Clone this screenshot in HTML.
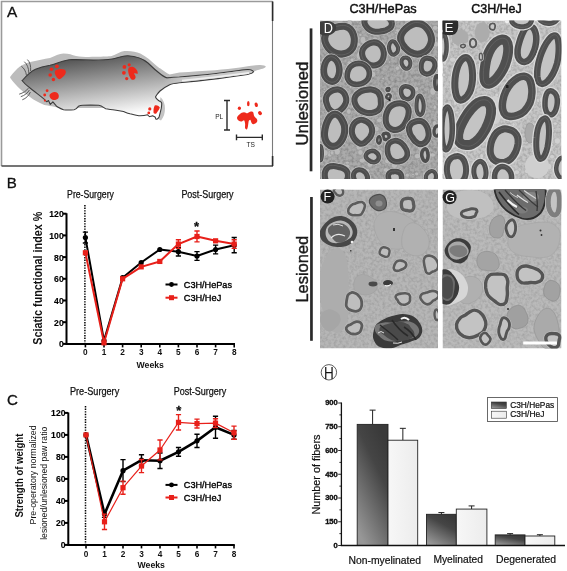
<!DOCTYPE html>
<html><head><meta charset="utf-8"><title>Figure</title>
<style>
html,body{margin:0;padding:0;background:#fff;width:567px;height:571px;overflow:hidden}
svg{display:block}
text{font-family:'Liberation Sans', Arial, Helvetica, sans-serif}
</style></head><body>
<svg width="567" height="571" viewBox="0 0 567 571">
<defs>
<linearGradient id="ratg" gradientUnits="userSpaceOnUse" x1="63.8" y1="52.5" x2="72.8" y2="121.9">
<stop offset="0" stop-color="#404040"/><stop offset="1" stop-color="#ffffff"/>
</linearGradient>
<linearGradient id="darkbar" x1="0.75" y1="0.05" x2="0.25" y2="1">
<stop offset="0" stop-color="#3a3a3a"/><stop offset="0.3" stop-color="#454545"/><stop offset="1" stop-color="#979797"/>
</linearGradient>
<linearGradient id="lightbar" x1="0" y1="0" x2="1" y2="0">
<stop offset="0" stop-color="#f7f7f7"/><stop offset="1" stop-color="#ececec"/>
</linearGradient>
<linearGradient id="tailg" gradientUnits="userSpaceOnUse" x1="163" y1="0" x2="185" y2="0">
<stop offset="0" stop-color="#c8c8c8" stop-opacity="0"/><stop offset="1" stop-color="#c8c8c8" stop-opacity="1"/>
</linearGradient>
<filter id="blur1" x="-10%" y="-10%" width="120%" height="120%"><feGaussianBlur stdDeviation="0.6"/></filter>
<filter id="blur2" x="-10%" y="-10%" width="120%" height="120%"><feGaussianBlur stdDeviation="1.2"/></filter>
<filter id="tex" x="0" y="0" width="100%" height="100%">
<feTurbulence type="fractalNoise" baseFrequency="0.35" numOctaves="2" seed="3" result="n"/>
<feColorMatrix in="n" type="matrix" values="0 0 0 0 0  0 0 0 0 0  0 0 0 0 0  0 0 0 -1.2 0.75" result="m"/>
<feComposite in="m" in2="SourceGraphic" operator="in"/>
</filter>
<clipPath id="cD"><rect x="320" y="20.5" width="118" height="158.5"/></clipPath>
<clipPath id="cE"><rect x="442.5" y="20.5" width="119" height="158.5"/></clipPath>
<clipPath id="cF"><rect x="320" y="189.5" width="118" height="159"/></clipPath>
<clipPath id="cG"><rect x="442.5" y="189.5" width="119" height="159"/></clipPath>
</defs>
<rect width="567" height="571" fill="#fff"/>

<g id="panelA">
<path d="M1.5 166 V1.5 H272.5" fill="none" stroke="#9a9a9a" stroke-width="1.6"/>
<path d="M272.5 1.5 V166" fill="none" stroke="#7a7a7a" stroke-width="1.1"/>
<path d="M273 166 H1.5" fill="none" stroke="#474747" stroke-width="1.7"/>
<path d="M272.6 1.5 V21 M272.6 156 V166" fill="none" stroke="#2a2a2a" stroke-width="1.6"/>
<text x="7.1" y="16.7" font-size="15.4" fill="#111" stroke="#111" stroke-width="0.3">A</text>
<path d="M10.1 77 C13 73 16.5 69 20.2 66.2 C24 63.8 27.5 62.5 31.4 61.7 C38 60.2 44 59 50 58 C55 56 59 53.8 63.5 53.5 C69 53.5 72 55 76 55.9 C82 57 88 57 95 56.8 C104 56.5 108 56.3 111.7 55.9 C116 55 120 51.5 124.4 51.1 C130 50.7 136 51.5 140.3 53.5 C147 57 151 61 156.2 65.4 C158 67 159 67.8 160 68.2 C164 71 167 73.5 169.7 74.5 C173 73.8 176 73.1 179.4 72.6 C192 71.6 204 70.9 215 70.2 C224 69.4 232 68.4 240 67.5 C247 66.6 253 65.3 259.4 64.9 C263 64.8 265.5 65.5 265.9 66.7 C265 68 263 68.7 261.3 69 C258 69.8 255.5 70.8 253.5 71.8 L240 73 L200 79 L168 85 L150 95 L140 108 L60 108 C52 106 46 105.5 43.2 104.4 C38 102.5 34 100 30 97 C24 93 16 86 10.3 78 Z" fill="#bcbcbc" filter="url(#blur1)"/>
<path d="M160.5 97 C163.5 100 165 104 165 108.5 C165 113 163.8 117 161 120.5 L158 119 L160 101 Z" fill="#c4c4c4" filter="url(#blur1)"/>
<path d="M22.3 80.5 C27 75 31 71.5 35.5 69.3 C40 67.2 45 66 50 65.2 C57 63.5 64 60 72 59.5 C84 60 100 61 112 59 C118 58 122 55.5 128 55.8 C136 56.2 142 58 148 63 C152 67 157 71.5 161 74.5 C163.5 76.3 165.5 77.6 167.3 77.9 C172 77.5 176 77.2 179.4 77 C186 76.4 192 75.9 198.8 75.3 C205 74.7 212 74 218 73.2 C224 72.4 230 71.6 235 71 C240 70.4 244 69.8 247.5 69.6 C250.5 69.5 252.8 70.3 253.5 71.8 C252.5 73.2 250 74 247.5 74.5 C243 75.2 239 75.8 235 76.3 C229 77.1 223 77.9 218 78.6 C211 79.5 205 80.2 198.8 80.9 C192 81.6 185 82.2 179.4 82.8 C175 83.3 172 83.8 169.7 84.7 C166 86.5 162 89 160 91 C158 93 155 97 155.6 97.2 C156.5 99 158 100 158.2 100.3 C160 101.5 161.8 102 161.7 103 C161.8 105 161.5 107 161.3 108.2 C160.5 112 159.5 115 159.1 117 C158 119 156.5 119.5 156 119.2 C155.5 118.5 155.3 117.5 155.1 117 C154 116.5 153 116 152.5 115.7 C151 116.5 150 116.5 149.4 116.6 C148.5 116 148 115.2 147.6 114.8 C145 115.5 142 115.8 138.8 115.7 C134 115 131 114 130 113.8 C127 113 125 112 123.5 111.5 C119 110.5 116 110 112.9 109.7 C109 109.5 107.5 109 105.8 108.8 C103 107 101 105.5 98.8 105.3 C93 105 88 105 82.9 105.3 C80.5 105.5 79.5 105.8 78.5 106.2 C77 108 76 109.5 74.1 109.7 C70 110 66 110 63.5 109.7 C60 108.5 58 107 56.5 106.2 L52.9 101.8 L50.3 104.4 L48.5 100.5 L46.8 101.8 L44.1 99.1 C40 96 34 91 30 88 C26 85 23.5 82.5 22 80.5 Z" fill="url(#ratg)" stroke="#3c3c3c" stroke-width="1.1" stroke-linejoin="round"/>
<path d="M163 78.2 C170 78 175 77.8 179.4 77.6 C192 76.9 205 75.4 218 73.8 C230 72.3 240 70.6 247.5 70.2 C250.5 70.1 252.3 70.7 252.7 71.8 C251.5 72.8 249.5 73.4 247.5 73.9 C236 75.7 226 77 218 78 C205 79.6 192 81 179.4 82.2 C172 82.9 168 83.4 163 84.5 Z" fill="url(#tailg)"/>
<path d="M182 80.7 C200 79 222 76.6 249 72.9" fill="none" stroke="#f4f4f4" stroke-width="1.7" opacity="0.9"/>
<g fill="none" stroke="#505050" stroke-width="0.9"><path d="M21.3 66.2 C24 68 26 71.5 26.5 75.5"/><path d="M24.3 61.7 C27 64 28.8 68 28.8 73"/><path d="M27.4 59.6 C30 62 31 66 30.6 71"/><path d="M19.2 94.2 C23 93 26.5 91 28.4 88.1"/><path d="M20.8 96.7 C24.5 95.5 27.8 93 29.4 90"/><path d="M22.3 99.8 C26 98.5 29 95.5 30.4 92"/></g>
<path d="M56 70 C58.5 68.8 62 68.6 64.5 69.5 C66.2 70.5 66.2 72.5 65 74.5 C63.5 76.5 61.5 78.5 59.5 79.3 C57.5 79 56 76.5 55 74 C54.4 72.5 54.8 71 56 70 Z" fill="#ee2a1c"/><circle cx="56.9" cy="66.3" r="1.9" fill="#ee2a1c"/><circle cx="51.4" cy="69.2" r="1.8" fill="#ee2a1c"/><circle cx="50.2" cy="75" r="1.8" fill="#ee2a1c"/><circle cx="53.4" cy="79.5" r="1.7" fill="#ee2a1c"/>
<path d="M51.5 93 C53.5 91.6 56 91.7 57.5 93 C59 94.5 59.2 96.5 58.3 98.2 C57 99.8 54.5 100.4 52.5 99.8 C50.5 99 49.3 97 49.5 95.3 C49.7 94.3 50.5 93.5 51.5 93 Z" fill="#ee2a1c"/><circle cx="47.1" cy="90.7" r="1.4" fill="#ee2a1c"/><circle cx="44.7" cy="95" r="1.4" fill="#ee2a1c"/><circle cx="44.9" cy="100.6" r="1.1" fill="#ee2a1c"/>
<path d="M129 67.5 C131 66 134 66.5 135.5 68.5 C137 70 138.3 72 137.5 74 C136.5 73.5 135 73 134 73.5 C134.5 75 136 76 135.5 78 C134.5 80 132.5 80.5 131 79 C129.5 77 128.5 74 128.2 71.5 C128 70 128.2 68.5 129 67.5 Z" fill="#ee2a1c"/><circle cx="129.2" cy="64.8" r="1.6" fill="#ee2a1c"/><circle cx="124.4" cy="66.9" r="1.9" fill="#ee2a1c"/><circle cx="123.9" cy="72.8" r="1.9" fill="#ee2a1c"/><circle cx="126.7" cy="78.6" r="1.6" fill="#ee2a1c"/>
<path d="M154.7 105.5 C156.5 104.8 158.5 105.5 159.8 107.2 C159.5 109.5 157.5 111.5 156.3 113.6 C155.3 114 154 113.8 153.6 113 C153.3 110.5 153.6 107.5 154.7 105.5 Z" fill="#ee2a1c"/><circle cx="149.8" cy="108.9" r="1.6" fill="#ee2a1c"/><circle cx="148.8" cy="112.9" r="1.4" fill="#ee2a1c"/>
<g stroke="#2a2a2a" stroke-width="1.4" fill="none"><path d="M227 100.5 V130 M224 100.5 H230 M224 130 H230"/><path d="M236.5 137.4 H262.3 M236.5 134.5 V140.3 M262.3 134.5 V140.3"/></g>
<text x="219.2" y="118.5" font-size="6.6" fill="#222" text-anchor="middle">PL</text>
<text x="250.6" y="147.3" font-size="6.6" fill="#222" text-anchor="middle">TS</text>
<path d="M239.4 114.5 C241 113 242.5 112.3 244 112.2 C245.5 112.3 246.5 113.5 247.4 113.3 C248.5 112.8 249.8 111.6 250.9 111.6 C252 111.5 253 111.8 253.2 112.2 C253.8 113.5 253.6 115 254.3 116.2 C255.2 117.5 256.8 118.3 257.2 119.7 C257.5 121 257.2 122 256.6 122.5 C255.5 123.5 254.3 124.3 253.2 124.2 C252.2 124 251.6 123.3 251.4 122.5 C251 121.5 250.8 120.2 250.3 119.7 C249.5 119.8 248.9 120.5 248.6 121.4 C248.2 123 248.4 124.5 248 126 C247.7 127.3 247.5 128.6 246.9 129.4 C246.3 129.6 245.5 129.2 245.1 128.3 C244.8 126.8 245.3 125.2 245.1 123.7 C245 122.2 244.6 120.8 244 120.2 C243.2 120.3 242.5 121.2 241.7 121.4 C240.7 121.6 239.7 121.3 238.8 120.8 C237.9 120.2 237.3 119.4 237.1 118.5 C236.9 117.7 237.1 116.8 237.7 116.2 C238.2 115.5 238.8 115 239.4 114.5 Z" fill="#ee2a1c"/>
<ellipse cx="239.4" cy="108.3" rx="1.6" ry="1.8" fill="#ee2a1c"/>
<ellipse cx="248.3" cy="103.7" rx="1.3" ry="2.6" fill="#ee2a1c"/>
<ellipse cx="256.3" cy="104.8" rx="1.6" ry="2.3" fill="#ee2a1c" transform="rotate(-15 256.3 104.8)"/>
<ellipse cx="260" cy="113.1" rx="1.8" ry="2.2" fill="#ee2a1c" transform="rotate(-40 260 113.1)"/>
</g>
<g>
<text x="6.7" y="187.7" font-size="15.1" fill="#111" stroke="#111" stroke-width="0.3">B</text>
<text x="90.5" y="197.6" font-size="10" fill="#111" stroke="#111" stroke-width="0.25" text-anchor="middle" textLength="46.8" lengthAdjust="spacingAndGlyphs">Pre-Surgery</text>
<text x="207.5" y="197.6" font-size="10" fill="#111" stroke="#111" stroke-width="0.25" text-anchor="middle" textLength="52.2" lengthAdjust="spacingAndGlyphs">Post-Surgery</text>
<text x="196.6" y="230.8" font-size="13" font-weight="bold" fill="#111" stroke="#111" stroke-width="0.3" text-anchor="middle">*</text>
<path d="M66.5 213.2 V343.9 H235.00000000000003" fill="none" stroke="#000" stroke-width="2"/>
<path d="M63.0 343.90 H66.5" stroke="#000" stroke-width="2"/>
<text x="63.7" y="347.30" font-size="9.8" font-weight="bold" fill="#000" stroke="#000" stroke-width="0.15" text-anchor="end" textLength="4.8" lengthAdjust="spacingAndGlyphs">0</text>
<path d="M63.0 322.20 H66.5" stroke="#000" stroke-width="2"/>
<text x="63.7" y="325.60" font-size="9.8" font-weight="bold" fill="#000" stroke="#000" stroke-width="0.15" text-anchor="end" textLength="9.6" lengthAdjust="spacingAndGlyphs">20</text>
<path d="M63.0 300.50 H66.5" stroke="#000" stroke-width="2"/>
<text x="63.7" y="303.90" font-size="9.8" font-weight="bold" fill="#000" stroke="#000" stroke-width="0.15" text-anchor="end" textLength="9.6" lengthAdjust="spacingAndGlyphs">40</text>
<path d="M63.0 278.80 H66.5" stroke="#000" stroke-width="2"/>
<text x="63.7" y="282.20" font-size="9.8" font-weight="bold" fill="#000" stroke="#000" stroke-width="0.15" text-anchor="end" textLength="9.6" lengthAdjust="spacingAndGlyphs">60</text>
<path d="M63.0 257.10 H66.5" stroke="#000" stroke-width="2"/>
<text x="63.7" y="260.50" font-size="9.8" font-weight="bold" fill="#000" stroke="#000" stroke-width="0.15" text-anchor="end" textLength="9.6" lengthAdjust="spacingAndGlyphs">80</text>
<path d="M63.0 235.40 H66.5" stroke="#000" stroke-width="2"/>
<text x="63.7" y="238.80" font-size="9.8" font-weight="bold" fill="#000" stroke="#000" stroke-width="0.15" text-anchor="end" textLength="14.4" lengthAdjust="spacingAndGlyphs">100</text>
<path d="M63.0 213.70 H66.5" stroke="#000" stroke-width="2"/>
<text x="63.7" y="217.10" font-size="9.8" font-weight="bold" fill="#000" stroke="#000" stroke-width="0.15" text-anchor="end" textLength="14.4" lengthAdjust="spacingAndGlyphs">120</text>
<path d="M85.40 343.9 V347.4" stroke="#000" stroke-width="1.6"/>
<text x="85.40" y="355.3" font-size="9.4" font-weight="bold" fill="#111" text-anchor="middle" textLength="4.6" lengthAdjust="spacingAndGlyphs">0</text>
<path d="M104.00 343.9 V347.4" stroke="#000" stroke-width="1.6"/>
<text x="104.00" y="355.3" font-size="9.4" font-weight="bold" fill="#111" text-anchor="middle" textLength="4.6" lengthAdjust="spacingAndGlyphs">1</text>
<path d="M122.60 343.9 V347.4" stroke="#000" stroke-width="1.6"/>
<text x="122.60" y="355.3" font-size="9.4" font-weight="bold" fill="#111" text-anchor="middle" textLength="4.6" lengthAdjust="spacingAndGlyphs">2</text>
<path d="M141.20 343.9 V347.4" stroke="#000" stroke-width="1.6"/>
<text x="141.20" y="355.3" font-size="9.4" font-weight="bold" fill="#111" text-anchor="middle" textLength="4.6" lengthAdjust="spacingAndGlyphs">3</text>
<path d="M159.80 343.9 V347.4" stroke="#000" stroke-width="1.6"/>
<text x="159.80" y="355.3" font-size="9.4" font-weight="bold" fill="#111" text-anchor="middle" textLength="4.6" lengthAdjust="spacingAndGlyphs">4</text>
<path d="M178.40 343.9 V347.4" stroke="#000" stroke-width="1.6"/>
<text x="178.40" y="355.3" font-size="9.4" font-weight="bold" fill="#111" text-anchor="middle" textLength="4.6" lengthAdjust="spacingAndGlyphs">5</text>
<path d="M197.00 343.9 V347.4" stroke="#000" stroke-width="1.6"/>
<text x="197.00" y="355.3" font-size="9.4" font-weight="bold" fill="#111" text-anchor="middle" textLength="4.6" lengthAdjust="spacingAndGlyphs">6</text>
<path d="M215.60 343.9 V347.4" stroke="#000" stroke-width="1.6"/>
<text x="215.60" y="355.3" font-size="9.4" font-weight="bold" fill="#111" text-anchor="middle" textLength="4.6" lengthAdjust="spacingAndGlyphs">7</text>
<path d="M234.20 343.9 V347.4" stroke="#000" stroke-width="1.6"/>
<text x="234.20" y="355.3" font-size="9.4" font-weight="bold" fill="#111" text-anchor="middle" textLength="4.6" lengthAdjust="spacingAndGlyphs">8</text>
<text x="150.2" y="368.4" font-size="9" font-weight="bold" fill="#111" text-anchor="middle" textLength="27.3" lengthAdjust="spacingAndGlyphs">Weeks</text>
<path d="M84.90 205 V343.9" stroke="#000" stroke-width="1.5" stroke-dasharray="1.4 1.2"/>
<text transform="translate(41.8 278.2) rotate(-90)" x="0" y="0" font-size="12.4" font-weight="bold" fill="#111" text-anchor="middle" textLength="133" lengthAdjust="spacingAndGlyphs">Sciatic functional index %</text>
<polyline points="85.40,237.57 104.00,340.64 122.60,277.71 141.20,262.52 159.80,249.50 178.40,251.67 197.00,256.01 215.60,249.50 234.20,245.16" fill="none" stroke="#000" stroke-width="2.0" stroke-linejoin="round"/>
<path d="M85.40 242.99 V232.14 M82.80 242.99 h5.2 M82.80 232.14 h5.2" stroke="#000" stroke-width="1.4" fill="none"/>
<circle cx="85.40" cy="237.57" r="2.6" fill="#000"/>
<circle cx="104.00" cy="340.64" r="2.6" fill="#000"/>
<circle cx="122.60" cy="277.71" r="2.6" fill="#000"/>
<circle cx="141.20" cy="262.52" r="2.6" fill="#000"/>
<circle cx="159.80" cy="249.50" r="2.6" fill="#000"/>
<path d="M178.40 256.01 V247.33 M175.80 256.01 h5.2 M175.80 247.33 h5.2" stroke="#000" stroke-width="1.4" fill="none"/>
<circle cx="178.40" cy="251.67" r="2.6" fill="#000"/>
<path d="M197.00 260.35 V251.67 M194.40 260.35 h5.2 M194.40 251.67 h5.2" stroke="#000" stroke-width="1.4" fill="none"/>
<circle cx="197.00" cy="256.01" r="2.6" fill="#000"/>
<path d="M215.60 253.84 V245.16 M213.00 253.84 h5.2 M213.00 245.16 h5.2" stroke="#000" stroke-width="1.4" fill="none"/>
<circle cx="215.60" cy="249.50" r="2.6" fill="#000"/>
<path d="M234.20 252.76 V237.57 M231.60 252.76 h5.2 M231.60 237.57 h5.2" stroke="#000" stroke-width="1.4" fill="none"/>
<circle cx="234.20" cy="245.16" r="2.6" fill="#000"/>
<polyline points="85.40,252.76 104.00,342.81 122.60,278.80 141.20,266.87 159.80,261.44 178.40,244.08 197.00,236.48 215.60,240.82 234.20,244.08" fill="none" stroke="#e8201a" stroke-width="2.0" stroke-linejoin="round"/>
<rect x="82.80" y="250.16" width="5.2" height="5.2" fill="#e8201a"/>
<rect x="101.40" y="340.21" width="5.2" height="5.2" fill="#e8201a"/>
<rect x="120.00" y="276.20" width="5.2" height="5.2" fill="#e8201a"/>
<rect x="138.60" y="264.26" width="5.2" height="5.2" fill="#e8201a"/>
<rect x="157.20" y="258.84" width="5.2" height="5.2" fill="#e8201a"/>
<path d="M178.40 248.42 V239.74 M175.80 248.42 h5.2 M175.80 239.74 h5.2" stroke="#e8201a" stroke-width="1.4" fill="none"/>
<rect x="175.80" y="241.48" width="5.2" height="5.2" fill="#e8201a"/>
<path d="M197.00 241.91 V231.06 M194.40 241.91 h5.2 M194.40 231.06 h5.2" stroke="#e8201a" stroke-width="1.4" fill="none"/>
<rect x="194.40" y="233.88" width="5.2" height="5.2" fill="#e8201a"/>
<rect x="213.00" y="238.22" width="5.2" height="5.2" fill="#e8201a"/>
<path d="M234.20 248.42 V239.74 M231.60 248.42 h5.2 M231.60 239.74 h5.2" stroke="#e8201a" stroke-width="1.4" fill="none"/>
<rect x="231.60" y="241.48" width="5.2" height="5.2" fill="#e8201a"/>
<path d="M165.5 284.5 H177.5" stroke="#000" stroke-width="2"/><circle cx="171.5" cy="284.5" r="2.4" fill="#000"/>
<path d="M165.5 297.7 H177.5" stroke="#e8201a" stroke-width="2"/><rect x="169" y="295.2" width="5" height="5" fill="#e8201a"/>
<text x="183.8" y="287.9" font-size="9.9" fill="#000" stroke="#000" stroke-width="0.35" textLength="48.2" lengthAdjust="spacingAndGlyphs">C3H/HePas</text>
<text x="183.8" y="301.09999999999997" font-size="9.9" fill="#000" stroke="#000" stroke-width="0.35" textLength="37.5" lengthAdjust="spacingAndGlyphs">C3H/HeJ</text>
</g>
<g>
<text x="7.0" y="404.8" font-size="15.1" fill="#111" stroke="#111" stroke-width="0.3">C</text>
<text x="94.6" y="394.7" font-size="10" fill="#111" stroke="#111" stroke-width="0.25" text-anchor="middle" textLength="49.3" lengthAdjust="spacingAndGlyphs">Pre-Surgery</text>
<text x="200.1" y="394.7" font-size="10" fill="#111" stroke="#111" stroke-width="0.25" text-anchor="middle" textLength="52.5" lengthAdjust="spacingAndGlyphs">Post-Surgery</text>
<text x="178.7" y="414.6" font-size="13" font-weight="bold" fill="#111" stroke="#111" stroke-width="0.3" text-anchor="middle">*</text>
<path d="M68.3 412.4 V544.9 H234.8" fill="none" stroke="#000" stroke-width="2"/>
<path d="M64.8 544.90 H68.3" stroke="#000" stroke-width="2"/>
<text x="65.5" y="548.30" font-size="9.8" font-weight="bold" fill="#000" stroke="#000" stroke-width="0.15" text-anchor="end" textLength="4.8" lengthAdjust="spacingAndGlyphs">0</text>
<path d="M64.8 522.90 H68.3" stroke="#000" stroke-width="2"/>
<text x="65.5" y="526.30" font-size="9.8" font-weight="bold" fill="#000" stroke="#000" stroke-width="0.15" text-anchor="end" textLength="9.6" lengthAdjust="spacingAndGlyphs">20</text>
<path d="M64.8 500.90 H68.3" stroke="#000" stroke-width="2"/>
<text x="65.5" y="504.30" font-size="9.8" font-weight="bold" fill="#000" stroke="#000" stroke-width="0.15" text-anchor="end" textLength="9.6" lengthAdjust="spacingAndGlyphs">40</text>
<path d="M64.8 478.90 H68.3" stroke="#000" stroke-width="2"/>
<text x="65.5" y="482.30" font-size="9.8" font-weight="bold" fill="#000" stroke="#000" stroke-width="0.15" text-anchor="end" textLength="9.6" lengthAdjust="spacingAndGlyphs">60</text>
<path d="M64.8 456.90 H68.3" stroke="#000" stroke-width="2"/>
<text x="65.5" y="460.30" font-size="9.8" font-weight="bold" fill="#000" stroke="#000" stroke-width="0.15" text-anchor="end" textLength="9.6" lengthAdjust="spacingAndGlyphs">80</text>
<path d="M64.8 434.90 H68.3" stroke="#000" stroke-width="2"/>
<text x="65.5" y="438.30" font-size="9.8" font-weight="bold" fill="#000" stroke="#000" stroke-width="0.15" text-anchor="end" textLength="14.4" lengthAdjust="spacingAndGlyphs">100</text>
<path d="M64.8 412.90 H68.3" stroke="#000" stroke-width="2"/>
<text x="65.5" y="416.30" font-size="9.8" font-weight="bold" fill="#000" stroke="#000" stroke-width="0.15" text-anchor="end" textLength="14.4" lengthAdjust="spacingAndGlyphs">120</text>
<path d="M86.00 544.9 V548.4" stroke="#000" stroke-width="1.6"/>
<text x="86.00" y="556.6" font-size="9.4" font-weight="bold" fill="#111" text-anchor="middle" textLength="4.6" lengthAdjust="spacingAndGlyphs">0</text>
<path d="M104.50 544.9 V548.4" stroke="#000" stroke-width="1.6"/>
<text x="104.50" y="556.6" font-size="9.4" font-weight="bold" fill="#111" text-anchor="middle" textLength="4.6" lengthAdjust="spacingAndGlyphs">1</text>
<path d="M123.00 544.9 V548.4" stroke="#000" stroke-width="1.6"/>
<text x="123.00" y="556.6" font-size="9.4" font-weight="bold" fill="#111" text-anchor="middle" textLength="4.6" lengthAdjust="spacingAndGlyphs">2</text>
<path d="M141.50 544.9 V548.4" stroke="#000" stroke-width="1.6"/>
<text x="141.50" y="556.6" font-size="9.4" font-weight="bold" fill="#111" text-anchor="middle" textLength="4.6" lengthAdjust="spacingAndGlyphs">3</text>
<path d="M160.00 544.9 V548.4" stroke="#000" stroke-width="1.6"/>
<text x="160.00" y="556.6" font-size="9.4" font-weight="bold" fill="#111" text-anchor="middle" textLength="4.6" lengthAdjust="spacingAndGlyphs">4</text>
<path d="M178.50 544.9 V548.4" stroke="#000" stroke-width="1.6"/>
<text x="178.50" y="556.6" font-size="9.4" font-weight="bold" fill="#111" text-anchor="middle" textLength="4.6" lengthAdjust="spacingAndGlyphs">5</text>
<path d="M197.00 544.9 V548.4" stroke="#000" stroke-width="1.6"/>
<text x="197.00" y="556.6" font-size="9.4" font-weight="bold" fill="#111" text-anchor="middle" textLength="4.6" lengthAdjust="spacingAndGlyphs">6</text>
<path d="M215.50 544.9 V548.4" stroke="#000" stroke-width="1.6"/>
<text x="215.50" y="556.6" font-size="9.4" font-weight="bold" fill="#111" text-anchor="middle" textLength="4.6" lengthAdjust="spacingAndGlyphs">7</text>
<path d="M234.00 544.9 V548.4" stroke="#000" stroke-width="1.6"/>
<text x="234.00" y="556.6" font-size="9.4" font-weight="bold" fill="#111" text-anchor="middle" textLength="4.6" lengthAdjust="spacingAndGlyphs">8</text>
<text x="151.2" y="568.4" font-size="9" font-weight="bold" fill="#111" text-anchor="middle" textLength="27.3" lengthAdjust="spacingAndGlyphs">Weeks</text>
<path d="M85.50 406 V544.9" stroke="#000" stroke-width="1.5" stroke-dasharray="1.4 1.2"/>
<text transform="translate(23.4 475.6) rotate(-90)" x="0" y="0" font-size="10" font-weight="bold" fill="#111" text-anchor="middle" textLength="84" lengthAdjust="spacingAndGlyphs">Strength of weight</text>
<text transform="translate(35.6 474.9) rotate(-90)" x="0" y="0" font-size="9.8" font-weight="normal" fill="#111" text-anchor="middle" textLength="99" lengthAdjust="spacingAndGlyphs">Pre-operatory normalized</text>
<text transform="translate(47.2 483.3) rotate(-90)" x="0" y="0" font-size="9.5" font-weight="normal" fill="#111" text-anchor="middle" textLength="113" lengthAdjust="spacingAndGlyphs">lesioned/unlesioned paw ratio</text>
<polyline points="86.00,434.90 104.50,514.10 123.00,470.65 141.50,460.20 160.00,460.75 178.50,451.84 197.00,440.84 215.50,427.20 234.00,434.90" fill="none" stroke="#000" stroke-width="2.6" stroke-linejoin="round"/>
<circle cx="86.00" cy="434.90" r="2.6" fill="#000"/>
<path d="M104.50 517.40 V510.80 M101.90 517.40 h5.2 M101.90 510.80 h5.2" stroke="#000" stroke-width="1.4" fill="none"/>
<circle cx="104.50" cy="514.10" r="2.6" fill="#000"/>
<path d="M123.00 481.65 V459.65 M120.40 481.65 h5.2 M120.40 459.65 h5.2" stroke="#000" stroke-width="1.4" fill="none"/>
<circle cx="123.00" cy="470.65" r="2.6" fill="#000"/>
<path d="M141.50 465.70 V454.70 M138.90 465.70 h5.2 M138.90 454.70 h5.2" stroke="#000" stroke-width="1.4" fill="none"/>
<circle cx="141.50" cy="460.20" r="2.6" fill="#000"/>
<path d="M160.00 468.45 V453.05 M157.40 468.45 h5.2 M157.40 453.05 h5.2" stroke="#000" stroke-width="1.4" fill="none"/>
<circle cx="160.00" cy="460.75" r="2.6" fill="#000"/>
<path d="M178.50 456.24 V447.44 M175.90 456.24 h5.2 M175.90 447.44 h5.2" stroke="#000" stroke-width="1.4" fill="none"/>
<circle cx="178.50" cy="451.84" r="2.6" fill="#000"/>
<path d="M197.00 447.44 V434.24 M194.40 447.44 h5.2 M194.40 434.24 h5.2" stroke="#000" stroke-width="1.4" fill="none"/>
<circle cx="197.00" cy="440.84" r="2.6" fill="#000"/>
<path d="M215.50 438.20 V416.20 M212.90 438.20 h5.2 M212.90 416.20 h5.2" stroke="#000" stroke-width="1.4" fill="none"/>
<circle cx="215.50" cy="427.20" r="2.6" fill="#000"/>
<path d="M234.00 439.30 V430.50 M231.40 439.30 h5.2 M231.40 430.50 h5.2" stroke="#000" stroke-width="1.4" fill="none"/>
<circle cx="234.00" cy="434.90" r="2.6" fill="#000"/>
<polyline points="86.00,434.90 104.50,521.80 123.00,487.70 141.50,466.03 160.00,449.97 178.50,422.36 197.00,423.57 215.50,423.13 234.00,432.70" fill="none" stroke="#e8201a" stroke-width="1.2" stroke-linejoin="round"/>
<rect x="83.40" y="432.30" width="5.2" height="5.2" fill="#e8201a"/>
<path d="M104.50 529.50 V514.10 M101.90 529.50 h5.2 M101.90 514.10 h5.2" stroke="#e8201a" stroke-width="1.4" fill="none"/>
<rect x="101.90" y="519.20" width="5.2" height="5.2" fill="#e8201a"/>
<path d="M123.00 494.30 V481.10 M120.40 494.30 h5.2 M120.40 481.10 h5.2" stroke="#e8201a" stroke-width="1.4" fill="none"/>
<rect x="120.40" y="485.10" width="5.2" height="5.2" fill="#e8201a"/>
<path d="M141.50 472.63 V459.43 M138.90 472.63 h5.2 M138.90 459.43 h5.2" stroke="#e8201a" stroke-width="1.4" fill="none"/>
<rect x="138.90" y="463.43" width="5.2" height="5.2" fill="#e8201a"/>
<path d="M160.00 459.87 V440.07 M157.40 459.87 h5.2 M157.40 440.07 h5.2" stroke="#e8201a" stroke-width="1.4" fill="none"/>
<rect x="157.40" y="447.37" width="5.2" height="5.2" fill="#e8201a"/>
<path d="M178.50 430.06 V414.66 M175.90 430.06 h5.2 M175.90 414.66 h5.2" stroke="#e8201a" stroke-width="1.4" fill="none"/>
<rect x="175.90" y="419.76" width="5.2" height="5.2" fill="#e8201a"/>
<path d="M197.00 427.97 V419.17 M194.40 427.97 h5.2 M194.40 419.17 h5.2" stroke="#e8201a" stroke-width="1.4" fill="none"/>
<rect x="194.40" y="420.97" width="5.2" height="5.2" fill="#e8201a"/>
<path d="M215.50 427.53 V418.73 M212.90 427.53 h5.2 M212.90 418.73 h5.2" stroke="#e8201a" stroke-width="1.4" fill="none"/>
<rect x="212.90" y="420.53" width="5.2" height="5.2" fill="#e8201a"/>
<path d="M234.00 439.30 V426.10 M231.40 439.30 h5.2 M231.40 426.10 h5.2" stroke="#e8201a" stroke-width="1.4" fill="none"/>
<rect x="231.40" y="430.10" width="5.2" height="5.2" fill="#e8201a"/>
<path d="M165.5 484.9 H177.5" stroke="#000" stroke-width="2"/><circle cx="171.5" cy="484.9" r="2.4" fill="#000"/>
<path d="M165.5 497.5 H177.5" stroke="#e8201a" stroke-width="2"/><rect x="169" y="495.0" width="5" height="5" fill="#e8201a"/>
<text x="183.8" y="488.29999999999995" font-size="9.9" fill="#000" stroke="#000" stroke-width="0.35" textLength="48.2" lengthAdjust="spacingAndGlyphs">C3H/HePas</text>
<text x="183.8" y="500.9" font-size="9.9" fill="#000" stroke="#000" stroke-width="0.35" textLength="37.5" lengthAdjust="spacingAndGlyphs">C3H/HeJ</text>
</g>
<g>
<circle cx="328.9" cy="372.3" r="7.7" fill="none" stroke="#333" stroke-width="0.8"/>
<text x="329.0" y="378.5" font-size="16.6" fill="#111" text-anchor="middle" textLength="9.8" lengthAdjust="spacingAndGlyphs">H</text>
<path d="M372.60 424.38 V410.13 M369.60 410.13 h6" stroke="#222" stroke-width="1" fill="none"/>
<rect x="357.2" y="424.38" width="30.80" height="121.12" fill="url(#darkbar)" stroke="#222" stroke-width="0.9"/>
<path d="M402.85 440.21 V428.34 M399.85 428.34 h6" stroke="#222" stroke-width="1" fill="none"/>
<rect x="388" y="440.21" width="29.70" height="105.29" fill="url(#lightbar)" stroke="#222" stroke-width="0.9"/>
<path d="M441.40 514.31 V512.57 M438.40 512.57 h6" stroke="#222" stroke-width="1" fill="none"/>
<rect x="426.5" y="514.31" width="29.80" height="31.19" fill="url(#darkbar)" stroke="#222" stroke-width="0.9"/>
<path d="M471.60 509.08 V505.92 M468.60 505.92 h6" stroke="#222" stroke-width="1" fill="none"/>
<rect x="456.3" y="509.08" width="30.60" height="36.42" fill="url(#lightbar)" stroke="#222" stroke-width="0.9"/>
<path d="M510.10 534.89 V533.63 M507.10 533.63 h6" stroke="#222" stroke-width="1" fill="none"/>
<rect x="495.2" y="534.89" width="29.80" height="10.61" fill="url(#darkbar)" stroke="#222" stroke-width="0.9"/>
<path d="M539.90 536.00 V534.73 M536.90 534.73 h6" stroke="#222" stroke-width="1" fill="none"/>
<rect x="525" y="536.00" width="29.80" height="9.50" fill="url(#lightbar)" stroke="#222" stroke-width="0.9"/>
<path d="M341.4 402.5 V545.5 H565" fill="none" stroke="#111" stroke-width="1.3"/>
<path d="M338.2 545.50 H341.4" stroke="#111" stroke-width="0.9"/>
<text x="337.8" y="547.80" font-size="7.6" fill="#111" stroke="#111" stroke-width="0.35" text-anchor="end" font-weight="bold">0</text>
<path d="M339.4 533.63 H341.4" stroke="#111" stroke-width="0.9"/>
<path d="M338.2 521.75 H341.4" stroke="#111" stroke-width="0.9"/>
<text x="337.8" y="524.05" font-size="7.6" fill="#111" stroke="#111" stroke-width="0.35" text-anchor="end" font-weight="bold">150</text>
<path d="M339.4 509.88 H341.4" stroke="#111" stroke-width="0.9"/>
<path d="M338.2 498.00 H341.4" stroke="#111" stroke-width="0.9"/>
<text x="337.8" y="500.30" font-size="7.6" fill="#111" stroke="#111" stroke-width="0.35" text-anchor="end" font-weight="bold">300</text>
<path d="M339.4 486.13 H341.4" stroke="#111" stroke-width="0.9"/>
<path d="M338.2 474.25 H341.4" stroke="#111" stroke-width="0.9"/>
<text x="337.8" y="476.55" font-size="7.6" fill="#111" stroke="#111" stroke-width="0.35" text-anchor="end" font-weight="bold">450</text>
<path d="M339.4 462.38 H341.4" stroke="#111" stroke-width="0.9"/>
<path d="M338.2 450.50 H341.4" stroke="#111" stroke-width="0.9"/>
<text x="337.8" y="452.80" font-size="7.6" fill="#111" stroke="#111" stroke-width="0.35" text-anchor="end" font-weight="bold">600</text>
<path d="M339.4 438.63 H341.4" stroke="#111" stroke-width="0.9"/>
<path d="M338.2 426.75 H341.4" stroke="#111" stroke-width="0.9"/>
<text x="337.8" y="429.05" font-size="7.6" fill="#111" stroke="#111" stroke-width="0.35" text-anchor="end" font-weight="bold">750</text>
<path d="M339.4 414.88 H341.4" stroke="#111" stroke-width="0.9"/>
<path d="M338.2 403.00 H341.4" stroke="#111" stroke-width="0.9"/>
<text x="337.8" y="405.30" font-size="7.6" fill="#111" stroke="#111" stroke-width="0.35" text-anchor="end" font-weight="bold">900</text>
<text transform="translate(319.8 474.6) rotate(-90)" font-size="10.8" fill="#111" stroke="#111" stroke-width="0.2" text-anchor="middle" textLength="80" lengthAdjust="spacingAndGlyphs">Number of fibers</text>
<text x="384.7" y="563.7" font-size="10.3" fill="#111" stroke="#111" stroke-width="0.2" text-anchor="middle" textLength="72.4" lengthAdjust="spacingAndGlyphs">Non-myelinated</text>
<text x="458.2" y="563.1" font-size="10.3" fill="#111" stroke="#111" stroke-width="0.2" text-anchor="middle" textLength="49.5" lengthAdjust="spacingAndGlyphs">Myelinated</text>
<text x="526" y="563.1" font-size="10.3" fill="#111" stroke="#111" stroke-width="0.2" text-anchor="middle" textLength="60" lengthAdjust="spacingAndGlyphs">Degenerated</text>
<rect x="487.4" y="397.6" width="70" height="23.9" fill="#fff" stroke="#444" stroke-width="0.8"/>
<rect x="491.3" y="402" width="15" height="6.5" fill="url(#darkbar)" stroke="#333" stroke-width="0.6"/>
<rect x="491.3" y="411.2" width="15" height="7" fill="url(#lightbar)" stroke="#333" stroke-width="0.6"/>
<text x="510.2" y="408.4" font-size="8.6" fill="#111" stroke="#111" stroke-width="0.22" textLength="44" lengthAdjust="spacingAndGlyphs">C3H/HePas</text>
<text x="510.2" y="417.3" font-size="8.6" fill="#111" stroke="#111" stroke-width="0.22" textLength="34.2" lengthAdjust="spacingAndGlyphs">C3H/HeJ</text>
</g>
<g clip-path="url(#cD)">
<rect x="320" y="20.5" width="118" height="158.5" fill="#ababab"/>
<rect x="320" y="20.5" width="118" height="158.5" fill="#000" filter="url(#tex)" opacity="0.35"/>
<g fill="#bababa" stroke="#8f8f8f" stroke-width="0.5"><ellipse cx="358.2" cy="44.4" rx="2.5" ry="1.9"/><ellipse cx="383.2" cy="78.5" rx="1.3" ry="1.3"/><ellipse cx="324.4" cy="89.2" rx="1.3" ry="1.0"/><ellipse cx="370.1" cy="151.6" rx="1.4" ry="1.2"/><ellipse cx="394.0" cy="170.7" rx="2.4" ry="2.2"/><ellipse cx="435.2" cy="27.9" rx="2.9" ry="2.5"/><ellipse cx="337.0" cy="39.2" rx="1.8" ry="2.2"/><ellipse cx="341.3" cy="112.7" rx="2.5" ry="2.3"/><ellipse cx="384.6" cy="30.5" rx="1.3" ry="1.1"/><ellipse cx="400.3" cy="88.3" rx="1.8" ry="1.9"/><ellipse cx="373.5" cy="68.0" rx="2.8" ry="3.1"/><ellipse cx="348.8" cy="111.5" rx="2.3" ry="2.8"/><ellipse cx="406.1" cy="66.1" rx="3.2" ry="2.4"/><ellipse cx="369.3" cy="140.5" rx="1.5" ry="1.5"/><ellipse cx="324.6" cy="126.4" rx="2.7" ry="2.8"/><ellipse cx="423.3" cy="70.2" rx="2.6" ry="2.7"/><ellipse cx="388.4" cy="92.8" rx="2.9" ry="3.6"/><ellipse cx="375.9" cy="125.8" rx="1.3" ry="1.5"/><ellipse cx="396.4" cy="177.9" rx="2.8" ry="2.5"/><ellipse cx="365.5" cy="126.5" rx="1.2" ry="1.2"/><ellipse cx="339.8" cy="39.1" rx="1.3" ry="1.5"/><ellipse cx="335.3" cy="59.7" rx="2.0" ry="2.4"/><ellipse cx="329.5" cy="91.7" rx="2.3" ry="2.8"/><ellipse cx="416.7" cy="157.4" rx="1.8" ry="1.7"/><ellipse cx="362.3" cy="160.6" rx="3.1" ry="2.5"/><ellipse cx="340.8" cy="57.3" rx="1.7" ry="1.7"/><ellipse cx="389.5" cy="62.1" rx="1.2" ry="1.1"/><ellipse cx="363.6" cy="110.3" rx="3.1" ry="3.5"/><ellipse cx="380.8" cy="118.4" rx="2.6" ry="1.9"/><ellipse cx="426.1" cy="144.1" rx="2.9" ry="3.5"/><ellipse cx="366.3" cy="83.7" rx="1.4" ry="1.5"/><ellipse cx="327.3" cy="31.2" rx="1.6" ry="1.3"/><ellipse cx="360.1" cy="28.8" rx="1.2" ry="0.9"/><ellipse cx="332.0" cy="78.1" rx="1.3" ry="1.5"/><ellipse cx="392.5" cy="44.0" rx="1.7" ry="1.5"/><ellipse cx="363.0" cy="40.0" rx="2.9" ry="3.8"/><ellipse cx="375.0" cy="97.2" rx="1.4" ry="1.0"/><ellipse cx="360.4" cy="62.5" rx="2.9" ry="2.3"/><ellipse cx="322.7" cy="171.2" rx="2.3" ry="1.8"/><ellipse cx="384.1" cy="24.8" rx="2.3" ry="2.9"/><ellipse cx="421.9" cy="130.8" rx="1.7" ry="1.6"/><ellipse cx="339.7" cy="142.9" rx="2.3" ry="2.6"/><ellipse cx="358.9" cy="55.9" rx="2.8" ry="3.6"/><ellipse cx="420.6" cy="148.3" rx="2.8" ry="3.2"/><ellipse cx="346.8" cy="102.5" rx="1.9" ry="1.4"/><ellipse cx="323.3" cy="64.8" rx="1.7" ry="1.9"/><ellipse cx="432.9" cy="91.4" rx="3.1" ry="4.0"/><ellipse cx="432.7" cy="78.3" rx="1.6" ry="1.4"/><ellipse cx="343.2" cy="52.9" rx="2.4" ry="3.0"/><ellipse cx="419.2" cy="96.5" rx="2.5" ry="3.0"/><ellipse cx="330.0" cy="125.2" rx="3.0" ry="3.5"/><ellipse cx="408.5" cy="96.3" rx="1.6" ry="1.8"/><ellipse cx="359.2" cy="147.4" rx="3.1" ry="2.9"/><ellipse cx="367.4" cy="170.6" rx="2.6" ry="2.1"/><ellipse cx="335.0" cy="44.5" rx="3.0" ry="3.6"/><ellipse cx="337.2" cy="151.5" rx="3.2" ry="3.5"/><ellipse cx="361.3" cy="107.5" rx="1.5" ry="1.0"/><ellipse cx="434.6" cy="123.5" rx="2.3" ry="2.8"/><ellipse cx="371.2" cy="158.7" rx="2.9" ry="2.4"/><ellipse cx="349.7" cy="66.9" rx="1.7" ry="1.8"/><ellipse cx="350.6" cy="86.9" rx="1.5" ry="1.8"/><ellipse cx="361.7" cy="93.1" rx="2.4" ry="2.9"/><ellipse cx="369.6" cy="166.0" rx="2.2" ry="2.2"/><ellipse cx="381.8" cy="23.5" rx="2.1" ry="1.7"/><ellipse cx="320.5" cy="147.2" rx="1.5" ry="1.5"/><ellipse cx="405.6" cy="108.7" rx="1.9" ry="1.9"/><ellipse cx="385.5" cy="144.8" rx="1.4" ry="1.5"/><ellipse cx="349.3" cy="64.4" rx="2.7" ry="2.8"/><ellipse cx="386.3" cy="141.0" rx="3.0" ry="2.9"/><ellipse cx="392.3" cy="100.6" rx="2.2" ry="2.5"/><ellipse cx="373.4" cy="105.0" rx="2.2" ry="2.7"/><ellipse cx="402.5" cy="159.4" rx="3.1" ry="2.6"/><ellipse cx="386.0" cy="170.0" rx="2.9" ry="2.3"/><ellipse cx="334.4" cy="90.6" rx="1.3" ry="1.1"/><ellipse cx="328.6" cy="126.6" rx="2.8" ry="3.4"/><ellipse cx="338.2" cy="134.0" rx="2.5" ry="2.0"/><ellipse cx="424.2" cy="173.9" rx="1.6" ry="2.1"/><ellipse cx="367.0" cy="97.7" rx="3.2" ry="3.8"/><ellipse cx="339.1" cy="88.9" rx="2.2" ry="2.0"/><ellipse cx="343.1" cy="71.0" rx="2.6" ry="1.9"/><ellipse cx="385.4" cy="90.3" rx="1.2" ry="1.1"/><ellipse cx="393.6" cy="101.7" rx="1.3" ry="1.7"/><ellipse cx="413.0" cy="174.5" rx="1.4" ry="1.2"/><ellipse cx="324.7" cy="144.0" rx="1.7" ry="1.4"/><ellipse cx="369.8" cy="165.0" rx="2.8" ry="2.4"/><ellipse cx="337.6" cy="166.2" rx="2.3" ry="2.6"/><ellipse cx="330.6" cy="29.6" rx="2.6" ry="2.5"/><ellipse cx="328.5" cy="169.2" rx="2.5" ry="2.9"/><ellipse cx="329.9" cy="156.2" rx="1.3" ry="1.6"/><ellipse cx="373.5" cy="74.3" rx="2.3" ry="2.9"/><ellipse cx="351.6" cy="41.0" rx="2.3" ry="1.9"/><ellipse cx="332.9" cy="46.1" rx="1.3" ry="1.1"/><ellipse cx="356.8" cy="68.8" rx="2.7" ry="2.4"/><ellipse cx="379.0" cy="48.7" rx="1.9" ry="1.3"/><ellipse cx="349.6" cy="22.9" rx="2.7" ry="2.7"/><ellipse cx="342.4" cy="95.7" rx="3.1" ry="2.3"/><ellipse cx="416.6" cy="89.0" rx="2.2" ry="2.6"/><ellipse cx="366.4" cy="100.8" rx="2.6" ry="3.3"/><ellipse cx="360.4" cy="152.4" rx="2.6" ry="2.8"/><ellipse cx="367.8" cy="75.6" rx="1.3" ry="1.0"/><ellipse cx="328.3" cy="137.9" rx="1.7" ry="1.4"/><ellipse cx="330.0" cy="153.8" rx="2.9" ry="3.2"/><ellipse cx="353.3" cy="58.9" rx="1.8" ry="1.7"/><ellipse cx="338.6" cy="91.2" rx="1.7" ry="2.2"/><ellipse cx="434.8" cy="107.2" rx="1.7" ry="2.2"/><ellipse cx="356.5" cy="77.0" rx="1.2" ry="1.1"/><ellipse cx="376.0" cy="100.2" rx="1.6" ry="1.6"/><ellipse cx="320.6" cy="62.4" rx="1.4" ry="1.3"/><ellipse cx="324.9" cy="24.1" rx="1.8" ry="1.5"/><ellipse cx="389.1" cy="104.4" rx="2.7" ry="3.0"/><ellipse cx="404.5" cy="159.8" rx="2.0" ry="1.8"/><ellipse cx="436.2" cy="44.2" rx="2.6" ry="2.9"/><ellipse cx="325.2" cy="152.9" rx="3.0" ry="3.2"/><ellipse cx="406.6" cy="149.2" rx="1.5" ry="1.5"/><ellipse cx="379.5" cy="152.8" rx="2.8" ry="3.4"/><ellipse cx="388.9" cy="162.0" rx="2.6" ry="2.9"/><ellipse cx="347.1" cy="25.4" rx="1.5" ry="1.3"/><ellipse cx="332.4" cy="153.0" rx="2.3" ry="2.5"/><ellipse cx="393.9" cy="128.4" rx="2.2" ry="1.5"/><ellipse cx="414.1" cy="139.1" rx="2.2" ry="2.3"/><ellipse cx="397.8" cy="31.0" rx="2.7" ry="2.3"/><ellipse cx="328.8" cy="62.6" rx="2.7" ry="2.2"/><ellipse cx="407.3" cy="175.2" rx="2.2" ry="2.0"/><ellipse cx="376.5" cy="128.9" rx="2.7" ry="2.9"/><ellipse cx="395.8" cy="32.8" rx="1.5" ry="1.3"/><ellipse cx="407.7" cy="68.8" rx="2.3" ry="1.7"/><ellipse cx="327.2" cy="63.1" rx="2.5" ry="2.8"/><ellipse cx="399.7" cy="66.6" rx="2.2" ry="2.2"/><ellipse cx="375.0" cy="39.3" rx="3.0" ry="2.4"/><ellipse cx="435.4" cy="168.9" rx="1.2" ry="1.2"/><ellipse cx="416.7" cy="173.9" rx="2.1" ry="1.8"/><ellipse cx="344.8" cy="170.4" rx="1.6" ry="1.7"/><ellipse cx="336.7" cy="103.6" rx="3.1" ry="2.4"/><ellipse cx="416.8" cy="101.1" rx="3.0" ry="3.3"/><ellipse cx="347.3" cy="162.8" rx="2.2" ry="1.6"/><ellipse cx="320.4" cy="98.4" rx="2.1" ry="1.9"/><ellipse cx="336.6" cy="75.0" rx="1.8" ry="2.2"/><ellipse cx="320.2" cy="139.5" rx="2.9" ry="2.2"/><ellipse cx="429.3" cy="133.5" rx="3.0" ry="2.6"/><ellipse cx="363.9" cy="82.8" rx="3.2" ry="3.4"/><ellipse cx="362.6" cy="88.3" rx="1.8" ry="1.3"/><ellipse cx="332.0" cy="152.8" rx="1.8" ry="2.2"/><ellipse cx="349.4" cy="62.6" rx="2.2" ry="1.8"/><ellipse cx="364.1" cy="172.1" rx="3.0" ry="3.5"/><ellipse cx="394.4" cy="165.3" rx="3.1" ry="3.2"/><ellipse cx="404.9" cy="28.3" rx="2.7" ry="2.6"/><ellipse cx="408.8" cy="122.7" rx="1.8" ry="1.3"/><ellipse cx="429.4" cy="40.7" rx="2.1" ry="1.9"/><ellipse cx="355.1" cy="137.6" rx="3.2" ry="2.7"/><ellipse cx="397.4" cy="68.2" rx="2.3" ry="2.2"/><ellipse cx="339.7" cy="46.1" rx="1.6" ry="2.0"/><ellipse cx="378.7" cy="55.4" rx="3.0" ry="3.9"/><ellipse cx="373.1" cy="42.6" rx="1.6" ry="1.2"/><ellipse cx="360.4" cy="34.9" rx="1.7" ry="1.4"/><ellipse cx="387.2" cy="161.1" rx="2.7" ry="2.6"/><ellipse cx="368.8" cy="103.6" rx="2.0" ry="1.8"/><ellipse cx="327.3" cy="64.5" rx="3.1" ry="2.4"/><ellipse cx="379.4" cy="120.3" rx="2.9" ry="2.4"/><ellipse cx="352.0" cy="59.9" rx="2.0" ry="1.9"/><ellipse cx="432.6" cy="155.0" rx="2.9" ry="2.1"/><ellipse cx="323.8" cy="133.0" rx="3.0" ry="2.9"/><ellipse cx="389.3" cy="20.5" rx="2.0" ry="2.5"/><ellipse cx="417.4" cy="156.1" rx="3.1" ry="2.7"/><ellipse cx="332.9" cy="45.0" rx="2.2" ry="2.5"/><ellipse cx="431.1" cy="134.9" rx="2.5" ry="2.9"/><ellipse cx="374.0" cy="107.9" rx="1.3" ry="1.5"/><ellipse cx="347.4" cy="166.3" rx="2.5" ry="2.2"/><ellipse cx="335.1" cy="60.4" rx="2.5" ry="2.8"/><ellipse cx="333.2" cy="31.7" rx="2.2" ry="2.4"/><ellipse cx="365.8" cy="55.9" rx="2.4" ry="1.7"/></g>
<defs><path id="rg1" d="M353.6 35.1C354.2 37.1 354.5 39.3 354.3 41.4C354.2 43.5 353.7 45.9 352.7 47.7C351.6 49.6 349.8 51.3 348 52.4C346.2 53.4 343.8 53.9 341.8 54.1C339.7 54.2 337.5 53.9 335.6 53.2C333.7 52.5 331.8 51.3 330.3 50C328.7 48.6 327.3 46.9 326.4 45C325.4 43 324.5 40.6 324.6 38.5C324.7 36.3 325.6 33.7 327 32C328.3 30.3 330.6 29.3 332.5 28.4C334.4 27.5 336.3 27.1 338.3 26.7C340.4 26.4 342.6 25.9 344.6 26.3C346.6 26.7 349 27.8 350.5 29.3C352 30.7 352.9 33 353.6 35.1Z"/></defs><use href="#rg1" fill="none" stroke="#c6c6c6" stroke-width="8.5"/><use href="#rg1" fill="#bdbdbd" stroke="#4d4d4d" stroke-width="7.1"/><path d="M354.4 34.8C355.1 36.9 355.3 39.3 355.2 41.5C355 43.8 354.5 46.3 353.4 48.2C352.3 50.1 350.4 52 348.4 53.1C346.5 54.2 344.1 54.8 341.9 54.9C339.7 55.1 337.3 54.7 335.3 54C333.3 53.3 331.3 52 329.7 50.6C328.1 49.1 326.6 47.3 325.6 45.3C324.6 43.2 323.6 40.7 323.7 38.4C323.8 36.1 324.8 33.3 326.2 31.6C327.6 29.8 330 28.6 332.1 27.7C334.1 26.8 336.1 26.3 338.2 26C340.4 25.6 342.7 25.1 344.9 25.5C347 26 349.5 27.1 351.1 28.6C352.7 30.2 353.7 32.6 354.4 34.8Z" fill="none" stroke="#6e6e6e" stroke-width="0.8" opacity="0.7"/>
<defs><path id="rg2" d="M391.8 23C392 24.4 391.5 26.3 390.5 27.5C389.5 28.7 387.4 29.6 385.8 30.3C384.1 30.9 382.3 31.2 380.6 31.4C378.8 31.7 377 31.9 375.3 31.7C373.6 31.5 371.7 31 370.3 30.2C368.9 29.4 367.6 28.3 366.7 27.1C365.7 25.9 364.7 24.4 364.5 23C364.3 21.6 364.5 19.7 365.4 18.5C366.3 17.2 368.3 16.2 370 15.5C371.7 14.8 373.7 14.7 375.4 14.5C377.2 14.4 378.9 14.3 380.6 14.5C382.3 14.8 384.1 15.2 385.6 15.9C387.1 16.6 388.5 17.7 389.6 18.8C390.6 20 391.7 21.6 391.8 23Z"/></defs><use href="#rg2" fill="none" stroke="#c6c6c6" stroke-width="7.5"/><use href="#rg2" fill="#bdbdbd" stroke="#4d4d4d" stroke-width="6.1"/><path d="M392.6 23C392.8 24.6 392.3 26.5 391.2 27.8C390.1 29.1 388 30.1 386.2 30.8C384.5 31.5 382.6 31.8 380.7 32.1C378.9 32.3 377 32.6 375.2 32.4C373.4 32.2 371.4 31.6 369.9 30.8C368.3 29.9 367 28.7 366 27.4C365 26.1 363.9 24.5 363.7 23C363.5 21.5 363.7 19.5 364.7 18.1C365.7 16.8 367.8 15.6 369.5 14.9C371.3 14.2 373.4 14.1 375.3 13.9C377.1 13.7 378.9 13.6 380.7 13.9C382.5 14.1 384.4 14.6 386 15.4C387.6 16.1 389.1 17.2 390.2 18.5C391.3 19.8 392.5 21.4 392.6 23Z" fill="none" stroke="#6e6e6e" stroke-width="0.8" opacity="0.7"/>
<defs><path id="rg3" d="M431.4 41.4C431.1 43.4 430.3 45.5 429.1 47.3C428 49.1 426.3 50.9 424.4 52C422.5 53.2 419.8 54.1 417.5 54.2C415.2 54.2 412.5 53.3 410.4 52.2C408.3 51.2 406.6 49.5 405.1 47.9C403.6 46.2 402.1 44.4 401.4 42.5C400.7 40.5 400.4 38 400.8 36C401.2 34.1 402.6 32.1 403.9 30.5C405.3 28.8 406.9 27.4 408.8 26.2C410.7 25 413 23.7 415.3 23.4C417.6 23.2 420.6 23.7 422.7 24.7C424.8 25.7 426.6 27.8 427.9 29.5C429.3 31.3 430.2 33.3 430.8 35.3C431.4 37.3 431.7 39.4 431.4 41.4Z"/></defs><use href="#rg3" fill="none" stroke="#c6c6c6" stroke-width="8.5"/><use href="#rg3" fill="#bdbdbd" stroke="#4d4d4d" stroke-width="7.1"/><path d="M432.2 41.6C431.9 43.7 431 45.9 429.8 47.8C428.6 49.6 426.9 51.6 424.8 52.8C422.8 54 420 55 417.5 55.1C415.1 55.1 412.2 54.1 410.1 53C407.9 51.9 406.1 50.1 404.5 48.4C402.9 46.7 401.4 44.8 400.6 42.7C399.8 40.6 399.5 38 400 35.9C400.4 33.8 401.9 31.8 403.3 30C404.7 28.3 406.4 26.7 408.4 25.5C410.4 24.2 412.8 22.8 415.3 22.5C417.7 22.3 420.8 22.8 423 23.9C425.3 25 427.1 27.1 428.6 29C430 30.8 431 33 431.6 35.1C432.2 37.2 432.5 39.5 432.2 41.6Z" fill="none" stroke="#6e6e6e" stroke-width="0.8" opacity="0.7"/>
<defs><path id="rg4" d="M382.3 47.6C383.1 49.1 383.6 50.9 383.8 52.6C384 54.3 383.8 55.9 383.4 57.5C383 59 382.4 60.5 381.4 61.7C380.5 62.8 379.2 64 377.8 64.6C376.4 65.3 374.6 65.7 373 65.5C371.4 65.4 369.6 64.7 368.1 63.8C366.7 62.9 365.4 61.5 364.4 60.1C363.4 58.6 362.6 56.9 362.3 55.2C361.9 53.6 362 51.7 362.5 50.2C363 48.7 364.1 47.3 365.1 46.3C366.2 45.2 367.4 44.4 368.8 43.7C370.2 43.1 371.8 42.4 373.4 42.4C375 42.3 377 42.7 378.5 43.5C380 44.4 381.4 46 382.3 47.6Z"/></defs><use href="#rg4" fill="none" stroke="#c6c6c6" stroke-width="7.5"/><use href="#rg4" fill="#bdbdbd" stroke="#4d4d4d" stroke-width="6.1"/><path d="M382.9 47.1C383.8 48.7 384.3 50.7 384.5 52.5C384.7 54.2 384.5 56 384.1 57.6C383.7 59.3 383 60.9 381.9 62.1C380.9 63.4 379.6 64.6 378.1 65.3C376.6 66 374.7 66.4 373 66.3C371.3 66.1 369.3 65.4 367.8 64.5C366.2 63.5 364.8 62 363.8 60.5C362.7 59 361.9 57.1 361.5 55.4C361.2 53.6 361.3 51.6 361.8 50C362.3 48.4 363.5 46.9 364.6 45.8C365.7 44.7 367.1 43.8 368.6 43.1C370 42.4 371.7 41.7 373.4 41.6C375.1 41.6 377.3 41.9 378.9 42.8C380.5 43.8 382 45.5 382.9 47.1Z" fill="none" stroke="#6e6e6e" stroke-width="0.8" opacity="0.7"/>
<defs><path id="rg5" d="M398.1 48.1C398.2 49 398 50.3 397.7 51.2C397.4 52 396.8 52.7 396.2 53.3C395.7 53.9 395 54.3 394.4 54.5C393.8 54.7 393 54.8 392.4 54.5C391.8 54.3 391.2 53.6 390.7 53C390.3 52.4 389.9 51.6 389.6 50.8C389.4 49.9 389.1 49 389 48.1C389 47.2 389 46.1 389.3 45.2C389.5 44.2 389.9 43.3 390.4 42.6C391 42 391.7 41.4 392.3 41.3C393 41.1 393.8 41.4 394.4 41.8C395 42.2 395.4 43 395.9 43.6C396.3 44.2 396.7 44.7 397.1 45.5C397.5 46.2 398 47.2 398.1 48.1Z"/></defs><use href="#rg5" fill="none" stroke="#c6c6c6" stroke-width="5.5"/><use href="#rg5" fill="#bdbdbd" stroke="#4d4d4d" stroke-width="4.1"/><path d="M398.6 48.1C398.7 49.1 398.5 50.5 398.2 51.4C397.8 52.3 397.1 53.1 396.5 53.7C395.9 54.3 395.2 54.8 394.5 55C393.8 55.2 393 55.3 392.3 55C391.6 54.8 391 54.1 390.4 53.4C389.9 52.7 389.6 51.8 389.2 51C388.9 50.1 388.6 49.1 388.5 48.1C388.5 47.1 388.5 45.9 388.8 44.9C389.1 44 389.5 42.9 390.1 42.2C390.7 41.5 391.5 40.9 392.2 40.8C393 40.6 393.8 40.9 394.5 41.3C395.1 41.8 395.6 42.6 396.1 43.2C396.6 43.9 397.1 44.5 397.5 45.3C397.9 46.1 398.5 47.1 398.6 48.1Z" fill="none" stroke="#6e6e6e" stroke-width="0.8" opacity="0.7"/>
<defs><path id="rg6" d="M410.4 63C410.4 63.8 410.3 64.8 410 65.6C409.8 66.4 409.3 67.2 408.8 67.7C408.3 68.2 407.6 68.6 407 68.7C406.3 68.8 405.7 68.7 405.1 68.4C404.5 68.1 404 67.6 403.6 67.1C403.1 66.6 402.8 66 402.4 65.3C402.1 64.6 401.7 63.9 401.6 63C401.5 62.1 401.5 61 401.7 60.2C402 59.4 402.6 58.6 403.2 58.2C403.7 57.7 404.5 57.6 405.1 57.6C405.7 57.5 406.3 57.6 406.9 57.8C407.4 58 408 58.3 408.5 58.7C409 59.2 409.5 59.8 409.8 60.5C410.1 61.2 410.3 62.2 410.4 63Z"/></defs><use href="#rg6" fill="none" stroke="#c6c6c6" stroke-width="5.5"/><use href="#rg6" fill="#bdbdbd" stroke="#4d4d4d" stroke-width="4.1"/><path d="M410.9 63C410.9 63.9 410.8 65 410.5 65.9C410.2 66.7 409.7 67.6 409.1 68.1C408.5 68.7 407.8 69.1 407.1 69.2C406.4 69.3 405.6 69.1 405 68.9C404.4 68.6 403.8 68 403.3 67.5C402.8 66.9 402.4 66.3 402 65.5C401.7 64.8 401.2 63.9 401.1 63C401 62.1 401 60.9 401.2 60C401.5 59.1 402.2 58.2 402.8 57.8C403.5 57.3 404.3 57.2 405 57.1C405.7 57.1 406.3 57.2 407 57.4C407.6 57.6 408.3 57.9 408.8 58.4C409.3 58.9 409.9 59.6 410.2 60.3C410.6 61.1 410.8 62.1 410.9 63Z" fill="none" stroke="#6e6e6e" stroke-width="0.8" opacity="0.7"/>
<defs><path id="rg7" d="M434.9 66C434.7 67.2 434.2 68.5 433.7 69.5C433.2 70.5 432.5 71.4 431.8 72.1C431 72.8 430.1 73.3 429.2 73.7C428.3 74 427.3 74.2 426.3 74.1C425.3 73.9 424.2 73.5 423.3 72.8C422.5 72.1 421.8 70.9 421.5 69.7C421.1 68.6 421.1 67.2 421.2 66C421.2 64.8 421.4 63.6 421.8 62.5C422.2 61.4 422.8 60.2 423.6 59.5C424.3 58.8 425.4 58.4 426.3 58.2C427.3 58 428.3 58.2 429.2 58.4C430.2 58.6 431.2 58.8 432.1 59.4C432.9 60.1 433.9 61 434.4 62.1C434.9 63.2 435 64.8 434.9 66Z"/></defs><use href="#rg7" fill="none" stroke="#c6c6c6" stroke-width="6.5"/><use href="#rg7" fill="#bdbdbd" stroke="#4d4d4d" stroke-width="5.1"/><path d="M435.5 66C435.4 67.3 434.8 68.6 434.2 69.7C433.7 70.8 432.9 71.8 432.1 72.5C431.3 73.3 430.4 73.9 429.4 74.2C428.4 74.6 427.2 74.8 426.2 74.7C425.1 74.5 423.8 74.1 422.9 73.3C422.1 72.6 421.3 71.2 420.9 70C420.5 68.8 420.5 67.3 420.6 66C420.6 64.7 420.8 63.4 421.3 62.2C421.7 61.1 422.3 59.8 423.2 59C424 58.2 425.2 57.8 426.2 57.6C427.2 57.4 428.3 57.6 429.3 57.9C430.4 58.1 431.5 58.3 432.5 59C433.4 59.6 434.5 60.6 435 61.8C435.5 63 435.6 64.7 435.5 66Z" fill="none" stroke="#6e6e6e" stroke-width="0.8" opacity="0.7"/>
<defs><path id="rg8" d="M339.4 69.7C339.4 71.6 339.1 73.7 338.6 75.3C338.1 77 337.3 78.6 336.4 79.6C335.5 80.7 334.3 81.2 333.2 81.5C332.2 81.7 331.1 81.5 330 81.1C329 80.7 327.9 80.2 327 79.3C326.1 78.3 325.1 77 324.5 75.4C324 73.8 323.7 71.6 323.8 69.7C323.8 67.8 324.3 65.9 324.8 64.2C325.3 62.6 326.1 61.1 327 60C327.8 58.9 328.9 58 330 57.7C331 57.3 332.2 57.5 333.2 57.9C334.2 58.3 335.3 59.1 336.2 60.2C337 61.2 337.9 62.6 338.4 64.2C339 65.8 339.3 67.8 339.4 69.7Z"/></defs><use href="#rg8" fill="none" stroke="#c6c6c6" stroke-width="8.0"/><use href="#rg8" fill="#bdbdbd" stroke="#4d4d4d" stroke-width="6.6"/><path d="M340.2 69.7C340.2 71.7 339.9 73.9 339.3 75.7C338.8 77.4 337.9 79.2 336.9 80.3C335.9 81.4 334.5 82 333.4 82.2C332.2 82.5 331 82.2 329.9 81.8C328.7 81.4 327.5 80.9 326.5 79.9C325.5 78.9 324.4 77.4 323.8 75.7C323.2 74 322.9 71.7 322.9 69.7C323 67.7 323.5 65.6 324.1 63.9C324.7 62.2 325.5 60.5 326.5 59.4C327.4 58.2 328.6 57.3 329.8 56.9C330.9 56.5 332.2 56.7 333.4 57.2C334.5 57.6 335.7 58.5 336.6 59.6C337.6 60.7 338.6 62.2 339.1 63.9C339.7 65.6 340.2 67.7 340.2 69.7Z" fill="none" stroke="#6e6e6e" stroke-width="0.8" opacity="0.7"/>
<defs><path id="rg9" d="M369.4 74C369.3 75.4 368.9 77 368.3 78.3C367.6 79.5 366.5 80.8 365.2 81.8C364 82.7 362.4 83.5 360.8 83.9C359.1 84.3 357.2 84.6 355.5 84.4C353.8 84.2 351.8 83.5 350.4 82.6C349.1 81.6 348.1 79.9 347.5 78.5C347 77.1 347.1 75.4 347.3 74C347.5 72.6 347.8 71.2 348.5 69.9C349.1 68.6 349.9 67.2 351.1 66.2C352.3 65.1 353.9 64.2 355.5 63.8C357.2 63.3 359.2 63.2 360.9 63.6C362.6 63.9 364.4 64.7 365.7 65.7C367 66.7 368 68.2 368.6 69.6C369.2 71 369.4 72.6 369.4 74Z"/></defs><use href="#rg9" fill="none" stroke="#c6c6c6" stroke-width="7.0"/><use href="#rg9" fill="#bdbdbd" stroke="#4d4d4d" stroke-width="5.6"/><path d="M370 74C370 75.5 369.6 77.2 368.8 78.5C368.1 79.9 367 81.3 365.6 82.3C364.3 83.3 362.6 84.1 360.9 84.5C359.2 85 357.2 85.3 355.3 85.1C353.5 84.8 351.4 84.2 350 83.1C348.6 82.1 347.5 80.3 346.9 78.8C346.4 77.3 346.5 75.5 346.7 74C346.8 72.5 347.2 71 347.9 69.6C348.6 68.2 349.4 66.7 350.7 65.6C351.9 64.6 353.7 63.5 355.4 63.1C357.1 62.6 359.3 62.5 361.1 62.9C362.9 63.2 364.8 64.1 366.2 65.2C367.5 66.2 368.6 67.8 369.2 69.3C369.9 70.8 370.1 72.5 370 74Z" fill="none" stroke="#6e6e6e" stroke-width="0.8" opacity="0.7"/>
<defs><path id="rg10" d="M346.3 100.5C346.2 102 345.6 103.5 345 104.8C344.3 106.1 343.4 107.3 342.3 108.4C341.2 109.5 340 110.7 338.5 111.4C337 112 334.9 112.5 333.4 112.1C331.8 111.7 330.2 110.3 329.1 109.1C328.1 107.9 327.6 106.2 327.1 104.8C326.6 103.4 326 102 325.9 100.5C325.8 99 325.9 97.3 326.5 95.9C327.1 94.6 328.3 93.3 329.4 92.3C330.6 91.3 332.1 90.5 333.6 90C335.1 89.6 337 89.2 338.5 89.5C340.1 89.8 341.8 90.7 342.9 91.8C344.1 92.9 345 94.5 345.5 95.9C346.1 97.4 346.4 99 346.3 100.5Z"/></defs><use href="#rg10" fill="none" stroke="#c6c6c6" stroke-width="7.5"/><use href="#rg10" fill="#bdbdbd" stroke="#4d4d4d" stroke-width="6.1"/><path d="M347 100.5C346.9 102.1 346.3 103.7 345.6 105.1C344.9 106.5 343.9 107.7 342.7 108.9C341.5 110.1 340.2 111.5 338.7 112.1C337.1 112.8 334.8 113.3 333.2 112.9C331.5 112.5 329.8 111 328.7 109.7C327.6 108.4 327 106.6 326.5 105.1C325.9 103.6 325.3 102.1 325.2 100.5C325.1 98.9 325.2 97.1 325.8 95.6C326.5 94.1 327.7 92.8 329 91.7C330.3 90.7 331.8 89.8 333.4 89.3C335.1 88.8 337 88.4 338.7 88.7C340.3 89.1 342.2 90.1 343.4 91.2C344.7 92.3 345.6 94.1 346.2 95.6C346.8 97.1 347.1 98.9 347 100.5Z" fill="none" stroke="#6e6e6e" stroke-width="0.8" opacity="0.7"/>
<defs><path id="rg11" d="M380.8 101.2C380.9 102.8 381.2 104.4 380.7 106C380.2 107.6 379.2 109.6 377.7 110.7C376.2 111.9 373.7 112.8 371.6 113C369.5 113.3 367 113 365 112.4C363 111.9 361.1 110.9 359.6 109.8C358.2 108.7 357 107.3 356.1 105.9C355.3 104.4 354.6 102.8 354.4 101.2C354.3 99.6 354.4 97.7 355.3 96.2C356.1 94.7 357.7 93.3 359.3 92.3C360.9 91.2 363 90.5 365 90.1C367.1 89.6 369.4 89.2 371.5 89.5C373.6 89.8 376 90.7 377.5 91.9C378.9 93 379.7 95 380.3 96.5C380.8 98.1 380.7 99.6 380.8 101.2Z"/></defs><use href="#rg11" fill="none" stroke="#c6c6c6" stroke-width="7.5"/><use href="#rg11" fill="#bdbdbd" stroke="#4d4d4d" stroke-width="6.1"/><path d="M381.4 101.2C381.5 102.9 381.9 104.6 381.3 106.3C380.8 108 379.8 110.1 378.2 111.4C376.6 112.6 374 113.5 371.7 113.8C369.5 114.1 366.9 113.7 364.8 113.2C362.7 112.6 360.8 111.5 359.2 110.4C357.6 109.2 356.4 107.7 355.5 106.2C354.6 104.6 353.9 102.9 353.7 101.2C353.6 99.5 353.7 97.5 354.6 95.9C355.4 94.3 357.1 92.8 358.8 91.7C360.6 90.6 362.7 89.9 364.9 89.4C367 88.9 369.5 88.5 371.7 88.8C373.9 89.1 376.4 90 378 91.3C379.5 92.5 380.3 94.6 380.9 96.2C381.5 97.9 381.4 99.5 381.4 101.2Z" fill="none" stroke="#6e6e6e" stroke-width="0.8" opacity="0.7"/>
<defs><path id="rg12" d="M413.2 92.6C413.2 93.5 413 94.5 412.6 95.3C412.3 96.2 411.7 97 411 97.7C410.4 98.3 409.4 98.9 408.5 99.1C407.6 99.3 406.4 99.2 405.6 98.9C404.7 98.7 403.8 98 403.2 97.4C402.6 96.7 402.1 95.9 401.8 95.1C401.4 94.3 401.2 93.5 401.1 92.6C401 91.7 400.9 90.7 401.1 89.8C401.4 88.9 402 87.8 402.7 87.2C403.4 86.6 404.6 86.3 405.5 86.2C406.5 86.1 407.5 86.4 408.4 86.7C409.2 87 410.1 87.4 410.8 87.9C411.5 88.4 412.2 89.1 412.6 89.9C413 90.7 413.2 91.7 413.2 92.6Z"/></defs><use href="#rg12" fill="none" stroke="#c6c6c6" stroke-width="6.0"/><use href="#rg12" fill="#bdbdbd" stroke="#4d4d4d" stroke-width="4.6"/><path d="M413.7 92.6C413.8 93.6 413.5 94.6 413.1 95.5C412.7 96.5 412.2 97.4 411.4 98.1C410.7 98.8 409.6 99.4 408.6 99.7C407.6 99.9 406.4 99.8 405.4 99.5C404.5 99.2 403.5 98.5 402.9 97.8C402.2 97.1 401.7 96.2 401.3 95.3C400.9 94.5 400.7 93.6 400.6 92.6C400.4 91.6 400.3 90.5 400.6 89.5C400.9 88.5 401.5 87.4 402.3 86.7C403.1 86.1 404.4 85.7 405.4 85.6C406.4 85.5 407.5 85.9 408.5 86.2C409.4 86.5 410.3 86.9 411.1 87.5C411.8 88.1 412.6 88.8 413.1 89.7C413.5 90.5 413.7 91.6 413.7 92.6Z" fill="none" stroke="#6e6e6e" stroke-width="0.8" opacity="0.7"/>
<defs><path id="rg13" d="M423.7 105.5C423.7 106.9 423.6 108.5 423.4 109.8C423.2 111 422.8 112.4 422.4 113.2C421.9 114 421.3 114.6 420.8 114.8C420.3 115 419.7 114.9 419.2 114.5C418.7 114.2 418.2 113.6 417.7 112.8C417.3 112 416.9 110.8 416.7 109.6C416.5 108.4 416.5 106.8 416.5 105.5C416.5 104.2 416.6 102.8 416.8 101.5C417 100.2 417.2 98.7 417.6 97.7C418 96.7 418.6 95.8 419.1 95.6C419.7 95.3 420.3 95.8 420.8 96.3C421.3 96.8 421.7 97.8 422.1 98.6C422.5 99.5 422.9 100.5 423.1 101.6C423.4 102.8 423.6 104.1 423.7 105.5Z"/></defs><use href="#rg13" fill="none" stroke="#c6c6c6" stroke-width="5.5"/><use href="#rg13" fill="#bdbdbd" stroke="#4d4d4d" stroke-width="4.1"/><path d="M424.2 105.5C424.2 106.9 424.1 108.6 423.9 110C423.6 111.3 423.2 112.7 422.7 113.6C422.2 114.5 421.5 115 420.9 115.3C420.3 115.5 419.7 115.3 419.1 115C418.5 114.6 417.9 114.1 417.4 113.2C417 112.3 416.5 111.1 416.3 109.8C416.1 108.5 416 106.9 416 105.5C416 104.1 416.1 102.7 416.4 101.3C416.6 99.9 416.8 98.4 417.3 97.3C417.7 96.3 418.4 95.3 419 95C419.6 94.8 420.4 95.3 420.9 95.8C421.5 96.4 422 97.4 422.4 98.3C422.8 99.2 423.2 100.2 423.5 101.4C423.8 102.6 424.1 104.1 424.2 105.5Z" fill="none" stroke="#6e6e6e" stroke-width="0.8" opacity="0.7"/>
<defs><path id="rg14" d="M344.6 132.4C344.3 134.7 343.4 137.2 342.4 139.1C341.4 141.1 340 142.9 338.6 144.1C337.2 145.3 335.5 146.1 334 146.3C332.5 146.5 331 146.1 329.6 145.3C328.3 144.6 327 143.3 326.2 141.7C325.3 140.1 324.7 137.9 324.5 135.7C324.3 133.6 324.6 131.2 325 128.9C325.4 126.7 326 124.5 326.9 122.4C327.8 120.3 328.9 117.9 330.2 116.5C331.6 115.1 333.5 114.1 335 114C336.5 114 338 115.1 339.3 116.2C340.5 117.2 341.4 118.7 342.2 120.3C343.1 121.8 344 123.5 344.4 125.5C344.8 127.5 344.9 130.1 344.6 132.4Z"/></defs><use href="#rg14" fill="none" stroke="#c6c6c6" stroke-width="8.5"/><use href="#rg14" fill="#bdbdbd" stroke="#4d4d4d" stroke-width="7.1"/><path d="M345.5 132.5C345.1 134.9 344.2 137.6 343.1 139.7C342 141.7 340.5 143.6 339 144.9C337.5 146.1 335.7 146.9 334.1 147.1C332.4 147.3 330.7 146.9 329.3 146.1C327.9 145.3 326.5 144 325.5 142.3C324.6 140.6 323.9 138.2 323.7 136C323.5 133.7 323.8 131.1 324.2 128.8C324.6 126.4 325.3 124.1 326.2 121.9C327.1 119.7 328.3 117.1 329.8 115.7C331.3 114.2 333.3 113.1 335 113.1C336.6 113.1 338.3 114.3 339.6 115.4C340.9 116.5 341.9 118.1 342.8 119.7C343.8 121.4 344.8 123.2 345.2 125.3C345.6 127.4 345.8 130.1 345.5 132.5Z" fill="none" stroke="#6e6e6e" stroke-width="0.8" opacity="0.7"/>
<defs><path id="rg15" d="M372.2 131.4C372.1 133.3 371 135.5 370.2 137C369.3 138.5 368.1 139.5 367 140.5C366 141.6 364.9 142.7 363.7 143.2C362.5 143.7 361.1 143.9 359.8 143.5C358.6 143.2 357.4 142.1 356.3 141C355.2 139.9 354.1 138.7 353.4 137.1C352.6 135.5 351.8 133.3 351.8 131.4C351.7 129.5 352.3 127.1 353 125.5C353.8 123.9 355.1 122.6 356.2 121.6C357.4 120.7 358.7 120.1 359.9 119.9C361.1 119.6 362.4 119.8 363.6 120.2C364.9 120.5 366.1 121 367.2 121.9C368.4 122.8 370 123.8 370.8 125.4C371.6 127 372.3 129.5 372.2 131.4Z"/></defs><use href="#rg15" fill="none" stroke="#c6c6c6" stroke-width="7.5"/><use href="#rg15" fill="#bdbdbd" stroke="#4d4d4d" stroke-width="6.1"/><path d="M373 131.4C372.9 133.5 371.8 135.7 370.8 137.3C369.9 138.9 368.6 140 367.5 141.1C366.3 142.2 365.2 143.4 363.9 143.9C362.6 144.4 361 144.6 359.7 144.2C358.3 143.8 357 142.7 355.9 141.6C354.7 140.4 353.5 139.1 352.7 137.4C351.9 135.7 351 133.4 351 131.4C350.9 129.4 351.5 126.9 352.3 125.2C353.1 123.4 354.5 122.1 355.8 121.1C357 120.1 358.4 119.5 359.8 119.2C361.1 119 362.5 119.2 363.8 119.5C365.1 119.9 366.4 120.4 367.7 121.3C369 122.3 370.6 123.3 371.5 125C372.4 126.7 373.2 129.3 373 131.4Z" fill="none" stroke="#6e6e6e" stroke-width="0.8" opacity="0.7"/>
<defs><path id="rg16" d="M406.4 120.7C405.6 122.4 404.8 124.2 403.6 125.6C402.3 127 400.7 128.4 399 129.1C397.4 129.9 395.3 130.1 393.6 129.9C391.9 129.6 390.1 128.8 388.8 127.6C387.6 126.4 386.6 124.6 386.1 122.9C385.6 121.1 385.6 119.1 385.7 117.2C385.9 115.4 386.3 113.4 387.1 111.7C387.8 109.9 388.9 108 390.2 106.7C391.6 105.4 393.4 104.5 395.1 103.9C396.7 103.4 398.5 103.2 400.3 103.3C402 103.5 403.9 103.8 405.3 104.8C406.7 105.8 408 107.6 408.5 109.4C409 111.1 408.7 113.5 408.3 115.4C408 117.3 407.2 119 406.4 120.7Z"/></defs><use href="#rg16" fill="none" stroke="#c6c6c6" stroke-width="7.5"/><use href="#rg16" fill="#bdbdbd" stroke="#4d4d4d" stroke-width="6.1"/><path d="M407 121C406.2 122.8 405.3 124.7 404 126.1C402.7 127.6 401 129.1 399.2 129.9C397.4 130.6 395.2 130.9 393.4 130.6C391.6 130.3 389.7 129.4 388.4 128.2C387 127 386 125 385.4 123.2C384.9 121.4 384.9 119.2 385 117.2C385.2 115.3 385.6 113.2 386.4 111.4C387.2 109.5 388.4 107.5 389.8 106.2C391.2 104.8 393.1 103.8 394.9 103.2C396.7 102.6 398.6 102.4 400.4 102.6C402.2 102.8 404.3 103.1 405.8 104.2C407.3 105.3 408.6 107.2 409.2 109C409.7 110.9 409.4 113.4 409 115.4C408.7 117.3 407.9 119.2 407 121Z" fill="none" stroke="#6e6e6e" stroke-width="0.8" opacity="0.7"/>
<defs><path id="rg17" d="M428.2 130.5C428.6 132.2 428.8 134.3 428.6 136C428.3 137.7 427.6 139.4 426.7 140.7C425.9 142 424.6 143 423.3 143.6C422.1 144.1 420.5 144.3 419.2 144C417.9 143.7 416.6 142.6 415.5 141.6C414.4 140.7 413.6 139.4 412.7 138.1C411.7 136.8 410.6 135.4 410 133.7C409.4 132 408.8 129.6 409 127.9C409.3 126.2 410.5 124.4 411.5 123.4C412.6 122.3 414.1 122 415.4 121.5C416.7 121.1 417.9 120.8 419.2 120.8C420.5 120.9 421.9 121.2 423.1 122C424.3 122.8 425.5 124.2 426.3 125.6C427.2 127 427.9 128.8 428.2 130.5Z"/></defs><use href="#rg17" fill="none" stroke="#c6c6c6" stroke-width="7.5"/><use href="#rg17" fill="#bdbdbd" stroke="#4d4d4d" stroke-width="6.1"/><path d="M429 130.4C429.4 132.2 429.6 134.4 429.3 136.2C429 138 428.2 139.9 427.3 141.2C426.3 142.5 425 143.7 423.6 144.3C422.3 144.8 420.6 145.1 419.2 144.7C417.8 144.4 416.4 143.3 415.2 142.2C414 141.2 413.1 139.9 412.1 138.5C411.1 137.1 409.9 135.7 409.2 133.9C408.6 132.1 408 129.5 408.2 127.7C408.5 125.9 409.8 124 411 122.8C412.1 121.7 413.7 121.3 415.1 120.9C416.5 120.4 417.8 120.1 419.2 120.1C420.6 120.2 422.2 120.5 423.5 121.3C424.8 122.2 426 123.7 426.9 125.2C427.8 126.7 428.6 128.5 429 130.4Z" fill="none" stroke="#6e6e6e" stroke-width="0.8" opacity="0.7"/>
<defs><path id="rg18" d="M389.1 136.4C389.1 136.9 389 137.4 388.9 137.8C388.7 138.2 388.4 138.7 388.1 139C387.7 139.3 387.2 139.5 386.7 139.6C386.3 139.7 385.7 139.7 385.3 139.6C384.8 139.4 384.4 139.2 384 138.9C383.7 138.6 383.5 138.1 383.3 137.7C383.1 137.3 383 136.9 383 136.4C382.9 135.9 382.9 135.4 383 135C383.2 134.5 383.5 134 383.9 133.7C384.2 133.4 384.8 133.3 385.3 133.3C385.8 133.2 386.2 133.3 386.7 133.4C387.1 133.5 387.6 133.6 388 133.9C388.3 134.2 388.7 134.6 388.9 135C389 135.4 389.1 135.9 389.1 136.4Z"/></defs><use href="#rg18" fill="none" stroke="#c6c6c6" stroke-width="5.0"/><use href="#rg18" fill="#bdbdbd" stroke="#4d4d4d" stroke-width="3.6"/>
<defs><path id="rg19" d="M378.8 156.5C378.9 157.3 378.8 158.3 378.5 159.1C378.1 159.8 377.5 160.7 376.7 161.2C376 161.7 374.9 162.1 374 162.2C373 162.3 372 162 371.2 161.7C370.3 161.4 369.7 160.9 369 160.4C368.3 159.9 367.6 159.5 367 158.8C366.5 158.2 365.9 157.3 365.8 156.5C365.7 155.7 366 154.7 366.5 153.9C366.9 153.2 367.7 152.5 368.5 152C369.3 151.5 370.2 151.1 371.1 151C372 150.8 373 150.9 373.9 151.1C374.7 151.3 375.5 151.9 376.2 152.4C376.9 152.9 377.4 153.5 377.9 154.2C378.3 154.9 378.7 155.7 378.8 156.5Z"/></defs><use href="#rg19" fill="none" stroke="#c6c6c6" stroke-width="6.0"/><use href="#rg19" fill="#bdbdbd" stroke="#4d4d4d" stroke-width="4.6"/><path d="M379.4 156.5C379.5 157.4 379.4 158.5 379 159.3C378.6 160.2 377.9 161.1 377.1 161.7C376.3 162.2 375.1 162.7 374.1 162.8C373.1 162.8 372 162.5 371.1 162.2C370.2 161.9 369.4 161.3 368.7 160.8C368 160.3 367.1 159.8 366.6 159.1C366 158.4 365.3 157.4 365.2 156.5C365.1 155.6 365.4 154.5 365.9 153.7C366.4 152.8 367.3 152.1 368.1 151.6C369 151.1 370 150.6 371 150.4C371.9 150.3 373.1 150.3 374 150.6C374.9 150.8 375.8 151.4 376.5 152C377.2 152.5 377.8 153.2 378.3 154C378.8 154.7 379.3 155.6 379.4 156.5Z" fill="none" stroke="#6e6e6e" stroke-width="0.8" opacity="0.7"/>
<defs><path id="rg20" d="M407.1 151.5C407.4 153 407.5 154.9 406.9 156.3C406.4 157.7 405.1 159.1 403.8 160C402.5 160.9 400.8 161.3 399.3 161.6C397.8 161.8 396.2 161.8 394.7 161.5C393.3 161.1 391.8 160.3 390.8 159.3C389.7 158.4 389 156.9 388.5 155.6C388 154.3 387.7 152.9 387.5 151.5C387.4 150.1 387.2 148.4 387.6 147C388 145.5 388.8 143.7 390 142.7C391.1 141.6 393 140.9 394.5 140.7C396.1 140.5 397.9 141 399.3 141.6C400.6 142.2 401.8 143.3 402.8 144.3C403.8 145.2 404.5 146.3 405.2 147.5C406 148.7 406.8 150 407.1 151.5Z"/></defs><use href="#rg20" fill="none" stroke="#c6c6c6" stroke-width="7.0"/><use href="#rg20" fill="#bdbdbd" stroke="#4d4d4d" stroke-width="5.6"/><path d="M407.8 151.5C408.1 153.1 408.2 155.1 407.6 156.6C407 158.1 405.6 159.6 404.2 160.6C402.9 161.5 401.1 162 399.4 162.2C397.8 162.5 396.1 162.5 394.6 162.1C393.1 161.7 391.4 160.9 390.3 159.8C389.2 158.8 388.5 157.3 387.9 155.9C387.4 154.5 387.1 153 386.9 151.5C386.8 150 386.5 148.2 387 146.7C387.4 145.1 388.3 143.2 389.5 142.1C390.7 141 392.7 140.2 394.4 140C396 139.8 397.9 140.3 399.4 140.9C400.9 141.6 402.1 142.7 403.2 143.8C404.2 144.8 405 146 405.8 147.3C406.6 148.6 407.5 149.9 407.8 151.5Z" fill="none" stroke="#6e6e6e" stroke-width="0.8" opacity="0.7"/>
<defs><path id="rg21" d="M428.1 155C428.1 155.9 428.1 156.9 427.9 157.7C427.8 158.5 427.5 159.5 427.1 160C426.7 160.6 426.2 161.1 425.7 161.2C425.3 161.4 424.7 161.2 424.3 160.9C423.9 160.6 423.5 160 423.1 159.5C422.8 158.9 422.5 158.3 422.3 157.5C422 156.8 421.8 155.9 421.7 155C421.7 154.1 421.8 153 422 152.2C422.2 151.4 422.6 150.8 423 150.2C423.4 149.7 423.8 149.3 424.3 149.1C424.7 148.9 425.3 148.7 425.7 148.9C426.2 149.1 426.7 149.6 427 150.2C427.3 150.8 427.6 151.7 427.7 152.5C427.9 153.3 428 154.1 428.1 155Z"/></defs><use href="#rg21" fill="none" stroke="#c6c6c6" stroke-width="5.0"/><use href="#rg21" fill="#bdbdbd" stroke="#4d4d4d" stroke-width="3.6"/>
<defs><path id="rg22" d="M440.1 131C440 131.8 439.7 132.6 439.5 133.3C439.3 133.9 438.9 134.4 438.6 134.8C438.3 135.2 438 135.6 437.6 135.8C437.2 136 436.8 136.2 436.4 136.1C436 136.1 435.5 135.8 435.1 135.4C434.8 135 434.4 134.3 434.2 133.5C434 132.8 434 131.8 434 131C434.1 130.2 434.3 129.4 434.5 128.8C434.7 128.1 435 127.6 435.3 127.1C435.7 126.7 436 126.3 436.4 126.1C436.8 125.9 437.2 125.8 437.6 125.9C438 126 438.5 126.3 438.8 126.7C439.2 127.1 439.6 127.7 439.8 128.5C440 129.2 440.1 130.2 440.1 131Z"/></defs><use href="#rg22" fill="none" stroke="#c6c6c6" stroke-width="4.7"/><use href="#rg22" fill="#bdbdbd" stroke="#4d4d4d" stroke-width="3.3000000000000003"/>
<defs><path id="rg23" d="M348 176C348 177.7 347.3 179.6 346.4 181C345.5 182.4 344.1 183.6 342.7 184.5C341.4 185.3 339.8 185.7 338.3 185.9C336.8 186.2 335.2 186.2 333.7 186C332.2 185.7 330.5 185.4 329.2 184.5C327.9 183.6 326.7 182.2 326 180.8C325.2 179.4 324.9 177.7 324.8 176C324.7 174.3 324.7 172.4 325.4 170.9C326 169.3 327.3 167.6 328.7 166.8C330.1 166 332.1 166 333.7 166C335.3 166 336.6 166.5 338.1 166.9C339.5 167.2 341 167.2 342.5 167.9C343.9 168.6 345.6 169.6 346.6 170.9C347.5 172.3 348.1 174.3 348 176Z"/></defs><use href="#rg23" fill="none" stroke="#c6c6c6" stroke-width="7.5"/><use href="#rg23" fill="#bdbdbd" stroke="#4d4d4d" stroke-width="6.1"/><path d="M348.8 176C348.8 177.8 348 179.8 347.1 181.3C346.2 182.8 344.6 184.2 343.2 185C341.8 185.9 340 186.3 338.4 186.6C336.8 186.8 335.2 186.9 333.6 186.6C332 186.4 330.2 186 328.8 185.1C327.4 184.1 326.1 182.7 325.3 181.1C324.5 179.6 324.1 177.8 324 176C323.9 174.2 324 172.2 324.6 170.5C325.3 168.9 326.7 167.1 328.2 166.2C329.7 165.3 331.9 165.3 333.6 165.3C335.2 165.3 336.7 165.9 338.2 166.2C339.8 166.6 341.4 166.6 342.9 167.4C344.4 168.1 346.3 169.1 347.3 170.6C348.3 172 348.9 174.2 348.8 176Z" fill="none" stroke="#6e6e6e" stroke-width="0.8" opacity="0.7"/>
<defs><path id="rg24" d="M367.5 177C367.6 178.1 367.5 179.5 367 180.5C366.6 181.5 365.6 182.4 364.8 183C363.9 183.6 362.8 183.9 361.9 184C360.9 184.2 359.9 184.2 359 183.9C358 183.7 357.1 183.2 356.4 182.6C355.6 182 355 181 354.5 180.1C354.1 179.2 353.7 178.1 353.6 177C353.4 175.9 353.4 174.5 353.8 173.5C354.2 172.5 355.1 171.4 355.9 170.8C356.7 170.2 357.9 169.9 358.9 169.8C359.9 169.7 360.9 169.9 361.8 170.2C362.7 170.5 363.5 171 364.3 171.6C365 172.2 365.8 173 366.3 173.9C366.8 174.8 367.4 175.9 367.5 177Z"/></defs><use href="#rg24" fill="none" stroke="#c6c6c6" stroke-width="6.5"/><use href="#rg24" fill="#bdbdbd" stroke="#4d4d4d" stroke-width="5.1"/><path d="M368.1 177C368.3 178.2 368.1 179.7 367.6 180.8C367.1 181.9 366.1 182.9 365.1 183.5C364.2 184.1 363 184.4 362 184.6C360.9 184.8 359.8 184.8 358.8 184.5C357.8 184.3 356.8 183.7 356 183.1C355.2 182.4 354.5 181.4 354 180.4C353.5 179.4 353.1 178.2 352.9 177C352.8 175.8 352.8 174.3 353.2 173.2C353.7 172.1 354.6 170.9 355.5 170.3C356.4 169.6 357.7 169.3 358.8 169.2C359.8 169.1 360.9 169.3 361.9 169.7C362.9 170 363.8 170.5 364.6 171.2C365.5 171.8 366.3 172.6 366.8 173.6C367.4 174.6 368 175.8 368.1 177Z" fill="none" stroke="#6e6e6e" stroke-width="0.8" opacity="0.7"/>
<defs><path id="rg25" d="M401.7 178C401.7 179.1 401.5 180.3 401.1 181.2C400.6 182.2 399.8 183 399 183.6C398.3 184.2 397.3 184.6 396.4 184.8C395.5 185 394.5 185.2 393.6 185C392.7 184.7 391.7 184.2 391 183.5C390.3 182.9 389.8 181.9 389.4 181C389 180.1 388.5 179.1 388.4 178C388.2 176.9 388.1 175.5 388.5 174.5C388.9 173.6 389.9 172.6 390.8 172.1C391.6 171.6 392.7 171.7 393.7 171.6C394.6 171.5 395.4 171.4 396.3 171.6C397.2 171.7 398.3 171.8 399.1 172.4C399.8 172.9 400.6 173.8 401.1 174.8C401.5 175.7 401.7 176.9 401.7 178Z"/></defs><use href="#rg25" fill="none" stroke="#c6c6c6" stroke-width="7.0"/><use href="#rg25" fill="#bdbdbd" stroke="#4d4d4d" stroke-width="5.6"/><path d="M402.4 178C402.4 179.2 402.2 180.5 401.7 181.5C401.2 182.6 400.3 183.5 399.4 184.1C398.6 184.8 397.5 185.2 396.5 185.4C395.5 185.7 394.4 185.8 393.4 185.6C392.4 185.4 391.4 184.8 390.6 184.1C389.8 183.3 389.3 182.3 388.8 181.3C388.3 180.3 387.9 179.2 387.7 178C387.5 176.8 387.4 175.3 387.9 174.2C388.3 173.2 389.4 172.1 390.3 171.6C391.3 171 392.5 171.1 393.5 171C394.6 170.9 395.5 170.8 396.5 171C397.5 171.1 398.6 171.2 399.5 171.8C400.3 172.4 401.2 173.4 401.7 174.5C402.2 175.5 402.4 176.8 402.4 178Z" fill="none" stroke="#6e6e6e" stroke-width="0.8" opacity="0.7"/>
<defs><path id="rg26" d="M436 177C435.9 177.9 435.7 178.8 435.4 179.5C435 180.2 434.5 180.9 433.9 181.4C433.3 181.9 432.7 182.2 432 182.5C431.4 182.7 430.6 182.9 429.9 182.8C429.2 182.7 428.4 182.4 427.7 181.9C427.1 181.4 426.5 180.6 426.2 179.8C425.9 179 425.8 177.9 425.9 177C425.9 176.1 426.3 175.2 426.7 174.5C427.1 173.8 427.7 173.3 428.2 172.8C428.8 172.3 429.3 171.8 430 171.5C430.6 171.2 431.4 170.9 432.1 171C432.9 171 433.7 171.4 434.3 172C434.9 172.5 435.4 173.5 435.7 174.3C435.9 175.1 436 176.1 436 177Z"/></defs><use href="#rg26" fill="none" stroke="#c6c6c6" stroke-width="5.5"/><use href="#rg26" fill="#bdbdbd" stroke="#4d4d4d" stroke-width="4.1"/><path d="M436.5 177C436.4 177.9 436.2 178.9 435.8 179.7C435.4 180.5 434.8 181.2 434.2 181.7C433.6 182.3 432.9 182.7 432.1 182.9C431.4 183.2 430.6 183.4 429.8 183.3C429 183.2 428.1 182.9 427.4 182.3C426.7 181.8 426.1 180.9 425.7 180C425.4 179.1 425.3 177.9 425.3 177C425.4 176.1 425.9 175.1 426.3 174.3C426.7 173.6 427.4 173 427.9 172.5C428.5 171.9 429.1 171.4 429.9 171.1C430.6 170.8 431.5 170.4 432.3 170.5C433.1 170.6 434 171 434.7 171.6C435.3 172.2 435.8 173.2 436.1 174.1C436.4 175 436.5 176.1 436.5 177Z" fill="none" stroke="#6e6e6e" stroke-width="0.8" opacity="0.7"/>
<defs><path id="rg27" d="M321.9 153C322 154 321.9 155.1 321.8 156C321.7 157 321.6 157.9 321.4 158.6C321.3 159.3 321.1 160 320.8 160.2C320.6 160.5 320.4 160.4 320.2 160.1C320 159.7 319.8 158.8 319.7 158.1C319.5 157.4 319.4 156.5 319.3 155.7C319.3 154.8 319.1 154 319.1 153C319.1 152 319 150.7 319.1 149.7C319.2 148.7 319.3 147.7 319.5 147.1C319.7 146.5 320 146.2 320.2 146.1C320.4 146 320.6 146.2 320.8 146.5C321 146.8 321.2 147.3 321.4 147.9C321.5 148.5 321.7 149.2 321.8 150.1C321.9 150.9 321.9 152 321.9 153Z"/></defs><use href="#rg27" fill="none" stroke="#c6c6c6" stroke-width="5.5"/><use href="#rg27" fill="#bdbdbd" stroke="#4d4d4d" stroke-width="4.1"/><path d="M322.4 153C322.5 154.1 322.4 155.3 322.3 156.3C322.1 157.3 322 158.2 321.7 159C321.5 159.7 321.2 160.5 321 160.7C320.7 161 320.3 160.9 320 160.6C319.8 160.2 319.5 159.2 319.4 158.4C319.2 157.7 319.1 156.8 319 155.9C318.8 154.9 318.7 154.1 318.6 153C318.6 151.9 318.5 150.6 318.6 149.5C318.7 148.4 318.9 147.3 319.2 146.7C319.4 146 319.8 145.7 320.1 145.6C320.3 145.5 320.7 145.7 320.9 146C321.2 146.4 321.4 146.9 321.6 147.5C321.9 148.1 322.1 149 322.2 149.9C322.3 150.8 322.4 151.9 322.4 153Z" fill="none" stroke="#6e6e6e" stroke-width="0.8" opacity="0.7"/>
<defs><path id="rg28" d="M439.3 82.5C439.2 83.6 439.1 84.6 438.9 85.5C438.8 86.4 438.6 87.2 438.3 87.9C438.1 88.5 437.8 89.1 437.5 89.4C437.2 89.6 436.8 89.8 436.5 89.6C436.2 89.4 435.8 88.9 435.6 88.3C435.3 87.6 435.1 86.6 435 85.6C434.9 84.7 434.8 83.6 434.8 82.5C434.8 81.4 434.8 80.3 435 79.3C435.1 78.4 435.4 77.4 435.6 76.8C435.9 76.3 436.2 76 436.5 75.8C436.8 75.7 437.2 75.7 437.5 75.8C437.8 76 438.1 76.2 438.4 76.7C438.7 77.3 439 78.2 439.1 79.2C439.3 80.1 439.3 81.4 439.3 82.5Z"/></defs><use href="#rg28" fill="none" stroke="#c6c6c6" stroke-width="5.0"/><use href="#rg28" fill="#bdbdbd" stroke="#4d4d4d" stroke-width="3.6"/>
<defs><path id="rg29" d="M389.5 89.5C389.5 89.7 389.4 89.9 389.3 90.1C389.2 90.3 389.1 90.5 389 90.7C388.8 90.9 388.6 91.1 388.4 91.1C388.2 91.2 387.9 91.2 387.6 91.2C387.4 91.1 387.1 91 387 90.8C386.8 90.6 386.6 90.4 386.6 90.2C386.5 90 386.4 89.7 386.5 89.5C386.5 89.3 386.5 89 386.6 88.8C386.7 88.6 386.8 88.4 387 88.3C387.2 88.1 387.4 88 387.7 88C387.9 87.9 388.1 87.9 388.4 87.9C388.6 88 388.9 88 389.1 88.1C389.3 88.3 389.5 88.5 389.5 88.8C389.6 89 389.6 89.3 389.5 89.5Z"/></defs><use href="#rg29" fill="none" stroke="#c6c6c6" stroke-width="3.8"/><use href="#rg29" fill="#bdbdbd" stroke="#4d4d4d" stroke-width="2.4000000000000004"/>
<defs><path id="rg30" d="M390.6 96.5C390.6 96.8 390.5 97.1 390.4 97.4C390.2 97.7 390.1 98 389.8 98.2C389.6 98.4 389.3 98.5 389 98.6C388.7 98.7 388.3 98.7 388 98.7C387.7 98.6 387.3 98.5 387.1 98.3C386.8 98.1 386.5 97.8 386.4 97.5C386.3 97.2 386.3 96.8 386.3 96.5C386.4 96.2 386.5 95.9 386.7 95.6C386.8 95.4 387 95.1 387.2 94.9C387.4 94.7 387.7 94.5 388 94.4C388.3 94.2 388.7 94.2 389 94.3C389.3 94.3 389.7 94.5 390 94.7C390.2 94.9 390.4 95.2 390.6 95.5C390.7 95.8 390.7 96.2 390.6 96.5Z"/></defs><use href="#rg30" fill="none" stroke="#c6c6c6" stroke-width="4.0"/><use href="#rg30" fill="#bdbdbd" stroke="#4d4d4d" stroke-width="2.6"/>
<defs><path id="rg31" d="M380.7 140C380.7 140.5 380.7 141.1 380.5 141.6C380.4 142.1 380.2 142.6 380.1 142.9C379.9 143.2 379.6 143.4 379.4 143.5C379.1 143.6 378.9 143.6 378.6 143.5C378.4 143.4 378.1 143.2 377.9 142.9C377.7 142.6 377.5 142.2 377.4 141.7C377.3 141.2 377.2 140.5 377.2 140C377.3 139.5 377.4 138.9 377.5 138.4C377.6 138 377.8 137.6 378 137.2C378.2 136.9 378.4 136.6 378.6 136.4C378.9 136.3 379.1 136.2 379.4 136.3C379.6 136.5 379.9 136.8 380.1 137.1C380.3 137.4 380.4 137.9 380.5 138.4C380.7 138.9 380.7 139.5 380.7 140Z"/></defs><use href="#rg31" fill="none" stroke="#c6c6c6" stroke-width="4.0"/><use href="#rg31" fill="#bdbdbd" stroke="#4d4d4d" stroke-width="2.6"/>
<rect x="388.5" y="99" width="2" height="2" fill="#222"/>
<path d="M320 22 C326 20 334 21 336 26 C337 31 333 35 327 35.5 C323 36 320 34 320 34 Z" fill="#3e3e3e"/>
</g>
<text x="323.8" y="32.8" font-size="14" fill="#fff" textLength="9.2" lengthAdjust="spacingAndGlyphs">D</text>
<g clip-path="url(#cE)">
<rect x="442.5" y="20.5" width="119" height="158.5" fill="#c6c6c6"/>
<rect x="442.5" y="20.5" width="119" height="158.5" fill="#000" filter="url(#tex)" opacity="0.3"/>
<g fill="#d0d0d0" stroke="#a8a8a8" stroke-width="0.5"><ellipse cx="469.5" cy="173.0" rx="1.5" ry="1.6"/><ellipse cx="452.6" cy="59.7" rx="3.2" ry="2.6"/><ellipse cx="518.9" cy="93.3" rx="2.1" ry="2.1"/><ellipse cx="465.4" cy="152.1" rx="1.4" ry="1.2"/><ellipse cx="444.9" cy="62.8" rx="2.0" ry="2.5"/><ellipse cx="487.6" cy="38.5" rx="1.7" ry="2.2"/><ellipse cx="450.0" cy="118.8" rx="2.0" ry="2.1"/><ellipse cx="482.8" cy="130.1" rx="2.2" ry="2.4"/><ellipse cx="549.8" cy="112.7" rx="1.5" ry="1.1"/><ellipse cx="555.1" cy="98.0" rx="1.6" ry="2.0"/><ellipse cx="511.4" cy="136.0" rx="3.0" ry="2.6"/><ellipse cx="484.9" cy="159.7" rx="1.5" ry="1.7"/><ellipse cx="454.1" cy="129.9" rx="2.6" ry="3.3"/><ellipse cx="542.9" cy="100.3" rx="1.6" ry="1.3"/><ellipse cx="505.4" cy="101.3" rx="1.3" ry="1.7"/><ellipse cx="502.9" cy="131.7" rx="1.6" ry="1.4"/><ellipse cx="443.9" cy="74.9" rx="1.7" ry="1.7"/><ellipse cx="487.4" cy="152.7" rx="3.0" ry="2.4"/><ellipse cx="489.7" cy="46.8" rx="2.5" ry="3.2"/><ellipse cx="466.5" cy="142.0" rx="1.8" ry="1.3"/><ellipse cx="533.5" cy="74.7" rx="1.5" ry="1.5"/><ellipse cx="470.1" cy="85.5" rx="2.1" ry="2.0"/><ellipse cx="512.5" cy="66.3" rx="1.4" ry="1.0"/><ellipse cx="455.2" cy="103.1" rx="1.9" ry="2.3"/><ellipse cx="502.6" cy="132.7" rx="3.2" ry="2.3"/><ellipse cx="444.5" cy="42.8" rx="2.0" ry="2.1"/><ellipse cx="531.0" cy="76.2" rx="3.1" ry="2.2"/><ellipse cx="541.9" cy="53.8" rx="3.0" ry="2.1"/><ellipse cx="557.4" cy="140.9" rx="3.2" ry="3.3"/><ellipse cx="463.7" cy="174.2" rx="2.1" ry="1.6"/><ellipse cx="514.5" cy="99.3" rx="2.1" ry="1.7"/><ellipse cx="457.0" cy="112.5" rx="2.1" ry="1.6"/><ellipse cx="494.8" cy="135.5" rx="2.6" ry="2.6"/><ellipse cx="489.4" cy="77.7" rx="1.7" ry="1.4"/><ellipse cx="495.6" cy="37.6" rx="2.7" ry="3.0"/><ellipse cx="515.3" cy="24.1" rx="1.9" ry="1.9"/><ellipse cx="453.6" cy="173.9" rx="2.7" ry="2.7"/><ellipse cx="526.4" cy="52.3" rx="1.7" ry="1.7"/><ellipse cx="531.0" cy="123.1" rx="1.2" ry="1.3"/><ellipse cx="550.7" cy="138.3" rx="3.1" ry="3.9"/><ellipse cx="469.1" cy="67.5" rx="2.3" ry="3.0"/><ellipse cx="486.4" cy="169.7" rx="2.9" ry="2.9"/><ellipse cx="516.9" cy="172.2" rx="2.8" ry="2.4"/><ellipse cx="543.1" cy="51.5" rx="1.9" ry="2.5"/><ellipse cx="543.3" cy="70.0" rx="1.8" ry="1.9"/><ellipse cx="542.8" cy="129.0" rx="3.1" ry="3.5"/><ellipse cx="540.2" cy="116.4" rx="1.9" ry="1.8"/><ellipse cx="500.8" cy="104.3" rx="2.9" ry="2.5"/><ellipse cx="450.7" cy="136.7" rx="1.7" ry="1.7"/><ellipse cx="456.4" cy="151.9" rx="1.7" ry="1.5"/><ellipse cx="538.2" cy="100.4" rx="1.8" ry="2.2"/><ellipse cx="491.5" cy="77.8" rx="3.1" ry="3.7"/><ellipse cx="531.4" cy="60.1" rx="2.8" ry="3.0"/><ellipse cx="541.2" cy="78.8" rx="2.8" ry="3.2"/><ellipse cx="488.7" cy="124.3" rx="2.8" ry="3.6"/><ellipse cx="552.0" cy="145.1" rx="1.5" ry="1.6"/><ellipse cx="524.0" cy="34.3" rx="2.1" ry="2.6"/><ellipse cx="550.2" cy="167.2" rx="1.4" ry="1.5"/><ellipse cx="545.4" cy="124.0" rx="1.8" ry="1.3"/><ellipse cx="552.0" cy="156.7" rx="2.5" ry="2.3"/><ellipse cx="541.1" cy="149.6" rx="2.6" ry="2.8"/><ellipse cx="480.5" cy="67.5" rx="1.9" ry="1.7"/><ellipse cx="504.4" cy="38.6" rx="2.6" ry="2.4"/><ellipse cx="461.5" cy="60.9" rx="2.0" ry="1.9"/><ellipse cx="535.6" cy="36.3" rx="1.6" ry="1.4"/><ellipse cx="463.5" cy="139.3" rx="1.4" ry="1.0"/><ellipse cx="508.6" cy="137.2" rx="2.9" ry="3.0"/><ellipse cx="481.4" cy="160.3" rx="2.7" ry="2.6"/><ellipse cx="509.5" cy="168.9" rx="3.2" ry="4.0"/><ellipse cx="458.3" cy="72.3" rx="2.0" ry="1.6"/><ellipse cx="533.2" cy="30.1" rx="3.0" ry="3.1"/><ellipse cx="515.5" cy="86.3" rx="3.1" ry="3.2"/><ellipse cx="549.2" cy="166.7" rx="2.6" ry="3.3"/><ellipse cx="500.8" cy="78.6" rx="2.9" ry="2.9"/><ellipse cx="479.2" cy="128.3" rx="2.2" ry="1.7"/><ellipse cx="542.2" cy="99.7" rx="3.1" ry="3.2"/><ellipse cx="554.0" cy="66.3" rx="1.6" ry="1.7"/><ellipse cx="533.7" cy="151.2" rx="2.5" ry="1.9"/><ellipse cx="489.4" cy="26.0" rx="1.9" ry="2.5"/><ellipse cx="483.8" cy="131.3" rx="2.4" ry="1.9"/><ellipse cx="524.4" cy="33.1" rx="1.6" ry="1.6"/><ellipse cx="457.7" cy="173.4" rx="2.1" ry="2.2"/><ellipse cx="557.4" cy="37.6" rx="3.2" ry="2.3"/><ellipse cx="514.0" cy="124.5" rx="3.2" ry="2.9"/><ellipse cx="555.2" cy="123.6" rx="2.2" ry="1.7"/><ellipse cx="470.6" cy="78.4" rx="1.9" ry="1.7"/><ellipse cx="538.7" cy="79.9" rx="2.5" ry="1.8"/><ellipse cx="459.2" cy="133.0" rx="3.0" ry="2.6"/><ellipse cx="446.4" cy="57.4" rx="1.9" ry="1.8"/><ellipse cx="509.3" cy="68.3" rx="2.5" ry="2.9"/><ellipse cx="535.7" cy="138.0" rx="2.4" ry="2.0"/><ellipse cx="542.6" cy="66.4" rx="2.9" ry="2.8"/><ellipse cx="517.4" cy="99.6" rx="2.5" ry="2.3"/><ellipse cx="511.3" cy="137.2" rx="1.9" ry="2.0"/><ellipse cx="496.8" cy="95.0" rx="2.0" ry="2.0"/><ellipse cx="526.9" cy="48.0" rx="1.5" ry="1.8"/><ellipse cx="453.0" cy="146.2" rx="2.7" ry="2.3"/><ellipse cx="518.2" cy="60.7" rx="3.0" ry="2.4"/><ellipse cx="456.3" cy="26.3" rx="2.6" ry="2.2"/><ellipse cx="479.9" cy="175.3" rx="2.7" ry="3.1"/><ellipse cx="511.0" cy="122.0" rx="1.2" ry="1.5"/><ellipse cx="481.7" cy="156.0" rx="2.0" ry="2.5"/><ellipse cx="442.6" cy="175.9" rx="1.4" ry="1.4"/><ellipse cx="499.8" cy="176.8" rx="2.6" ry="3.4"/><ellipse cx="550.3" cy="87.9" rx="1.5" ry="1.2"/><ellipse cx="526.9" cy="171.3" rx="2.5" ry="2.3"/><ellipse cx="513.6" cy="124.6" rx="1.7" ry="1.9"/><ellipse cx="466.2" cy="24.9" rx="1.3" ry="1.3"/><ellipse cx="525.3" cy="56.2" rx="2.0" ry="2.2"/><ellipse cx="473.8" cy="103.3" rx="2.4" ry="2.3"/></g>
<ellipse cx="537" cy="166" rx="12" ry="12" fill="#cfcfcf"/>
<ellipse cx="495" cy="110" rx="7" ry="14" fill="#cfcfcf"/>
<ellipse cx="530" cy="133" rx="5" ry="10" fill="#a9a9a9" stroke="#999" stroke-width="0.8"/>
<ellipse cx="460" cy="37.5" rx="8.5" ry="8" fill="#acacac"/>
<ellipse cx="482.3" cy="32.3" rx="7.5" ry="10" fill="#acacac"/>
<defs><path id="rg32" d="M472.5 79.8C472.3 82.9 471.6 86.5 470.8 89.1C470 91.7 468.7 93.9 467.5 95.6C466.3 97.2 465.1 98.3 463.8 99.1C462.5 99.8 461.1 100.5 459.9 100C458.7 99.5 457.3 98.1 456.5 96.1C455.7 94 455.2 90.7 454.9 87.7C454.7 84.8 454.8 81.3 455.1 78.3C455.4 75.2 456 71.8 456.8 69.2C457.6 66.5 458.7 64 459.8 62.1C461 60.3 462.3 58.9 463.6 58.2C464.9 57.5 466.3 57.3 467.5 58C468.7 58.7 469.9 60.4 470.7 62.5C471.5 64.6 472 67.5 472.3 70.4C472.6 73.3 472.8 76.6 472.5 79.8Z"/></defs><use href="#rg32" fill="none" stroke="#dadada" stroke-width="9.4"/><use href="#rg32" fill="#c4c4c4" stroke="#4f4f4f" stroke-width="7"/><path d="M473.4 79.8C473.1 83.1 472.4 86.8 471.5 89.5C470.6 92.3 469.2 94.5 467.9 96.3C466.7 98 465.3 99.1 463.9 99.9C462.5 100.6 461 101.4 459.6 100.9C458.3 100.3 456.8 98.8 455.9 96.7C455 94.6 454.4 91.1 454.1 88C453.9 85 454 81.4 454.3 78.2C454.6 75 455.2 71.5 456.1 68.7C456.9 65.9 458.2 63.3 459.4 61.4C460.6 59.5 462.1 58.1 463.5 57.4C464.9 56.7 466.5 56.4 467.8 57.2C469.1 57.9 470.4 59.7 471.2 61.9C472.1 64 472.8 67.1 473.1 70.1C473.5 73.1 473.6 76.6 473.4 79.8Z" fill="none" stroke="#6e6e6e" stroke-width="0.8" opacity="0.7"/>
<defs><path id="rg33" d="M505 64.7C503.9 67.6 502.3 70.7 500.6 73.2C499 75.8 497 78.2 495.2 80C493.3 81.7 491.1 83.4 489.4 83.7C487.7 84 486 83.1 485.2 81.5C484.3 79.9 484.3 76.8 484.3 74.2C484.3 71.7 484.7 69 485.1 66.2C485.5 63.3 485.9 60.3 486.9 57.3C487.9 54.3 489.4 50.6 491.1 48C492.8 45.4 495 43.2 496.8 41.7C498.7 40.3 500.7 39.5 502.3 39.4C503.9 39.4 505.4 40 506.4 41.3C507.4 42.6 508 44.9 508.2 47.3C508.4 49.6 508.1 52.6 507.6 55.5C507.1 58.4 506.2 61.7 505 64.7Z"/></defs><use href="#rg33" fill="none" stroke="#dadada" stroke-width="12.4"/><use href="#rg33" fill="#c4c4c4" stroke="#4f4f4f" stroke-width="10"/><path d="M506.1 65.1C504.9 68.2 503.2 71.4 501.4 74.1C499.7 76.8 497.6 79.3 495.5 81.1C493.5 82.9 491 84.7 489.2 85C487.4 85.2 485.5 84.2 484.5 82.5C483.5 80.9 483.4 77.5 483.3 74.8C483.2 72.1 483.6 69.2 484 66.2C484.4 63.2 484.7 60.1 485.8 56.9C486.8 53.7 488.5 49.8 490.2 47.1C492 44.4 494.4 42 496.5 40.5C498.5 39.1 500.7 38.3 502.5 38.2C504.2 38.2 506 38.9 507.1 40.3C508.2 41.7 508.9 44.2 509.2 46.7C509.5 49.2 509.3 52.4 508.8 55.4C508.2 58.5 507.4 62 506.1 65.1Z" fill="none" stroke="#6e6e6e" stroke-width="0.8" opacity="0.7"/>
<defs><path id="rg34" d="M535.3 46.7C534.7 49.2 533.8 51.8 532.7 54C531.7 56.2 530.2 58.5 528.8 59.9C527.5 61.2 525.8 61.9 524.4 62.1C523.1 62.2 521.8 61.7 520.7 60.8C519.6 59.9 518.6 58.6 518 56.8C517.5 54.9 517.4 52.2 517.6 49.8C517.8 47.4 518.6 44.8 519.3 42.4C520 40 520.7 37.7 521.7 35.4C522.7 33.1 523.9 30.3 525.3 28.7C526.7 27.1 528.5 26 529.9 25.9C531.3 25.8 532.5 27.1 533.5 28.2C534.4 29.4 535.1 31.1 535.6 33C536.1 34.8 536.4 37 536.3 39.3C536.3 41.6 535.9 44.2 535.3 46.7Z"/></defs><use href="#rg34" fill="none" stroke="#dadada" stroke-width="8.9"/><use href="#rg34" fill="#c4c4c4" stroke="#4f4f4f" stroke-width="6.5"/><path d="M536 46.9C535.4 49.5 534.5 52.2 533.3 54.5C532.2 56.8 530.7 59.2 529.2 60.6C527.7 62 525.9 62.7 524.4 62.9C522.9 63 521.5 62.4 520.3 61.5C519.2 60.6 518 59.1 517.4 57.2C516.8 55.3 516.7 52.5 516.9 50C517.1 47.5 517.9 44.7 518.6 42.2C519.3 39.7 520.1 37.3 521.2 34.9C522.2 32.6 523.5 29.6 525 27.9C526.4 26.3 528.5 25.1 529.9 25.1C531.4 25 532.8 26.3 533.8 27.5C534.9 28.8 535.7 30.6 536.2 32.5C536.8 34.5 537.1 36.8 537.1 39.2C537.1 41.6 536.7 44.3 536 46.9Z" fill="none" stroke="#6e6e6e" stroke-width="0.8" opacity="0.7"/>
<defs><path id="rg35" d="M557.1 63.3C556.1 66.7 554.5 70.9 552.9 73.9C551.3 76.9 549.3 79.4 547.6 81.1C545.9 82.7 544.2 83.7 542.8 83.9C541.3 84.1 540 83.6 539.1 82.4C538.2 81.1 537.6 79 537.3 76.6C537.1 74.2 537.2 71.1 537.6 67.9C538 64.8 538.8 61.1 539.9 57.7C540.9 54.3 542.4 50.6 543.9 47.5C545.4 44.5 547.3 41.4 549 39.4C550.7 37.4 552.7 35.7 554.2 35.6C555.6 35.4 556.8 36.6 557.6 38.2C558.3 39.8 558.5 42.6 558.7 45.1C558.8 47.6 558.9 50.1 558.6 53.1C558.4 56.2 558 59.8 557.1 63.3Z"/></defs><use href="#rg35" fill="none" stroke="#dadada" stroke-width="8.9"/><use href="#rg35" fill="#c4c4c4" stroke="#4f4f4f" stroke-width="6.5"/><path d="M557.8 63.5C556.9 67.1 555.2 71.4 553.5 74.5C551.9 77.5 549.7 80.1 547.9 81.8C546.1 83.5 544.2 84.5 542.7 84.7C541.2 84.9 539.7 84.3 538.7 83C537.7 81.7 537 79.5 536.7 77C536.4 74.5 536.4 71.3 536.8 68C537.2 64.8 538 60.9 539.1 57.4C540.2 53.9 541.7 50.1 543.3 47C544.9 43.9 546.9 40.7 548.7 38.6C550.5 36.6 552.7 34.9 554.2 34.7C555.8 34.5 557.1 35.9 558 37.6C558.8 39.2 559 42.1 559.3 44.7C559.5 47.3 559.6 49.9 559.4 53C559.1 56.2 558.8 59.9 557.8 63.5Z" fill="none" stroke="#6e6e6e" stroke-width="0.8" opacity="0.7"/>
<defs><path id="rg36" d="M530 102.8C528.7 105.9 526.3 109.3 524.2 111.4C522.1 113.5 519.5 114.5 517.4 115.3C515.2 116.2 513.2 116.5 511.3 116.5C509.4 116.5 507.3 116.4 505.9 115.3C504.4 114.1 503.2 112 502.7 109.6C502.2 107.2 502.3 104 502.8 100.9C503.3 97.9 504.3 94.5 505.7 91.5C507.1 88.5 509.1 85.5 511.1 83.2C513.1 81 515.5 79.1 517.6 77.9C519.8 76.8 522.2 76 524.1 76.2C526 76.4 527.8 77.4 529 78.9C530.2 80.4 530.8 82.9 531.3 85.2C531.8 87.6 532.1 90.2 531.9 93.1C531.7 96.1 531.3 99.8 530 102.8Z"/></defs><use href="#rg36" fill="none" stroke="#dadada" stroke-width="9.9"/><use href="#rg36" fill="#c4c4c4" stroke="#4f4f4f" stroke-width="7.5"/><path d="M530.9 103.2C529.5 106.4 527 110 524.8 112.2C522.6 114.3 519.8 115.3 517.6 116.1C515.3 117 513.2 117.3 511.2 117.3C509.1 117.3 506.9 117.2 505.3 116C503.8 114.8 502.5 112.5 501.9 110C501.3 107.5 501.4 104.1 501.9 101C502.4 97.8 503.4 94.2 504.9 91.1C506.3 88 508.4 84.8 510.5 82.5C512.6 80.2 515.1 78.3 517.4 77.1C519.7 75.9 522.3 75.1 524.3 75.3C526.3 75.5 528.2 76.6 529.5 78.2C530.8 79.8 531.5 82.4 532.1 84.9C532.6 87.3 533 90.1 532.8 93.1C532.6 96.2 532.2 100.1 530.9 103.2Z" fill="none" stroke="#6e6e6e" stroke-width="0.8" opacity="0.7"/>
<defs><path id="rg37" d="M485.6 129.1C483.7 132.5 481.3 136.3 479 138.9C476.7 141.4 474 143.3 471.9 144.3C469.7 145.3 468 145 466.3 144.9C464.5 144.8 462.9 144.7 461.5 143.7C460.2 142.7 458.5 141.4 458.2 139C457.8 136.5 458.4 132.4 459.5 129C460.6 125.5 462.8 121.4 464.7 118C466.7 114.7 469 111.4 471.2 108.9C473.4 106.3 476 103.9 478.2 102.6C480.3 101.2 482.5 100.9 484.2 100.9C486 101 487.6 101.7 488.7 103C489.9 104.3 490.9 106.1 491.1 108.7C491.3 111.2 490.9 114.8 490 118.2C489 121.6 487.4 125.7 485.6 129.1Z"/></defs><use href="#rg37" fill="none" stroke="#dadada" stroke-width="12.4"/><use href="#rg37" fill="#c4c4c4" stroke="#4f4f4f" stroke-width="10"/><path d="M486.7 129.7C484.7 133.3 482.2 137.2 479.7 139.9C477.3 142.5 474.4 144.4 472.1 145.4C469.8 146.4 467.9 146.1 466 145.9C464.1 145.8 462.3 145.6 460.8 144.5C459.3 143.5 457.4 142.1 457 139.5C456.6 136.9 457.1 132.6 458.2 128.9C459.3 125.2 461.6 121 463.7 117.5C465.7 114 468.1 110.6 470.5 107.9C472.9 105.2 475.6 102.8 477.9 101.4C480.3 100.1 482.6 99.7 484.5 99.8C486.5 99.9 488.2 100.7 489.5 102.1C490.8 103.5 492 105.5 492.2 108.2C492.5 110.9 492.1 114.7 491.2 118.3C490.3 121.9 488.6 126.1 486.7 129.7Z" fill="none" stroke="#6e6e6e" stroke-width="0.8" opacity="0.7"/>
<defs><path id="rg38" d="M557.3 102.7C557.2 104.3 556.9 105.9 556.5 107.4C556.1 108.9 555.7 110.4 555 111.5C554.3 112.7 553.4 113.8 552.5 114.3C551.6 114.8 550.4 115 549.5 114.6C548.5 114.3 547.4 113.4 546.7 112.2C546 111.1 545.5 109.2 545.2 107.6C544.9 106.1 545 104.3 545 102.7C545.1 101.1 545.1 99.5 545.4 97.9C545.7 96.4 546.1 94.5 546.8 93.4C547.5 92.2 548.5 91.3 549.5 91C550.4 90.6 551.5 90.9 552.5 91.3C553.4 91.8 554.4 92.4 555.2 93.5C555.9 94.5 556.7 96 557 97.6C557.4 99.1 557.4 101.1 557.3 102.7Z"/></defs><use href="#rg38" fill="none" stroke="#dadada" stroke-width="7.9"/><use href="#rg38" fill="#c4c4c4" stroke="#4f4f4f" stroke-width="5.5"/><path d="M558 102.7C557.9 104.4 557.5 106.1 557.1 107.7C556.7 109.2 556.1 110.8 555.4 112C554.7 113.2 553.7 114.4 552.6 114.9C551.6 115.5 550.4 115.7 549.3 115.3C548.2 114.9 547 114 546.2 112.8C545.5 111.6 544.9 109.6 544.6 107.9C544.3 106.2 544.4 104.4 544.4 102.7C544.5 101 544.5 99.3 544.8 97.7C545.2 96 545.6 94.1 546.4 92.8C547.1 91.6 548.3 90.7 549.3 90.3C550.4 89.9 551.6 90.2 552.6 90.7C553.7 91.1 554.8 91.9 555.6 93C556.4 94.1 557.2 95.7 557.6 97.3C558 98.9 558.1 101 558 102.7Z" fill="none" stroke="#6e6e6e" stroke-width="0.8" opacity="0.7"/>
<defs><path id="rg39" d="M548.6 139C548.3 141.9 547.9 144.8 547.4 147.4C546.8 149.9 546 152.5 545.1 154.3C544.3 156.2 543.3 157.6 542.3 158.3C541.3 158.9 540.2 159.1 539.4 158.5C538.5 157.8 537.7 156.1 537.2 154.1C536.7 152.1 536.4 149.2 536.3 146.5C536.2 143.8 536.2 140.8 536.5 138C536.7 135.1 537.1 131.9 537.7 129.4C538.3 126.9 539.2 124.6 540.1 122.9C541 121.2 541.9 120 542.9 119.3C543.8 118.6 544.9 118 545.8 118.5C546.7 119.1 547.6 120.5 548.2 122.4C548.7 124.4 548.9 127.6 549 130.4C549.1 133.1 548.9 136.2 548.6 139Z"/></defs><use href="#rg39" fill="none" stroke="#dadada" stroke-width="8.4"/><use href="#rg39" fill="#c4c4c4" stroke="#4f4f4f" stroke-width="6"/><path d="M549.3 139.1C549 142 548.6 145.1 548 147.7C547.3 150.4 546.5 153.1 545.5 154.9C544.6 156.8 543.5 158.3 542.4 159C541.3 159.7 540.1 159.9 539.2 159.2C538.2 158.4 537.3 156.7 536.7 154.6C536.1 152.6 535.8 149.6 535.6 146.8C535.5 144 535.5 140.9 535.8 137.9C536 134.9 536.4 131.6 537.1 129C537.8 126.4 538.8 124 539.7 122.3C540.7 120.5 541.7 119.4 542.8 118.6C543.9 117.9 545 117.3 546 117.8C547 118.4 548.1 119.8 548.7 121.9C549.3 123.9 549.6 127.2 549.7 130.1C549.8 133 549.6 136.1 549.3 139.1Z" fill="none" stroke="#6e6e6e" stroke-width="0.8" opacity="0.7"/>
<defs><path id="rg40" d="M515.7 151.9C514.5 154.3 512.9 157 511 158.8C509.2 160.5 506.7 161.7 504.6 162.3C502.5 162.8 500.3 162.6 498.5 162.1C496.6 161.6 494.8 160.8 493.5 159.5C492.2 158.1 491.1 156.2 490.6 154.1C490.1 152 490.1 149.5 490.4 147.1C490.7 144.6 491.2 141.9 492.3 139.5C493.3 137 495 134.1 496.8 132.4C498.7 130.6 501.3 129.5 503.4 129C505.5 128.6 507.6 129.1 509.4 129.7C511.2 130.2 513 130.9 514.4 132.1C515.7 133.4 517 135.1 517.6 137.2C518.2 139.2 518.2 141.9 517.9 144.3C517.5 146.8 516.8 149.5 515.7 151.9Z"/></defs><use href="#rg40" fill="none" stroke="#dadada" stroke-width="9.4"/><use href="#rg40" fill="#c4c4c4" stroke="#4f4f4f" stroke-width="7"/><path d="M516.4 152.3C515.2 154.8 513.5 157.7 511.6 159.5C509.6 161.3 506.9 162.6 504.7 163.1C502.5 163.7 500.2 163.4 498.3 162.9C496.3 162.4 494.4 161.5 493 160.1C491.5 158.7 490.4 156.6 489.8 154.4C489.3 152.3 489.3 149.6 489.6 147C489.9 144.5 490.4 141.6 491.5 139.1C492.6 136.5 494.3 133.4 496.3 131.6C498.2 129.8 501.1 128.6 503.3 128.2C505.5 127.7 507.7 128.3 509.6 128.9C511.6 129.4 513.4 130.2 514.9 131.5C516.3 132.9 517.7 134.7 518.4 136.8C519 139 519 141.8 518.7 144.4C518.4 146.9 517.6 149.8 516.4 152.3Z" fill="none" stroke="#6e6e6e" stroke-width="0.8" opacity="0.7"/>
<defs><path id="rg41" d="M452.3 128.5C452.3 131.6 452.1 135.1 451.7 137.7C451.4 140.3 450.7 142.6 450.1 144.3C449.5 146 448.8 147.3 448.1 148.2C447.4 149.1 446.6 150 445.8 149.7C445 149.4 444.1 148.1 443.5 146.2C442.9 144.2 442.4 140.9 442.2 137.9C441.9 135 441.8 131.6 441.8 128.5C441.9 125.4 442 122.2 442.4 119.5C442.7 116.8 443.3 114.3 443.8 112.4C444.4 110.6 445.1 109.1 445.9 108.3C446.6 107.4 447.4 106.9 448.2 107.4C448.9 107.9 449.8 109.3 450.4 111.3C451 113.3 451.5 116.3 451.8 119.1C452.1 122 452.3 125.4 452.3 128.5Z"/></defs><use href="#rg41" fill="none" stroke="#dadada" stroke-width="7.9"/><use href="#rg41" fill="#c4c4c4" stroke="#4f4f4f" stroke-width="5.5"/><path d="M453 128.5C453 131.7 452.7 135.3 452.3 138C451.9 140.7 451.2 143 450.5 144.8C449.8 146.6 449.1 147.9 448.2 148.8C447.4 149.7 446.5 150.7 445.7 150.3C444.8 150 443.8 148.7 443.1 146.7C442.4 144.7 441.9 141.3 441.5 138.2C441.2 135.2 441.1 131.7 441.2 128.5C441.2 125.3 441.4 122 441.8 119.2C442.2 116.4 442.8 113.9 443.4 111.9C444.1 110 444.9 108.5 445.7 107.6C446.5 106.8 447.5 106.2 448.3 106.7C449.2 107.3 450.1 108.8 450.8 110.8C451.5 112.8 452 115.9 452.4 118.8C452.8 121.8 453 125.3 453 128.5Z" fill="none" stroke="#6e6e6e" stroke-width="0.8" opacity="0.7"/>
<defs><path id="rg42" d="M466.1 170C466.1 172.2 465.7 174.8 465 176.7C464.3 178.6 463.2 180.2 462.1 181.4C461 182.6 459.7 183.3 458.4 183.8C457.2 184.3 455.8 184.7 454.5 184.3C453.2 184 451.8 183.1 450.7 181.8C449.7 180.5 448.8 178.5 448.2 176.6C447.5 174.6 447 172.2 446.9 170C446.9 167.8 447.1 165 447.7 163.1C448.4 161.2 449.7 159.5 450.8 158.4C452 157.3 453.3 156.9 454.6 156.5C455.9 156.2 457.2 155.9 458.4 156.1C459.7 156.4 461.2 156.9 462.3 158.1C463.4 159.3 464.5 161.2 465.1 163.2C465.8 165.2 466.1 167.8 466.1 170Z"/></defs><use href="#rg42" fill="none" stroke="#dadada" stroke-width="8.4"/><use href="#rg42" fill="#c4c4c4" stroke="#4f4f4f" stroke-width="6"/><path d="M466.9 170C466.9 172.4 466.4 175 465.7 177C465 179 463.7 180.7 462.5 181.9C461.3 183.2 459.9 183.9 458.6 184.4C457.2 185 455.7 185.4 454.3 185C453 184.7 451.4 183.7 450.3 182.4C449.1 181 448.2 178.9 447.5 176.9C446.8 174.8 446.3 172.3 446.2 170C446.1 167.7 446.3 164.8 447 162.8C447.7 160.7 449.1 159 450.4 157.8C451.6 156.7 453.1 156.3 454.5 155.9C455.8 155.5 457.2 155.2 458.6 155.4C460 155.7 461.6 156.3 462.8 157.5C464 158.8 465.1 160.8 465.8 162.9C466.5 165 466.9 167.6 466.9 170Z" fill="none" stroke="#6e6e6e" stroke-width="0.8" opacity="0.7"/>
<defs><path id="rg43" d="M486 172C486.1 173.5 486 175.3 485.6 176.7C485.3 178.1 484.6 179.4 483.9 180.4C483.2 181.3 482.3 182.1 481.4 182.4C480.5 182.7 479.5 182.7 478.6 182.3C477.8 181.9 477 181 476.3 180C475.7 179 475.1 177.7 474.7 176.4C474.3 175 473.9 173.5 473.8 172C473.8 170.5 473.9 168.7 474.3 167.3C474.7 165.9 475.5 164.7 476.2 163.8C476.9 162.9 477.8 162.2 478.6 161.8C479.5 161.4 480.5 161.2 481.4 161.6C482.2 161.9 483.1 162.8 483.8 163.8C484.4 164.8 484.9 166.3 485.3 167.6C485.6 169 485.9 170.5 486 172Z"/></defs><use href="#rg43" fill="none" stroke="#dadada" stroke-width="7.4"/><use href="#rg43" fill="#c4c4c4" stroke="#4f4f4f" stroke-width="5"/><path d="M486.6 172C486.7 173.6 486.6 175.4 486.2 176.9C485.8 178.4 485 179.9 484.3 180.9C483.5 181.9 482.5 182.7 481.5 183C480.6 183.3 479.4 183.3 478.5 182.9C477.6 182.5 476.7 181.5 475.9 180.4C475.2 179.4 474.7 178 474.2 176.6C473.7 175.2 473.3 173.6 473.2 172C473.2 170.4 473.3 168.5 473.8 167C474.2 165.6 475 164.3 475.8 163.3C476.6 162.4 477.6 161.6 478.5 161.2C479.5 160.8 480.6 160.6 481.5 161C482.5 161.3 483.5 162.3 484.2 163.3C484.9 164.4 485.4 165.9 485.8 167.4C486.2 168.8 486.5 170.4 486.6 172Z" fill="none" stroke="#6e6e6e" stroke-width="0.8" opacity="0.7"/>
<defs><path id="rg44" d="M511.6 178C511.6 179.6 511.1 181.2 510.5 182.7C510 184.1 509.3 185.5 508.4 186.7C507.5 187.8 506.3 189.1 505.1 189.6C503.8 190.2 502.2 190.2 500.9 189.7C499.7 189.2 498.5 187.9 497.6 186.7C496.7 185.5 496.1 184 495.6 182.6C495.1 181.1 494.7 179.6 494.6 178C494.5 176.4 494.6 174.6 495.1 173.1C495.5 171.6 496.4 170 497.4 168.9C498.3 167.8 499.7 167 501 166.6C502.3 166.3 503.7 166.5 505 167C506.2 167.4 507.4 168.3 508.4 169.3C509.4 170.3 510.3 171.7 510.9 173.1C511.4 174.6 511.7 176.4 511.6 178Z"/></defs><use href="#rg44" fill="none" stroke="#dadada" stroke-width="7.9"/><use href="#rg44" fill="#c4c4c4" stroke="#4f4f4f" stroke-width="5.5"/><path d="M512.3 178C512.2 179.7 511.7 181.4 511.1 182.9C510.5 184.5 509.8 185.9 508.8 187.2C507.8 188.4 506.6 189.8 505.2 190.3C503.9 190.9 502.1 190.9 500.8 190.4C499.4 189.9 498.2 188.5 497.2 187.2C496.3 185.9 495.6 184.4 495.1 182.8C494.5 181.3 494.1 179.7 494 178C493.9 176.3 494 174.4 494.5 172.8C495 171.2 495.9 169.5 496.9 168.4C498 167.2 499.5 166.3 500.8 166C502.2 165.6 503.8 165.9 505.1 166.3C506.4 166.8 507.7 167.7 508.8 168.8C509.9 169.9 510.9 171.3 511.5 172.8C512 174.4 512.3 176.3 512.3 178Z" fill="none" stroke="#6e6e6e" stroke-width="0.8" opacity="0.7"/>
<defs><path id="rg45" d="M446.6 46.7C446.6 48.4 446.5 50.2 446.3 51.7C446 53.3 445.7 54.9 445.3 56.1C444.9 57.3 444.4 58.5 443.9 59C443.3 59.5 442.7 59.4 442.1 58.9C441.6 58.4 441.1 57.2 440.7 56C440.3 54.9 439.9 53.3 439.7 51.8C439.5 50.2 439.3 48.4 439.3 46.7C439.3 45 439.4 43.1 439.7 41.5C439.9 40 440.3 38.5 440.7 37.3C441.1 36.2 441.6 35.1 442.1 34.7C442.7 34.2 443.3 34.2 443.9 34.6C444.4 35 445 36 445.4 37.2C445.8 38.3 446.1 39.9 446.3 41.5C446.5 43.1 446.6 45 446.6 46.7Z"/></defs><use href="#rg45" fill="none" stroke="#dadada" stroke-width="6.9"/><use href="#rg45" fill="#c4c4c4" stroke="#4f4f4f" stroke-width="4.5"/><path d="M447.1 46.7C447.1 48.5 447 50.3 446.7 52C446.5 53.6 446.1 55.3 445.7 56.5C445.2 57.8 444.6 59.1 444 59.6C443.4 60 442.6 60 442 59.5C441.4 59 440.8 57.7 440.3 56.5C439.9 55.2 439.5 53.6 439.2 52C439 50.4 438.8 48.5 438.8 46.7C438.8 44.9 438.9 42.9 439.2 41.3C439.4 39.7 439.9 38.1 440.3 36.9C440.8 35.7 441.4 34.6 442 34.1C442.6 33.7 443.4 33.6 444 34C444.6 34.5 445.2 35.5 445.7 36.7C446.2 37.9 446.6 39.6 446.8 41.3C447.1 43 447.2 44.9 447.1 46.7Z" fill="none" stroke="#6e6e6e" stroke-width="0.8" opacity="0.7"/>
<defs><path id="rg46" d="M455.2 24C455.2 24.8 455 25.6 454.6 26.3C454.3 27 453.7 27.7 453 28.2C452.3 28.7 451.4 29.1 450.4 29.4C449.5 29.6 448.4 29.8 447.5 29.6C446.5 29.5 445.4 29.2 444.6 28.6C443.9 28.1 443.3 27.2 443.1 26.4C442.8 25.6 442.9 24.8 443 24C443.1 23.2 443.3 22.5 443.6 21.8C443.9 21.1 444.3 20.3 445 19.7C445.6 19.2 446.6 18.6 447.5 18.4C448.4 18.1 449.6 18.1 450.5 18.3C451.5 18.5 452.5 19 453.2 19.5C453.9 20.1 454.4 20.9 454.8 21.7C455.1 22.4 455.2 23.2 455.2 24Z"/></defs><use href="#rg46" fill="none" stroke="#dadada" stroke-width="7.4"/><use href="#rg46" fill="#c4c4c4" stroke="#4f4f4f" stroke-width="5"/><path d="M455.8 24C455.7 24.9 455.6 25.8 455.2 26.6C454.8 27.3 454.1 28.1 453.3 28.7C452.6 29.2 451.6 29.7 450.6 29.9C449.6 30.2 448.4 30.4 447.3 30.3C446.3 30.1 445 29.8 444.2 29.2C443.4 28.6 442.8 27.5 442.5 26.7C442.2 25.8 442.4 24.9 442.5 24C442.6 23.1 442.8 22.4 443.1 21.6C443.5 20.8 443.9 19.9 444.6 19.3C445.3 18.6 446.3 18 447.3 17.8C448.4 17.5 449.6 17.5 450.7 17.7C451.7 17.9 452.8 18.4 453.6 19.1C454.4 19.7 454.9 20.6 455.3 21.4C455.7 22.2 455.8 23.1 455.8 24Z" fill="none" stroke="#6e6e6e" stroke-width="0.8" opacity="0.7"/>
<defs><path id="rg47" d="M531.7 20C531.6 20.9 531.2 21.8 530.7 22.6C530.1 23.5 529.5 24.5 528.4 25.1C527.3 25.8 525.7 26.4 524.2 26.6C522.7 26.9 520.9 26.8 519.4 26.5C517.9 26.3 516.3 25.8 515.2 25.1C514 24.5 513 23.6 512.5 22.8C511.9 21.9 511.6 20.9 511.7 20C511.7 19.1 511.9 18.1 512.5 17.2C513.1 16.4 514.1 15.5 515.2 14.9C516.4 14.3 518 13.9 519.5 13.6C520.9 13.4 522.6 13.4 524.2 13.6C525.7 13.7 527.5 14.1 528.7 14.7C529.9 15.3 530.9 16.2 531.4 17.1C531.9 18 531.8 19.1 531.7 20Z"/></defs><use href="#rg47" fill="none" stroke="#dadada" stroke-width="7.4"/><use href="#rg47" fill="#c4c4c4" stroke="#4f4f4f" stroke-width="5"/><path d="M532.2 20C532.1 21 531.8 22 531.2 22.9C530.6 23.8 529.9 24.9 528.8 25.6C527.7 26.3 526 27 524.4 27.2C522.8 27.5 520.9 27.4 519.3 27.1C517.7 26.9 516 26.3 514.8 25.6C513.6 24.9 512.5 24 511.9 23C511.3 22.1 511.1 21 511.1 20C511.1 19 511.4 17.9 512 17C512.6 16.1 513.6 15.1 514.9 14.4C516.1 13.8 517.7 13.3 519.3 13.1C520.9 12.8 522.7 12.8 524.3 13C525.9 13.1 527.8 13.5 529.1 14.2C530.3 14.8 531.4 15.9 532 16.9C532.5 17.8 532.4 19 532.2 20Z" fill="none" stroke="#6e6e6e" stroke-width="0.8" opacity="0.7"/>
<defs><path id="rg48" d="M558.3 18C558.1 18.8 557.3 19.6 556.6 20.2C556 20.9 555.3 21.6 554.4 22.1C553.4 22.6 552.2 23.2 551 23.4C549.8 23.6 548.3 23.5 547 23.3C545.8 23.1 544.5 22.7 543.4 22.3C542.4 21.8 541.2 21.2 540.5 20.5C539.9 19.8 539.5 18.8 539.6 18C539.6 17.2 540.2 16.3 540.9 15.6C541.6 14.9 542.6 14.3 543.6 13.9C544.6 13.4 545.9 13.1 547.1 12.9C548.3 12.7 549.6 12.7 550.9 12.9C552.2 13 553.6 13.1 554.8 13.6C555.9 14 557.3 14.7 557.8 15.4C558.4 16.1 558.5 17.2 558.3 18Z"/></defs><use href="#rg48" fill="none" stroke="#dadada" stroke-width="7.4"/><use href="#rg48" fill="#c4c4c4" stroke="#4f4f4f" stroke-width="5"/><path d="M558.9 18C558.7 18.9 557.8 19.7 557.2 20.5C556.5 21.3 555.7 22 554.7 22.6C553.7 23.1 552.4 23.7 551.1 24C549.8 24.2 548.2 24.1 546.9 23.9C545.5 23.7 544.2 23.2 543.1 22.7C541.9 22.2 540.7 21.5 540 20.8C539.3 20 538.9 18.9 538.9 18C539 17.1 539.6 16.1 540.4 15.4C541.1 14.6 542.1 13.9 543.2 13.4C544.3 12.9 545.7 12.5 547 12.3C548.3 12.2 549.7 12.2 551.1 12.3C552.4 12.4 553.9 12.6 555.2 13.1C556.4 13.6 557.8 14.3 558.4 15.1C559.1 15.9 559.1 17.1 558.9 18Z" fill="none" stroke="#6e6e6e" stroke-width="0.8" opacity="0.7"/>
<defs><path id="rg49" d="M567.7 168C567.7 169.4 567.5 170.9 567.1 172.2C566.7 173.4 566.2 174.6 565.5 175.5C564.9 176.4 564.1 177.3 563.3 177.7C562.5 178 561.5 178 560.7 177.7C559.9 177.4 559 176.6 558.4 175.7C557.7 174.8 557.1 173.6 556.8 172.3C556.4 171 556.2 169.4 556.3 168C556.3 166.6 556.7 165.2 557 164C557.4 162.7 557.9 161.5 558.5 160.6C559.1 159.6 559.9 158.6 560.7 158.1C561.5 157.7 562.5 157.7 563.3 158.1C564.1 158.5 564.9 159.5 565.6 160.4C566.2 161.4 566.7 162.6 567.1 163.8C567.5 165.1 567.7 166.6 567.7 168Z"/></defs><use href="#rg49" fill="none" stroke="#dadada" stroke-width="6.9"/><use href="#rg49" fill="#c4c4c4" stroke="#4f4f4f" stroke-width="4.5"/><path d="M568.3 168C568.2 169.5 568 171.1 567.6 172.4C567.2 173.7 566.6 175 565.9 175.9C565.2 176.9 564.3 177.8 563.4 178.2C562.5 178.6 561.5 178.6 560.6 178.2C559.7 177.9 558.8 177.1 558 176.1C557.3 175.2 556.7 173.9 556.3 172.5C555.9 171.2 555.7 169.5 555.7 168C555.8 166.5 556.2 165 556.6 163.7C557 162.4 557.5 161.2 558.2 160.2C558.8 159.1 559.7 158 560.5 157.6C561.4 157.2 562.6 157.2 563.5 157.6C564.3 158 565.2 159 565.9 160C566.6 161 567.2 162.3 567.6 163.6C568 164.9 568.3 166.5 568.3 168Z" fill="none" stroke="#6e6e6e" stroke-width="0.8" opacity="0.7"/>
<defs><path id="rg50" d="M465.4 46C465.4 46.2 465.2 46.5 465 46.6C464.9 46.8 464.6 47 464.4 47.2C464.1 47.3 463.9 47.5 463.5 47.6C463.2 47.7 462.8 47.7 462.4 47.6C462.1 47.6 461.7 47.4 461.5 47.3C461.2 47.1 461 46.9 460.8 46.7C460.7 46.5 460.6 46.2 460.6 46C460.6 45.8 460.7 45.5 460.9 45.3C461 45.1 461.3 44.9 461.6 44.8C461.8 44.7 462.2 44.5 462.5 44.5C462.8 44.4 463.2 44.4 463.5 44.4C463.9 44.5 464.3 44.6 464.6 44.7C464.9 44.8 465.1 45.1 465.3 45.3C465.4 45.5 465.5 45.8 465.4 46Z"/></defs><use href="#rg50" fill="none" stroke="#d0d0d0" stroke-width="2.8"/><use href="#rg50" fill="#c8c8c8" stroke="#5a5a5a" stroke-width="1.6"/>
<defs><path id="rg51" d="M476.2 43.1C476.2 43.7 476.2 44.4 476 44.9C475.8 45.5 475.5 46.1 475.1 46.4C474.7 46.8 474.2 47.1 473.7 47.2C473.3 47.4 472.7 47.4 472.3 47.3C471.8 47.2 471.2 46.9 470.9 46.5C470.5 46.1 470.2 45.5 470.1 44.9C469.9 44.3 469.9 43.7 469.9 43.1C469.9 42.5 469.9 41.9 470.1 41.3C470.3 40.8 470.6 40.2 470.9 39.8C471.3 39.4 471.8 39 472.2 38.9C472.7 38.7 473.3 38.7 473.8 38.9C474.2 39 474.7 39.4 475.1 39.8C475.4 40.2 475.7 40.8 475.9 41.3C476.1 41.9 476.2 42.5 476.2 43.1Z"/></defs><use href="#rg51" fill="none" stroke="#d0d0d0" stroke-width="3.2"/><use href="#rg51" fill="#c8c8c8" stroke="#5a5a5a" stroke-width="2"/>
<defs><path id="rg52" d="M495.1 26.6C495.1 27.1 495 27.7 494.8 28.1C494.7 28.6 494.4 29.1 494.1 29.4C493.8 29.6 493.3 29.8 493 29.8C492.6 29.9 492.2 29.8 491.9 29.7C491.5 29.6 491.1 29.6 490.7 29.3C490.4 29.1 490 28.7 489.8 28.2C489.6 27.8 489.5 27.1 489.5 26.6C489.5 26.1 489.7 25.5 489.9 25C490.1 24.6 490.5 24.2 490.8 24C491.1 23.7 491.5 23.6 491.9 23.5C492.2 23.4 492.6 23.3 493 23.4C493.4 23.4 493.8 23.5 494.2 23.7C494.5 24 494.8 24.5 495 25C495.2 25.5 495.2 26.1 495.1 26.6Z"/></defs><use href="#rg52" fill="none" stroke="#d0d0d0" stroke-width="3.0"/><use href="#rg52" fill="#c8c8c8" stroke="#5a5a5a" stroke-width="1.8"/>
<defs><path id="rg53" d="M482.5 56.7C482.5 57.3 482.5 57.9 482.5 58.4C482.4 58.9 482.2 59.5 482 59.8C481.8 60 481.5 60.1 481.2 60.1C481 60.2 480.8 60.1 480.6 60C480.4 59.9 480.1 59.8 479.9 59.5C479.7 59.3 479.5 58.8 479.4 58.3C479.3 57.9 479.3 57.3 479.3 56.7C479.3 56.1 479.3 55.5 479.4 55C479.5 54.5 479.7 54 479.9 53.7C480.1 53.4 480.3 53.3 480.6 53.2C480.8 53.1 481 53.1 481.2 53.2C481.5 53.4 481.7 53.6 481.9 53.9C482.1 54.2 482.2 54.7 482.3 55.1C482.4 55.6 482.5 56.1 482.5 56.7Z"/></defs><use href="#rg53" fill="none" stroke="#d0d0d0" stroke-width="2.6"/><use href="#rg53" fill="#c8c8c8" stroke="#5a5a5a" stroke-width="1.4"/>
<rect x="506" y="85" width="2.5" height="3" fill="#222"/>
<path d="M442.5 21 H458 C459 26 458 31 455 34 C451 36 446 35 442.5 34 Z" fill="#2e2e2e"/>
<circle cx="507" cy="21.5" r="2" fill="#eee"/>
</g>
<text x="444.6" y="32.2" font-size="13.2" fill="#fff" textLength="9" lengthAdjust="spacingAndGlyphs">E</text>
<g clip-path="url(#cF)">
<rect x="320" y="189.5" width="118" height="159" fill="#b6b6b6"/>
<rect x="320" y="189.5" width="118" height="159" fill="#000" filter="url(#tex)" opacity="0.2"/>
<path d="M348.7 290C348.8 295.5 349.5 301.1 349 306.9C348.6 312.6 347.7 320.1 346 324.4C344.3 328.7 341.3 331.7 338.9 332.6C336.5 333.5 333.6 332 331.4 329.9C329.1 327.7 327 324 325.4 320C323.8 316.1 322.6 311.1 321.6 306.1C320.6 301.1 319.8 295.6 319.6 290C319.3 284.4 319.4 277.6 320.3 272.3C321.2 267 323.1 262 324.9 258.4C326.8 254.8 329.1 252.5 331.4 250.8C333.7 249.1 336.4 247.2 338.8 248.2C341.2 249.1 344.1 252.2 345.7 256.5C347.3 260.8 347.9 268.3 348.4 273.9C348.9 279.5 348.5 284.5 348.7 290Z" fill="#adadad" stroke="none" stroke-width="0"/>
<path d="M416.5 230C416.6 232.6 415.8 235.3 414.6 237.7C413.4 240.2 411.7 242.8 409.3 244.7C406.9 246.5 403.5 248.3 400.3 248.9C397 249.5 393 249.2 389.9 248.3C386.8 247.4 383.9 245.4 381.8 243.5C379.7 241.6 378.5 239.2 377.3 237C376.1 234.7 375.2 232.5 374.7 230C374.2 227.5 373.5 224.5 374.3 221.8C375.1 219.2 377 215.9 379.6 214.2C382.2 212.5 386.5 211.6 389.8 211.5C393.2 211.3 396.6 212.4 399.7 213.3C402.7 214.2 405.5 215.2 407.9 216.8C410.4 218.3 412.9 220.2 414.4 222.4C415.8 224.6 416.5 227.4 416.5 230Z" fill="#b0b0b0" stroke="#a4a4a4" stroke-width="0.7"/>
<path d="M429.1 240C429.4 242.3 429.1 245.1 428.3 247.3C427.5 249.5 425.9 251.8 424.2 253.2C422.5 254.6 420.2 255.4 418.2 255.8C416.1 256.1 413.9 255.8 412 255.2C410 254.6 408 253.7 406.4 252.3C404.8 250.9 403.3 248.9 402.5 246.9C401.7 244.8 401.6 242.3 401.7 240C401.7 237.7 402.1 235.5 402.8 233.3C403.5 231.1 404.2 228.4 405.7 226.6C407.1 224.9 409.5 223.1 411.6 222.8C413.6 222.4 416.2 223.4 418.1 224.4C420 225.4 421.4 227.2 422.9 228.7C424.3 230.2 425.7 231.7 426.7 233.5C427.8 235.4 428.8 237.7 429.1 240Z" fill="#b1b1b1" stroke="#a4a4a4" stroke-width="0.7"/>
<path d="M377.3 285C377.5 286.4 376.9 288.1 376.2 289.5C375.4 290.8 374.1 292.1 372.7 293C371.2 293.9 369.4 294.5 367.7 294.8C366 295.1 364 295 362.4 294.7C360.7 294.3 358.9 293.7 357.5 292.8C356.2 291.9 355 290.6 354.4 289.3C353.7 288 353.7 286.4 353.7 285C353.7 283.6 353.9 282.2 354.4 280.7C354.9 279.3 355.6 277.6 356.9 276.5C358.2 275.5 360.3 274.6 362.1 274.4C363.9 274.3 366 275 367.6 275.6C369.2 276.2 370.5 277 371.8 277.9C373.1 278.8 374.6 279.6 375.5 280.8C376.4 282 377.2 283.6 377.3 285Z" fill="#aaaaaa" stroke="#a0a0a0" stroke-width="0.7"/>
<path d="M340.6 320C340.5 321.9 339.2 323.9 338.3 325.3C337.3 326.7 336.1 327.4 335 328.4C333.9 329.3 333 330.4 331.9 330.9C330.7 331.4 329.3 331.7 328.1 331.3C326.9 331 325.7 329.9 324.7 328.9C323.6 327.9 322.5 326.8 321.7 325.4C320.9 323.9 319.9 321.8 319.8 320C319.8 318.2 320.4 315.9 321.2 314.3C322 312.8 323.4 311.7 324.5 310.9C325.7 310 327 309.6 328.2 309.4C329.4 309.3 330.6 309.5 331.7 309.8C332.9 310.1 334 310.5 335.3 311.2C336.5 311.9 338.2 312.7 339.1 314.2C340 315.6 340.8 318.1 340.6 320Z" fill="#a6a6a6" stroke="none" stroke-width="0"/>
<defs><path id="rg54" d="M364.1 209C363.8 210.1 363.3 211 362.8 211.9C362.3 212.8 361.9 213.9 361.1 214.4C360.4 215 359.2 215.2 358.2 215.3C357.3 215.4 356.5 215.1 355.4 215.1C354.4 215 353.1 215.5 351.9 215.1C350.8 214.8 349.2 214 348.6 213C348 211.9 348.1 210.2 348.5 209C348.8 207.8 349.8 206.8 350.5 206C351.3 205.2 352.2 204.7 353 204.2C353.8 203.8 354.6 203.7 355.5 203.4C356.4 203.1 357.2 202.6 358.3 202.4C359.4 202.2 361.2 201.7 362.3 202.1C363.4 202.6 364.6 204 364.9 205.1C365.2 206.2 364.5 207.9 364.1 209Z"/></defs><use href="#rg54" fill="none" stroke="#c4c4c4" stroke-width="3.6"/><use href="#rg54" fill="#bebebe" stroke="#5c5c5c" stroke-width="2.6"/>
<defs><path id="rg55" d="M413.9 206.9C413.8 207.9 413.3 209.4 412.6 210.1C411.9 210.8 410.5 210.9 409.5 211C408.5 211.1 407.7 210.7 406.8 210.5C406 210.4 405.1 210.5 404.3 210.1C403.5 209.7 402.7 209.1 402.2 208.4C401.7 207.6 401.5 206.5 401.4 205.5C401.3 204.5 401.2 203.3 401.5 202.3C401.8 201.3 402.4 200.1 403.1 199.5C403.9 198.9 405.1 198.7 406 198.5C406.9 198.3 407.7 198.2 408.6 198.3C409.5 198.3 410.6 198.3 411.3 198.7C412.1 199.2 412.7 200.1 413 200.9C413.4 201.8 413.4 202.8 413.5 203.8C413.7 204.7 414.1 205.8 413.9 206.9Z"/></defs><use href="#rg55" fill="none" stroke="#c4c4c4" stroke-width="4.4"/><use href="#rg55" fill="#bebebe" stroke="#5c5c5c" stroke-width="3.4"/>
<defs><path id="rg56" d="M343.1 191C343.2 191.5 343.3 192 343.2 192.5C343.1 193.1 343 193.8 342.5 194.3C342 194.8 341.1 195.5 340.3 195.7C339.4 195.8 338.2 195.5 337.5 195.2C336.7 194.8 336.4 194 335.9 193.6C335.5 193.1 335.1 192.8 334.8 192.4C334.5 191.9 333.9 191.5 333.8 191C333.8 190.5 334 189.9 334.3 189.5C334.6 189 335 188.5 335.5 188C336 187.6 336.6 186.8 337.4 186.6C338.2 186.3 339.5 186.2 340.2 186.5C341 186.7 341.6 187.6 342 188.1C342.4 188.6 342.4 189.2 342.6 189.7C342.8 190.2 343 190.5 343.1 191Z"/></defs><use href="#rg56" fill="none" stroke="#c4c4c4" stroke-width="3.4"/><use href="#rg56" fill="#bebebe" stroke="#5c5c5c" stroke-width="2.4"/>
<defs><path id="rg57" d="M389.5 252C389.4 252.6 389.3 253.2 389.1 253.8C389 254.5 388.9 255.4 388.4 255.9C387.9 256.5 386.8 256.9 386 256.9C385.2 257 384.3 256.5 383.6 256.2C382.8 255.9 382.2 255.7 381.6 255.3C381 254.9 380.2 254.5 379.9 254C379.5 253.4 379.6 252.6 379.6 252C379.7 251.4 380 250.8 380.2 250.2C380.5 249.5 380.7 248.8 381.2 248.3C381.7 247.8 382.6 247.3 383.4 247.2C384.2 247.1 385.1 247.4 385.9 247.6C386.6 247.8 387.4 248.1 388 248.5C388.6 248.9 389.2 249.5 389.4 250.1C389.7 250.6 389.5 251.4 389.5 252Z"/></defs><use href="#rg57" fill="none" stroke="#c4c4c4" stroke-width="3.4"/><use href="#rg57" fill="#bebebe" stroke="#5c5c5c" stroke-width="2.4"/>
<defs><path id="rg58" d="M406.2 265.6C406.1 266.4 405.4 267.2 404.9 267.8C404.3 268.3 403.5 268.6 402.8 269C402.2 269.3 401.6 269.5 400.9 269.8C400.2 270.1 399.4 270.7 398.4 270.8C397.5 270.9 396.1 271 395.3 270.5C394.5 270.1 393.9 269 393.7 268.2C393.5 267.4 394 266.4 394.2 265.6C394.5 264.8 394.8 264.3 395.1 263.6C395.5 263 395.8 262.3 396.4 261.8C396.9 261.3 397.8 260.9 398.5 260.7C399.3 260.5 400.2 260.5 401.1 260.6C402 260.7 402.9 260.9 403.7 261.3C404.5 261.7 405.4 262.3 405.8 263C406.2 263.8 406.4 264.8 406.2 265.6Z"/></defs><use href="#rg58" fill="none" stroke="#c4c4c4" stroke-width="3.6"/><use href="#rg58" fill="#bebebe" stroke="#5c5c5c" stroke-width="2.6"/>
<defs><path id="rg59" d="M438.3 264.3C438.4 265.8 438.1 267.9 437.4 269C436.8 270.2 435.3 270.6 434.4 271.1C433.4 271.6 432.7 271.6 431.8 272.1C431 272.5 430 273.7 429.1 273.7C428.2 273.7 426.9 273.1 426.2 272.2C425.6 271.3 425.4 269.5 425 268.2C424.7 266.8 424.4 265.7 424.2 264.3C424 262.9 423.5 261 423.9 259.6C424.2 258.3 425.2 256.8 426.1 256.2C427 255.5 428.3 255.6 429.2 255.6C430.2 255.6 431 255.9 431.9 256.2C432.7 256.5 433.5 256.9 434.3 257.6C435.1 258.3 435.9 259 436.6 260.2C437.2 261.3 438.1 262.8 438.3 264.3Z"/></defs><use href="#rg59" fill="none" stroke="#c4c4c4" stroke-width="3.6"/><use href="#rg59" fill="#bebebe" stroke="#5c5c5c" stroke-width="2.6"/>
<defs><path id="rg60" d="M361.7 302.3C361.8 303.5 361.9 304.8 361.6 306C361.3 307.3 360.8 308.9 359.8 309.7C358.9 310.6 357.3 311.1 356 311.3C354.6 311.4 353.2 311 352 310.6C350.8 310.3 349.4 309.9 348.5 309.1C347.5 308.3 346.6 307.1 346.3 306C345.9 304.8 346.3 303.5 346.4 302.3C346.5 301.1 346.6 300.2 346.9 298.9C347.2 297.7 347.2 296 348 294.9C348.8 293.9 350.4 292.8 351.7 292.5C353 292.3 354.7 293 355.9 293.5C357.1 294.1 358.1 295.1 358.9 296C359.8 296.9 360.5 297.9 360.9 298.9C361.4 300 361.6 301.1 361.7 302.3Z"/></defs><use href="#rg60" fill="none" stroke="#c4c4c4" stroke-width="3.8"/><use href="#rg60" fill="#bebebe" stroke="#5c5c5c" stroke-width="2.8"/>
<defs><path id="rg61" d="M410 298.6C410 299.3 410.2 299.9 410 300.7C409.7 301.4 409.5 302.3 408.7 302.9C408 303.6 406.7 304.3 405.5 304.6C404.3 304.8 402.5 304.8 401.4 304.4C400.2 304 399.3 303.1 398.7 302.4C398.1 301.8 398.1 301 397.7 300.4C397.3 299.7 396.5 299.3 396.2 298.6C395.8 297.9 395.3 296.9 395.6 296.2C395.9 295.4 397.1 294.7 398.1 294.3C399.1 293.8 400.4 293.7 401.6 293.5C402.8 293.3 404.1 293.1 405.3 293.2C406.5 293.3 408 293.7 408.8 294.2C409.6 294.8 409.9 295.8 410.1 296.5C410.3 297.2 410.1 297.9 410 298.6Z"/></defs><use href="#rg61" fill="none" stroke="#c4c4c4" stroke-width="3.6"/><use href="#rg61" fill="#bebebe" stroke="#5c5c5c" stroke-width="2.6"/>
<defs><path id="rg62" d="M438.2 297.2C437.7 298.2 436.2 299 435.3 299.6C434.4 300.3 433.6 300.4 432.8 300.9C432.1 301.5 431.8 302.6 430.8 303.1C429.9 303.7 428.4 304.4 427.2 304.4C426 304.3 424.7 303.5 423.8 302.8C422.8 302.1 422.2 301.2 421.6 300.2C421 299.3 420.3 298.2 420.3 297.2C420.3 296.2 420.9 294.9 421.7 294.2C422.5 293.5 424.1 293.3 425.1 292.9C426.1 292.6 426.8 292.5 427.8 292.2C428.8 291.9 429.7 291.2 430.9 291.1C432.1 290.9 433.8 290.8 435 291.2C436.2 291.6 437.7 292.6 438.2 293.6C438.8 294.6 438.7 296.2 438.2 297.2Z"/></defs><use href="#rg62" fill="none" stroke="#c4c4c4" stroke-width="3.6"/><use href="#rg62" fill="#bebebe" stroke="#5c5c5c" stroke-width="2.6"/>
<defs><path id="rg63" d="M361.5 328.1C361.3 328.9 361.2 329.6 360.9 330.3C360.5 331 360.1 331.9 359.3 332.5C358.6 333.1 357.5 333.6 356.4 333.9C355.3 334.2 353.9 334.2 352.8 334C351.6 333.9 350.4 333.4 349.5 332.8C348.5 332.3 347.6 331.6 347.1 330.8C346.5 330 346.1 328.9 346.2 328.1C346.4 327.3 347.2 326.3 347.9 325.7C348.6 325.1 349.8 324.9 350.6 324.5C351.5 324 352 323.5 353 323C354 322.6 355.4 321.7 356.6 321.6C357.9 321.5 359.7 321.9 360.6 322.6C361.5 323.2 361.8 324.6 362 325.5C362.1 326.4 361.7 327.3 361.5 328.1Z"/></defs><use href="#rg63" fill="none" stroke="#c4c4c4" stroke-width="3.8"/><use href="#rg63" fill="#bebebe" stroke="#5c5c5c" stroke-width="2.8"/>
<defs><path id="rg64" d="M439.8 315C439.8 315.7 439.8 316.5 439.7 317.2C439.5 317.9 439.2 318.5 438.8 319C438.5 319.4 438.1 319.9 437.7 320C437.3 320.2 436.7 320.2 436.3 320C435.9 319.7 435.6 319.2 435.3 318.6C435 318.1 434.9 317.4 434.8 316.8C434.6 316.2 434.6 315.6 434.5 315C434.5 314.4 434.5 313.7 434.5 313C434.6 312.3 434.8 311.4 435 310.8C435.3 310.2 435.8 309.6 436.3 309.5C436.7 309.4 437.3 309.7 437.6 310.1C438 310.5 438.2 311.3 438.5 311.8C438.7 312.3 438.9 312.7 439.1 313.2C439.4 313.8 439.7 314.3 439.8 315Z"/></defs><use href="#rg64" fill="none" stroke="#c4c4c4" stroke-width="3.4"/><use href="#rg64" fill="#bebebe" stroke="#5c5c5c" stroke-width="2.4"/>
<path d="M386.4 202.5C386.5 203.6 386.6 204.9 386.2 206C385.9 207.1 385 208.4 384.1 209.1C383.1 209.9 381.6 210.5 380.3 210.7C379 210.8 377.6 210.5 376.4 210.1C375.2 209.7 374.3 208.9 373.4 208.2C372.5 207.4 371.7 206.7 371 205.7C370.4 204.8 369.6 203.6 369.4 202.5C369.3 201.4 369.5 199.9 370.1 198.9C370.7 197.9 371.9 197 372.9 196.3C374 195.7 375.2 195.1 376.4 194.8C377.6 194.5 379.1 194.3 380.3 194.5C381.5 194.8 382.8 195.5 383.7 196.3C384.6 197.1 385.1 198.3 385.5 199.3C386 200.3 386.3 201.4 386.4 202.5Z" fill="#6c6c6c" stroke="#4e4e4e" stroke-width="1.2"/>
<ellipse cx="379" cy="203.5" rx="3.5" ry="3" fill="#8e8e8e"/>
<path d="M357.3 232C357.3 234.3 356.5 236.9 355.2 238.9C354 241 352 242.9 349.9 244.2C347.8 245.5 345.1 246.4 342.7 246.8C340.2 247.2 337.5 247.1 335 246.7C332.5 246.2 329.8 245.6 327.5 244.4C325.3 243.2 322.6 241.5 321.3 239.4C320 237.3 319.5 234.3 319.8 232C320.1 229.7 321.8 227.4 323.3 225.4C324.7 223.5 326.4 221.9 328.3 220.4C330.2 219 332.4 217.3 334.8 216.7C337.2 216 340.3 215.8 342.9 216.3C345.4 216.8 348 218.2 350 219.6C352.1 221.1 354 223 355.2 225.1C356.4 227.1 357.3 229.7 357.3 232Z" fill="#474747"/><path d="M352.7 232C352.7 233.7 352.2 235.6 351.2 237C350.2 238.4 348.3 239.4 346.7 240.3C345.1 241.1 343.4 241.6 341.6 242.1C339.7 242.7 337.7 243.4 335.7 243.3C333.7 243.2 331.2 242.6 329.7 241.6C328.1 240.5 327 238.6 326.3 237C325.6 235.4 325.5 233.6 325.6 232C325.7 230.4 326.1 228.6 326.9 227.2C327.8 225.8 329.2 224.5 330.7 223.5C332.2 222.5 334 221.7 335.9 221.2C337.7 220.7 340 220.4 341.9 220.7C343.8 221 345.9 221.9 347.4 223C348.9 224 350.1 225.6 351 227.1C351.9 228.6 352.7 230.3 352.7 232Z" fill="#b8b8b8"/><path d="M350.1 232.5C350.2 233.8 349.8 235.1 349.2 236.3C348.6 237.6 347.7 238.8 346.6 239.8C345.4 240.8 343.8 242.1 342.1 242.5C340.5 242.9 338.1 242.7 336.6 242.2C335 241.6 333.9 240 332.9 239C331.9 237.9 331.5 236.9 330.7 235.8C329.9 234.8 328.7 233.8 328.3 232.5C327.9 231.2 327.7 229.5 328.3 228.2C328.9 227 330.4 225.8 331.8 225C333.2 224.2 335 223.6 336.7 223.3C338.4 223.1 340.3 223.1 341.9 223.5C343.4 223.8 345 224.7 346.1 225.6C347.3 226.5 348.2 227.6 348.9 228.8C349.5 229.9 350.1 231.2 350.1 232.5Z" fill="#626262"/>
<path d="M331 238 q6 -6 14 -2" stroke="#e6e6e6" stroke-width="1.1" fill="none"/><path d="M333 225 q5 -2 10 1" stroke="#dcdcdc" stroke-width="1" fill="none"/><circle cx="352" cy="242" r="1.3" fill="#eee"/>
<path d="M422.3 331C422.1 333.4 420.9 336.3 418.9 338.1C416.8 339.9 412.8 340.9 409.9 341.9C407 343 404.7 343.5 401.6 344.5C398.4 345.6 395 347.9 391.2 348.2C387.4 348.6 381.7 348.1 378.7 346.5C375.8 344.9 374.2 341.3 373.3 338.7C372.5 336.1 373.1 333.4 373.7 331C374.2 328.6 374.9 326.3 376.5 324.3C378.1 322.4 380.8 320.8 383.3 319.4C385.9 318.1 388.7 317 392 316.1C395.2 315.2 399.1 313.9 402.8 314C406.4 314 411 315.1 413.9 316.7C416.8 318.3 418.7 321.1 420.1 323.5C421.5 325.9 422.5 328.6 422.3 331Z" fill="#3a3a3a"/><path d="M419.2 331C419.1 332.8 417.9 335.1 416 336.4C414.2 337.8 410.6 338.5 408 339.2C405.4 339.8 403 339.8 400.5 340.2C398 340.6 395.6 341.5 393 341.5C390.3 341.5 386.9 341.1 384.6 340.2C382.3 339.3 380.7 337.6 379.2 336.1C377.6 334.6 375.6 332.8 375.1 331C374.6 329.2 374.5 326.5 376.2 325.1C377.9 323.6 382.3 322.7 385.3 322.3C388.2 321.9 391.2 322.7 393.8 322.6C396.3 322.5 398 321.7 400.6 321.6C403.3 321.4 407 320.9 409.7 321.5C412.4 322.2 415.2 323.8 416.7 325.4C418.3 326.9 419.3 329.2 419.2 331Z" fill="#767676"/><path d="M413.8 331.5C414.3 332.8 414.9 334.5 414.1 335.8C413.2 337.1 411 338.4 409 339.3C406.9 340.1 404.1 340.8 401.5 341C399 341.3 395.9 341.3 393.6 340.8C391.3 340.3 389.4 339 387.8 338.1C386.2 337.1 385.3 336.1 383.9 335C382.6 333.9 380.3 332.8 379.7 331.5C379.1 330.2 379.2 328.2 380.3 327C381.5 325.8 384.5 325 386.8 324.2C389 323.5 391.3 323 393.7 322.6C396.2 322.2 399.2 321.6 401.6 321.9C404 322.1 406.6 323.3 408.1 324.3C409.7 325.3 410.1 326.8 411.1 328C412 329.2 413.3 330.2 413.8 331.5Z" fill="#4a4a4a"/>
<g fill="none" stroke="#2a2a2a" stroke-width="1.5"><path d="M380 325 C386 330 392 334 398 340"/><path d="M392 320 C396 326 400 331 408 336"/><path d="M404 327 C409 330 413 334 416 340"/></g>
<path d="M401 319 q4 -3 8 1" stroke="#f4f4f4" stroke-width="2" fill="none"/><path d="M378 333 q3 -3 6 0" stroke="#e0e0e0" stroke-width="1" fill="none"/><path d="M393 343 q5 1 9 -1" stroke="#e4e4e4" stroke-width="1" fill="none"/>
<ellipse cx="373" cy="284" rx="4.5" ry="2.4" fill="#4a4a4a"/><ellipse cx="388" cy="283" rx="5" ry="3" fill="#3c3c3c"/><path d="M385 285.5 q3 1 6 -1" stroke="#fafafa" stroke-width="1.3" fill="none"/>
<rect x="393" y="228" width="2" height="3" fill="#333"/><rect x="350" y="250" width="1.5" height="1.5" fill="#444"/>
</g>
<circle cx="327.6" cy="196.6" r="7" fill="#222"/>
<text x="323.5" y="201.3" font-size="12.5" fill="#fff">F</text>
<g clip-path="url(#cG)">
<rect x="442.5" y="189.5" width="119" height="159" fill="#bababa"/>
<rect x="442.5" y="189.5" width="119" height="159" fill="#000" filter="url(#tex)" opacity="0.2"/>
<path d="M493.4 205C493.6 207 493.7 209.2 492.5 211.1C491.3 212.9 488.8 214.9 486 216.2C483.2 217.5 479.3 218.3 475.6 218.8C472 219.3 467.9 219.5 464.3 219.1C460.6 218.7 456.4 217.8 453.6 216.5C450.9 215.1 449 212.9 447.9 211C446.8 209 447 207 447.1 205C447.2 203 447.4 201.1 448.6 199.2C449.7 197.4 451.4 195.2 454 193.8C456.6 192.3 460.5 191.1 464.1 190.5C467.7 190 472.3 190 475.9 190.6C479.5 191.2 483.2 192.5 485.8 193.9C488.3 195.4 490 197.4 491.2 199.3C492.5 201.1 493.2 203 493.4 205Z" fill="#c0c0c0" stroke="none" stroke-width="0"/>
<path d="M559.7 240C559.3 243.1 558.4 246.1 556.8 248.8C555.2 251.4 553 254.4 550.2 255.9C547.4 257.4 543.2 257.7 539.9 257.8C536.6 257.9 533.7 257 530.4 256.7C527.2 256.3 523.5 256.6 520.2 255.4C516.9 254.3 512.5 252.4 510.5 249.8C508.4 247.3 507.6 243.1 507.9 240C508.3 236.9 510.3 233.4 512.5 231C514.7 228.5 518 226.6 521 225.4C524 224.2 527.4 224 530.5 223.5C533.6 223 536.4 222.4 539.8 222.3C543.3 222.3 547.9 221.8 551.1 223.1C554.4 224.4 557.8 227.4 559.3 230.3C560.7 233.1 560.2 236.9 559.7 240Z" fill="#b2b2b2" stroke="#a6a6a6" stroke-width="0.7"/>
<path d="M498.9 261.4C499.2 263 499.5 265.1 498.9 266.7C498.3 268.2 496.8 269.9 495.3 270.6C493.8 271.3 491.7 271 490.2 270.9C488.6 270.9 487.4 270.6 485.9 270.4C484.5 270.2 482.8 270.2 481.5 269.6C480.2 268.9 478.7 267.6 478 266.2C477.2 264.9 476.9 263 476.9 261.4C476.8 259.8 477 257.9 477.7 256.5C478.4 255 479.7 253.5 481 252.6C482.3 251.8 484.2 251.6 485.7 251.4C487.3 251.2 488.8 251.4 490.2 251.7C491.7 252 493.2 252.5 494.4 253.4C495.6 254.2 496.5 255.6 497.3 256.9C498.1 258.3 498.7 259.8 498.9 261.4Z" fill="#a4a4a4" stroke="#909090" stroke-width="0.7"/>
<path d="M504.6 227C504.4 228.8 504 230.5 503.5 232C503.1 233.6 502.5 235.3 501.8 236.3C501 237.3 499.9 237.8 498.9 238C497.9 238.3 497 238 495.9 237.8C494.9 237.6 493.7 237.7 492.7 236.9C491.7 236.2 490.5 234.7 489.9 233.1C489.4 231.4 489.4 228.9 489.6 227C489.8 225.1 490.5 223.3 491.1 221.9C491.7 220.4 492.5 219.3 493.4 218.4C494.2 217.5 495.1 217.1 496 216.6C496.9 216.2 497.9 215.7 498.9 215.6C500 215.6 501.5 215.4 502.4 216.3C503.4 217.2 504.4 219.2 504.8 221C505.2 222.7 504.8 225.2 504.6 227Z" fill="#a2a2a2" stroke="#8c8c8c" stroke-width="0.7"/>
<path d="M527.9 317.3C528.1 319.1 528.1 321.5 527.4 323.1C526.7 324.7 525 326 523.7 326.8C522.4 327.7 520.9 327.9 519.6 328.3C518.2 328.6 516.7 329 515.4 328.8C514 328.5 512.4 327.9 511.2 326.9C510.1 325.8 509.1 324.2 508.4 322.6C507.8 321 507.1 319.1 507.1 317.3C507 315.5 507.3 313.3 508.1 311.8C508.8 310.2 510.2 309 511.4 308C512.6 307 514 306.3 515.4 305.9C516.8 305.5 518.4 305 519.7 305.4C521.1 305.7 522.6 306.8 523.6 307.9C524.7 309.1 525.4 310.7 526.1 312.2C526.8 313.8 527.7 315.5 527.9 317.3Z" fill="#a0a0a0" stroke="#8c8c8c" stroke-width="0.7"/>
<path d="M559.1 328.8C559.2 331.2 559.2 333.8 558.7 336.3C558.2 338.8 557.5 341.7 556.1 343.9C554.7 346 552.6 348.4 550.5 349.1C548.4 349.7 545.6 348.9 543.7 347.7C541.9 346.4 540.5 343.7 539.2 341.8C537.9 339.8 536.8 338 535.9 335.8C535.1 333.7 534 331.2 533.9 328.8C533.8 326.4 534.4 323.6 535.2 321.3C536 318.9 537.1 316.8 538.5 314.7C539.9 312.7 541.6 310.2 543.6 309.2C545.6 308.2 548.5 308 550.4 309C552.4 309.9 554.1 312.8 555.3 314.9C556.6 317.1 557.1 319.7 557.7 322C558.3 324.3 558.9 326.4 559.1 328.8Z" fill="#aaaaaa" stroke="#959595" stroke-width="0.7"/>
<path d="M560.1 290.7C560 292.1 559.8 293.5 559.4 294.9C559 296.3 558.6 298 557.7 299.1C556.8 300.1 555.3 301 554.1 301.2C552.8 301.3 551.3 300.7 550.1 300.2C548.9 299.7 547.8 299.1 546.8 298.2C545.8 297.4 544.7 296.3 544.2 295.1C543.7 293.8 543.6 292.1 543.6 290.7C543.7 289.3 544.1 287.9 544.5 286.5C545 285.2 545.5 283.6 546.4 282.6C547.4 281.6 548.7 280.7 550 280.4C551.2 280.2 552.7 280.6 553.9 281C555.1 281.4 556.4 282 557.3 282.9C558.3 283.8 559.3 285.1 559.7 286.4C560.2 287.7 560.1 289.3 560.1 290.7Z" fill="#a2a2a2" stroke="#8e8e8e" stroke-width="0.7"/>
<path d="M482.6 290C482.4 292.1 481.5 294.3 480.5 295.9C479.5 297.5 478.1 298.7 476.7 299.8C475.4 300.9 474 301.6 472.4 302.3C470.8 303 469.1 303.9 467.3 303.9C465.5 303.9 463.1 303.6 461.6 302.4C460 301.1 458.7 298.7 458.2 296.6C457.7 294.6 458.1 292 458.4 290C458.7 288 459.3 286.1 460 284.4C460.7 282.6 461.6 280.8 462.8 279.5C464 278.2 465.8 277.2 467.4 276.7C469 276.2 470.9 276.2 472.6 276.5C474.4 276.8 476.3 277.5 477.8 278.6C479.3 279.8 480.9 281.5 481.7 283.4C482.5 285.3 482.8 287.9 482.6 290Z" fill="#b0b0b0" stroke="#a0a0a0" stroke-width="0.7"/>
<path d="M468 287C468.2 289.9 467.5 293.6 466.2 296C464.9 298.3 462.2 299.8 460.2 301.1C458.1 302.4 456.2 303 454.1 303.7C452 304.5 449.7 305.9 447.5 305.7C445.3 305.5 442.6 304.2 441 302.4C439.3 300.6 438.5 297.5 437.6 294.9C436.7 292.4 436 289.8 435.7 287C435.5 284.2 435.1 280.7 435.9 278.1C436.8 275.5 438.8 272.8 440.8 271.3C442.7 269.8 445.4 269.4 447.7 269.2C449.9 268.9 452.1 269.2 454.2 269.9C456.3 270.5 458.3 271.5 460.1 273C461.9 274.5 463.7 276.4 465 278.7C466.3 281.1 467.8 284.1 468 287Z" fill="#d6d6d6" stroke="none" stroke-width="0"/>
<defs><path id="rg65" d="M476.1 213.3C475.9 213.9 475.9 214.4 475.6 214.9C475.3 215.4 475 216.2 474.3 216.6C473.6 217 472.3 217.3 471.2 217.5C470.1 217.7 468.8 217.7 467.6 217.6C466.4 217.5 465 217.3 464.1 216.9C463.1 216.5 462.3 215.8 461.8 215.2C461.4 214.7 461.2 213.9 461.3 213.3C461.5 212.7 461.9 212 462.5 211.5C463.1 211 464.2 210.7 465.1 210.4C466 210.1 466.8 210 467.9 209.7C468.9 209.5 470 208.9 471.3 208.8C472.6 208.7 474.6 208.7 475.6 209.1C476.6 209.6 477 210.6 477.1 211.3C477.2 212 476.4 212.7 476.1 213.3Z"/></defs><use href="#rg65" fill="none" stroke="#c8c8c8" stroke-width="3.9"/><use href="#rg65" fill="#c3c3c3" stroke="#555555" stroke-width="2.9"/>
<defs><path id="rg66" d="M515.6 228.3C515.6 229.4 515.5 230.5 515.2 231.5C515 232.5 514.6 233.5 514.1 234.4C513.6 235.2 512.9 236.2 512.2 236.6C511.5 236.9 510.5 237 509.8 236.6C509.1 236.2 508.4 235.2 507.9 234.4C507.4 233.5 507 232.5 506.7 231.5C506.4 230.5 506 229.4 505.9 228.3C505.9 227.2 506.2 225.9 506.5 225C506.9 224 507.5 223.3 508.1 222.6C508.6 221.9 509.2 221.1 509.9 220.7C510.6 220.2 511.5 219.6 512.3 219.7C513 219.9 513.9 220.8 514.4 221.7C514.9 222.5 515.2 223.9 515.4 225C515.6 226.1 515.6 227.2 515.6 228.3Z"/></defs><use href="#rg66" fill="none" stroke="#c8c8c8" stroke-width="3.9"/><use href="#rg66" fill="#c3c3c3" stroke="#555555" stroke-width="2.9"/>
<defs><path id="rg67" d="M507.2 288C507.1 290.2 507.6 292.2 507.4 294.6C507.1 297 506.9 300.7 505.8 302.4C504.6 304 501.9 304.8 500.2 304.6C498.4 304.5 496.6 302.5 495.2 301.5C493.7 300.5 492.5 299.7 491.3 298.6C490 297.4 488.6 296.2 487.6 294.5C486.7 292.7 486 290.3 485.7 288C485.5 285.7 485.4 282.7 486.1 280.5C486.8 278.3 488.3 276 489.8 275C491.3 273.9 493.4 274.3 495.1 274.1C496.7 274 498.1 274 499.7 274.1C501.4 274.3 503.6 273.9 504.9 275.1C506.3 276.2 507.4 279 507.8 281.1C508.1 283.3 507.2 285.8 507.2 288Z"/></defs><use href="#rg67" fill="none" stroke="#c8c8c8" stroke-width="4.4"/><use href="#rg67" fill="#c3c3c3" stroke="#555555" stroke-width="3.4"/>
<defs><path id="rg68" d="M542.6 275C542.9 276.6 542.5 278.9 541.4 280.2C540.3 281.4 537.8 282.2 536 282.6C534.3 283 532.5 282.5 531 282.5C529.5 282.6 528.4 283 526.9 283C525.4 283.1 523.3 283.4 521.9 282.8C520.4 282.2 518.9 280.8 518.1 279.6C517.3 278.3 517.1 276.5 517 275C517 273.5 517.1 271.7 517.8 270.3C518.5 268.9 519.9 267.4 521.4 266.7C522.9 266 525 265.9 526.6 266C528.2 266.1 529.7 266.7 531.1 267.1C532.5 267.5 533.6 267.9 535 268.5C536.4 269.1 538.1 269.6 539.3 270.7C540.6 271.8 542.2 273.4 542.6 275Z"/></defs><use href="#rg68" fill="none" stroke="#c8c8c8" stroke-width="4.4"/><use href="#rg68" fill="#c3c3c3" stroke="#555555" stroke-width="3.4"/>
<defs><path id="rg69" d="M485.9 324.5C485.8 326.8 484.7 329.5 483.5 331.2C482.3 332.9 480.2 333.9 478.7 334.8C477.1 335.7 475.6 336.3 474 336.8C472.4 337.3 470.8 337.8 469 337.7C467.3 337.6 465.3 337.3 463.5 336.3C461.8 335.3 459.5 333.9 458.4 331.9C457.2 330 456.2 326.8 456.5 324.5C456.8 322.2 458.7 319.6 460.1 318.1C461.6 316.5 463.7 316.1 465.2 315.1C466.7 314.2 467.7 313.1 469.2 312.2C470.7 311.4 472.6 310.1 474.4 310.1C476.2 310.1 478.4 311 480 312.3C481.6 313.5 483.1 315.4 484.1 317.5C485.1 319.5 486 322.2 485.9 324.5Z"/></defs><use href="#rg69" fill="none" stroke="#c8c8c8" stroke-width="4.4"/><use href="#rg69" fill="#c3c3c3" stroke="#555555" stroke-width="3.4"/>
<defs><path id="rg70" d="M509 328C508.6 329.4 507.6 330.2 507.1 331.2C506.7 332.2 506.6 332.9 506.2 334C505.9 335.2 505.6 337.3 505 338.2C504.4 339.1 503.3 339.6 502.5 339.4C501.7 339.2 500.8 338.1 500.2 337C499.6 335.9 499 334.3 498.8 332.8C498.6 331.3 498.8 329.4 499 328C499.3 326.6 499.8 325.7 500.2 324.5C500.5 323.3 500.6 322.2 501 321.1C501.4 320 502 318.5 502.7 318C503.3 317.4 504.2 317.6 505 317.8C505.7 318 506.6 318.4 507.3 319.3C508 320.1 509 321.3 509.3 322.7C509.6 324.2 509.4 326.6 509 328Z"/></defs><use href="#rg70" fill="none" stroke="#c8c8c8" stroke-width="3.9"/><use href="#rg70" fill="#c3c3c3" stroke="#555555" stroke-width="2.9"/>
<defs><path id="rg71" d="M490.5 338.8C490.6 339.5 490.2 340.4 489.9 341.1C489.6 341.8 489 342.3 488.5 342.9C487.9 343.5 487.2 344.2 486.5 344.5C485.7 344.7 484.7 344.6 483.9 344.3C483.2 344 482.7 343.1 482.2 342.6C481.7 342 481.4 341.4 481.1 340.8C480.8 340.2 480.3 339.5 480.3 338.8C480.2 338.1 480.3 337.3 480.6 336.6C480.8 335.9 481.2 335.1 481.8 334.5C482.3 333.9 483.1 333.1 483.9 332.9C484.6 332.8 485.7 333 486.4 333.4C487.1 333.8 487.5 334.7 488 335.3C488.5 335.8 488.9 336.2 489.4 336.8C489.8 337.4 490.4 338.1 490.5 338.8Z"/></defs><use href="#rg71" fill="none" stroke="#c8c8c8" stroke-width="3.6"/><use href="#rg71" fill="#c3c3c3" stroke="#555555" stroke-width="2.6"/>
<defs><path id="rg72" d="M559.2 340C559.1 340.9 559 341.6 558.8 342.6C558.6 343.6 558.7 345 558 345.9C557.4 346.8 556 347.6 554.9 347.8C553.8 347.9 552.3 347.3 551.3 346.8C550.3 346.3 549.6 345.5 548.9 344.8C548.2 344.1 547.5 343.5 547.1 342.7C546.6 341.9 546.1 341 546 340C545.8 339 545.7 337.8 546 336.9C546.4 335.9 547.2 334.8 548.1 334.3C549 333.7 550.3 333.6 551.4 333.5C552.5 333.4 553.5 333.5 554.6 333.6C555.6 333.8 557 333.7 557.9 334.3C558.8 334.8 559.6 336 559.8 336.9C560.1 337.9 559.4 339.1 559.2 340Z"/></defs><use href="#rg72" fill="none" stroke="#c8c8c8" stroke-width="4.4"/><use href="#rg72" fill="#c3c3c3" stroke="#555555" stroke-width="3.4"/>
<path d="M494.5 189 H545.5 C546.5 198 544.5 208 540.5 213 C535 218.5 528 220 522 218.5 C514 216 507 212 502 206 C498 201 495 195 494.5 189Z" fill="#6c6c6c" stroke="#2e2e2e" stroke-width="1.8"/>
<ellipse cx="531" cy="197" rx="8" ry="5" fill="#858585"/><ellipse cx="522" cy="210" rx="6" ry="3.5" fill="#7c7c7c"/>
<g fill="none"><path d="M499 192 C505 200 511 208 519 214.5" stroke="#2a2a2a" stroke-width="1.6"/><path d="M505 190 C511 197 517 204 526 210.5" stroke="#353535" stroke-width="1.3"/><path d="M519 190 C525 196 531 202 538 207" stroke="#3c3c3c" stroke-width="1.2"/><path d="M536 191 C537 198 538 204 537 211" stroke="#333" stroke-width="1.2"/><path d="M507.5 200 C510.5 203 513.5 205.5 517 207" stroke="#f4f4f4" stroke-width="2.2"/><path d="M517 195 C521 198 524 200.5 528 202.5" stroke="#e2e2e2" stroke-width="1.3"/><path d="M524 190.5 C528 193.5 532 196 536 198.5" stroke="#d4d4d4" stroke-width="1.1"/><path d="M510 192.5 C513 195 515 196.5 518 197.5" stroke="#cfcfcf" stroke-width="1"/></g>
<defs><path id="rg73" d="M559.4 202C559.3 203.7 559.4 205.5 559.2 207.2C558.9 208.9 558.6 211.1 558 212.4C557.3 213.7 556.3 214.6 555.4 214.9C554.5 215.2 553.5 214.9 552.6 214.4C551.8 213.8 550.9 212.9 550.3 211.7C549.6 210.6 549.1 208.9 548.7 207.3C548.4 205.7 548.2 203.8 548.2 202C548.2 200.2 548.3 198.3 548.7 196.6C549 195 549.6 193.3 550.2 192.2C550.9 191 551.8 190.2 552.7 189.8C553.5 189.3 554.5 189 555.4 189.3C556.3 189.6 557.3 190.4 558 191.6C558.6 192.8 559 195 559.3 196.7C559.5 198.4 559.4 200.3 559.4 202Z"/></defs><use href="#rg73" fill="none" stroke="#cccccc" stroke-width="6.2"/><use href="#rg73" fill="#c4c4c4" stroke="#7e7e7e" stroke-width="5"/>
<path d="M459.1 287C459.2 289.3 458.6 292 457.8 294.2C456.9 296.3 455.6 298.3 454.1 300C452.7 301.6 451 303.5 449.1 304.2C447.2 304.9 444.8 304.8 442.9 304C441.1 303.1 439.6 301 438.3 299.3C437 297.6 436 295.7 435.1 293.6C434.3 291.6 433.5 289.3 433.4 287C433.3 284.7 433.7 282.1 434.4 279.9C435.1 277.7 436.2 275.4 437.6 273.6C439 271.9 440.9 269.9 442.8 269.4C444.7 268.8 447.2 269.4 449 270.4C450.8 271.3 452.1 273.5 453.5 275.1C454.8 276.8 456 278.4 456.9 280.3C457.9 282.3 459 284.7 459.1 287Z" fill="#3a3a3a"/><path d="M454.7 287C454.5 288.8 454.3 290.4 453.9 292.2C453.5 294 453.2 296.4 452.3 297.8C451.4 299.3 449.7 300.7 448.3 301C446.9 301.3 445.2 300.6 443.9 299.8C442.5 299.1 441.4 297.8 440.4 296.6C439.4 295.3 438.6 293.9 437.9 292.3C437.3 290.7 436.8 288.9 436.7 287C436.6 285.1 436.6 282.9 437.1 281.1C437.6 279.4 438.7 277.5 439.8 276.3C440.9 275.2 442.5 274.8 443.9 274.5C445.3 274.2 446.7 274.3 448.1 274.6C449.4 274.9 451.1 275.3 452.2 276.4C453.3 277.5 454.3 279.5 454.8 281.2C455.2 283 454.8 285.2 454.7 287Z" fill="#6a6a6a"/><path d="M452.9 287.5C452.8 289 453 290.4 452.7 291.9C452.5 293.5 452.1 295.4 451.4 296.6C450.6 297.7 449.3 298.5 448.2 298.8C447.2 299.1 445.9 298.7 444.8 298.2C443.8 297.7 442.8 296.9 442 295.9C441.2 294.9 440.5 293.4 440.1 292C439.7 290.6 439.6 289 439.5 287.5C439.5 286 439.6 284.3 440 282.9C440.4 281.5 441.1 280 441.9 279C442.7 278 443.8 277.3 444.9 276.9C445.9 276.5 447.1 276.2 448.2 276.4C449.3 276.7 450.6 277.3 451.4 278.4C452.2 279.5 452.6 281.4 452.9 282.9C453.1 284.5 452.9 286 452.9 287.5Z" fill="#4c4c4c"/>
<path d="M470.5 250.5C470.2 252.1 469.4 253.3 468.7 254.8C468.1 256.3 467.8 258.2 466.6 259.5C465.4 260.9 463.4 262.7 461.5 263.2C459.5 263.7 456.7 263.1 454.7 262.5C452.8 261.8 451.2 260.4 449.7 259.2C448.3 258 446.8 256.8 446 255.4C445.1 253.9 444.6 252.1 444.6 250.5C444.7 248.9 445.6 247.3 446.4 245.8C447.3 244.4 448.3 242.9 449.7 241.7C451.1 240.6 452.9 239.2 454.8 238.7C456.7 238.2 459.2 238.2 461.2 238.6C463.3 239 465.4 239.9 467 241.1C468.5 242.2 469.9 243.9 470.5 245.4C471.1 247 470.8 248.9 470.5 250.5Z" fill="#3c3c3c"/><path d="M468.7 250.5C468.8 251.7 468.5 253.2 467.8 254.2C467.1 255.3 465.6 256.1 464.4 256.8C463.1 257.6 461.9 258.3 460.4 258.7C458.9 259.2 457 259.8 455.4 259.6C453.8 259.4 452 258.5 450.9 257.5C449.9 256.6 449.4 255.1 449 254C448.5 252.8 448.2 251.7 448.1 250.5C448.1 249.3 448 248 448.5 246.9C449 245.8 450.1 244.6 451.2 243.7C452.4 242.9 453.9 242.1 455.5 241.8C457 241.5 459 241.4 460.5 241.7C462 242.1 463.5 243.1 464.6 244C465.6 244.9 466.4 245.9 467.1 247C467.7 248.1 468.6 249.3 468.7 250.5Z" fill="#a8a8a8"/><path d="M467.2 251C467.3 251.9 467.2 253.1 466.7 253.9C466.2 254.8 465.2 255.7 464.1 256.2C463.1 256.7 461.6 257 460.4 257.1C459.1 257.2 457.9 257 456.7 256.7C455.6 256.5 454.6 256.1 453.6 255.5C452.7 255 451.8 254.4 451.1 253.6C450.4 252.9 449.7 251.9 449.5 251C449.3 250.1 449.4 248.8 450 248C450.6 247.1 451.9 246.3 453 245.9C454.1 245.4 455.5 245.3 456.7 245.2C457.9 245.1 459.1 245.1 460.3 245.3C461.4 245.5 462.6 245.8 463.6 246.3C464.6 246.8 465.4 247.5 466 248.3C466.6 249.1 467.1 250.1 467.2 251Z" fill="#7c7c7c"/>
<circle cx="540.5" cy="230.5" r="1" fill="#333"/><circle cx="541.5" cy="235" r="0.9" fill="#333"/><circle cx="508" cy="309" r="1" fill="#333"/>
<rect x="523.2" y="341.5" width="33.7" height="3" fill="#fff"/>
</g>
<circle cx="449.6" cy="197.2" r="7" fill="#222"/>
<text x="445.2" y="201.8" font-size="12.5" fill="#fff">G</text>
<text x="383" y="13.4" font-size="12.8" fill="#111" stroke="#111" stroke-width="0.45" text-anchor="middle" textLength="67.2" lengthAdjust="spacingAndGlyphs">C3H/HePas</text>
<text x="496.5" y="13.4" font-size="12.8" fill="#111" stroke="#111" stroke-width="0.45" text-anchor="middle" textLength="50.6" lengthAdjust="spacingAndGlyphs">C3H/HeJ</text>
<rect x="309.7" y="28.4" width="2.7" height="142.9" fill="#2a2a2a"/>
<rect x="310.1" y="197" width="2.7" height="143.8" fill="#2a2a2a"/>
<text transform="translate(308.3 103.6) rotate(-90)" font-size="16" fill="#1a1a1a" stroke="#1a1a1a" stroke-width="0.4" text-anchor="middle" textLength="83.8" lengthAdjust="spacingAndGlyphs">Unlesioned</text>
<text transform="translate(308.3 269.2) rotate(-90)" font-size="16.4" fill="#1a1a1a" stroke="#1a1a1a" stroke-width="0.4" text-anchor="middle" textLength="66.8" lengthAdjust="spacingAndGlyphs">Lesioned</text>
</svg></body></html>
